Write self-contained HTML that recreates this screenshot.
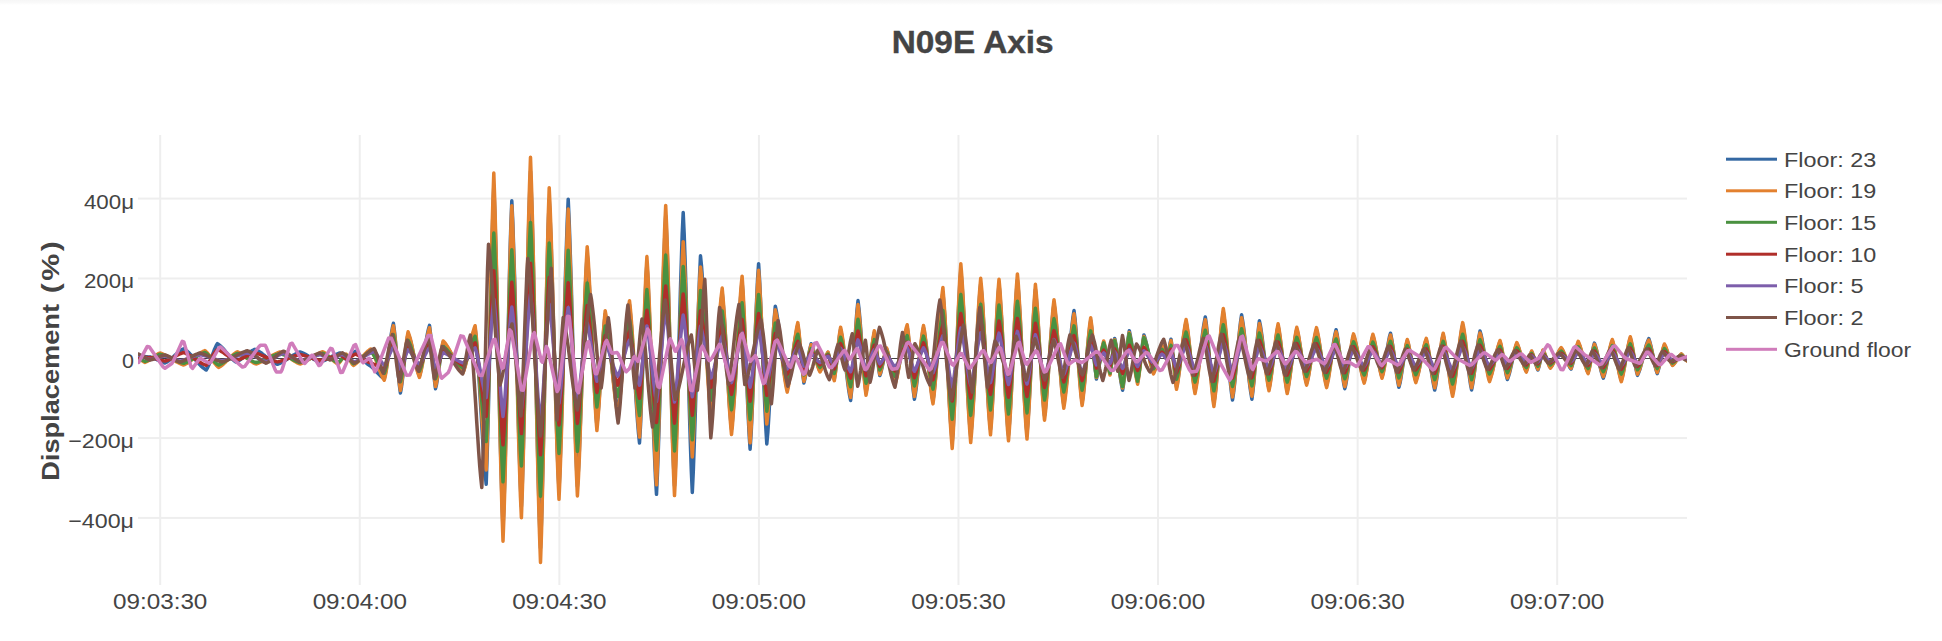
<!DOCTYPE html>
<html><head><meta charset="utf-8"><style>html,body{margin:0;padding:0;background:#fff;overflow:hidden}svg{display:block}</style></head>
<body><svg width="1942" height="641" viewBox="0 0 1942 641"><rect x="0" y="0" width="1942" height="641" fill="#fff"/><defs><linearGradient id="tg" x1="0" y1="0" x2="0" y2="1"><stop offset="0" stop-color="#f6f6f6"/><stop offset="0.5" stop-color="#f9f9f9"/><stop offset="1" stop-color="#ffffff"/></linearGradient></defs><rect x="0" y="0" width="1942" height="5" fill="url(#tg)"/><rect x="159.20" y="135" width="2" height="450" fill="#eeeeee"/><rect x="358.77" y="135" width="2" height="450" fill="#eeeeee"/><rect x="558.34" y="135" width="2" height="450" fill="#eeeeee"/><rect x="757.91" y="135" width="2" height="450" fill="#eeeeee"/><rect x="957.48" y="135" width="2" height="450" fill="#eeeeee"/><rect x="1157.05" y="135" width="2" height="450" fill="#eeeeee"/><rect x="1356.62" y="135" width="2" height="450" fill="#eeeeee"/><rect x="1556.19" y="135" width="2" height="450" fill="#eeeeee"/><rect x="138" y="197.60" width="1549" height="2" fill="#eeeeee"/><rect x="138" y="277.45" width="1549" height="2" fill="#eeeeee"/><rect x="138" y="437.10" width="1549" height="2" fill="#eeeeee"/><rect x="138" y="516.90" width="1549" height="2" fill="#eeeeee"/><rect x="138" y="358" width="1549" height="1" fill="#444"/><defs><clipPath id="pc"><rect x="138" y="135" width="1549" height="450"/></clipPath></defs><g clip-path="url(#pc)" fill="none" stroke-width="3.5" stroke-linejoin="round" stroke-linecap="round"><path d="M138.0,356.0 L139.0,356.1 L140.0,356.1 L141.0,356.2 L142.0,356.3 L143.0,356.4 L144.0,356.5 L145.0,356.6 L146.0,356.7 L147.0,356.8 L148.0,356.9 L149.0,356.9 L150.0,357.0 L151.0,357.3 L152.0,357.6 L153.0,357.9 L154.0,358.4 L155.0,358.8 L156.0,359.3 L157.0,359.8 L158.0,360.2 L159.0,360.7 L160.0,361.2 L161.0,361.6 L162.0,362.1 L163.0,362.4 L164.0,362.7 L165.0,363.0 L166.0,362.5 L167.0,361.9 L168.0,361.3 L168.9,360.6 L169.9,359.8 L170.9,359.0 L171.9,358.1 L172.9,357.2 L173.9,356.3 L174.8,355.4 L175.8,354.5 L176.8,353.6 L177.8,352.7 L178.8,351.9 L179.8,351.1 L180.7,350.4 L181.7,349.8 L182.7,349.2 L183.7,348.7 L184.7,349.3 L185.7,350.0 L186.8,350.8 L187.8,351.7 L188.8,352.6 L189.8,353.7 L190.9,354.7 L191.9,355.8 L192.9,357.0 L193.9,358.2 L194.9,359.4 L196.0,360.5 L197.0,361.7 L198.0,362.9 L199.0,364.0 L200.1,365.0 L201.1,366.1 L202.1,367.0 L203.1,367.9 L204.2,368.7 L205.2,369.4 L206.2,370.0 L207.2,368.4 L208.2,366.3 L209.3,363.9 L210.3,361.2 L211.3,358.3 L212.3,355.4 L213.3,352.5 L214.3,349.8 L215.4,347.4 L216.4,345.3 L217.4,343.7 L218.4,344.3 L219.4,345.1 L220.3,345.9 L221.3,346.8 L222.3,347.8 L223.3,348.8 L224.3,349.9 L225.2,351.1 L226.2,352.3 L227.2,353.4 L228.2,354.6 L229.1,355.8 L230.1,356.9 L231.1,357.9 L232.1,358.9 L233.1,359.8 L234.0,360.6 L235.0,361.4 L236.0,362.0 L237.0,361.6 L238.0,361.1 L239.0,360.5 L240.0,359.9 L241.0,359.2 L242.0,358.4 L243.0,357.7 L244.0,356.9 L245.0,356.1 L245.9,355.2 L246.9,354.4 L247.9,353.6 L248.9,352.9 L249.9,352.1 L250.9,351.4 L251.9,350.8 L252.9,350.2 L253.9,349.7 L254.9,349.3 L255.9,349.7 L256.9,350.2 L258.0,350.8 L259.0,351.4 L260.0,352.1 L261.0,352.8 L262.0,353.5 L263.0,354.3 L264.1,355.1 L265.1,356.0 L266.1,356.8 L267.1,357.6 L268.1,358.5 L269.2,359.3 L270.2,360.1 L271.2,360.8 L272.2,361.5 L273.2,362.2 L274.2,362.8 L275.3,363.4 L276.3,363.9 L277.3,364.3 L278.3,364.0 L279.3,363.6 L280.3,363.1 L281.2,362.7 L282.2,362.1 L283.2,361.6 L284.2,361.0 L285.2,360.4 L286.2,359.8 L287.2,359.1 L288.2,358.5 L289.1,357.8 L290.1,357.2 L291.1,356.5 L292.1,355.9 L293.1,355.3 L294.1,354.7 L295.1,354.2 L296.1,353.6 L297.0,353.2 L298.0,352.7 L299.0,352.3 L300.0,352.0 L301.0,352.3 L302.0,352.7 L303.0,353.1 L304.0,353.6 L305.0,354.1 L306.0,354.6 L307.0,355.2 L308.0,355.8 L309.0,356.4 L310.0,357.0 L311.0,357.6 L312.0,358.2 L313.0,358.8 L314.0,359.4 L315.0,359.9 L316.0,360.4 L317.0,360.9 L318.0,361.3 L319.0,361.7 L320.0,362.0 L321.0,361.7 L322.0,361.4 L323.0,361.0 L324.0,360.6 L325.0,360.1 L326.0,359.6 L327.0,359.1 L328.0,358.6 L329.0,358.1 L330.0,357.5 L331.0,356.9 L332.0,356.4 L333.0,355.9 L334.0,355.4 L335.0,354.9 L336.0,354.4 L337.0,354.0 L338.0,353.6 L339.0,353.3 L340.0,353.0 L341.0,353.7 L342.0,354.7 L343.0,355.9 L344.0,357.1 L345.0,358.3 L346.0,359.3 L347.0,360.0 L348.1,359.2 L349.1,358.2 L350.2,356.9 L351.2,355.6 L352.3,354.3 L353.4,353.0 L354.4,352.0 L355.5,351.2 L356.5,351.9 L357.5,352.8 L358.5,353.8 L359.5,354.9 L360.5,356.1 L361.5,357.4 L362.6,358.6 L363.6,359.9 L364.6,361.1 L365.6,362.2 L366.6,363.2 L367.6,364.1 L368.6,364.8 L369.6,365.4 L370.6,366.1 L371.5,366.8 L372.5,367.7 L373.5,368.6 L374.5,369.6 L375.5,370.7 L376.5,371.7 L377.4,372.8 L378.4,373.8 L379.4,374.8 L380.4,375.8 L381.4,376.6 L382.3,377.4 L383.3,378.1 L384.3,378.7 L385.3,374.3 L386.3,368.7 L387.3,362.1 L388.3,354.7 L389.4,347.2 L390.4,339.9 L391.4,333.3 L392.4,327.7 L393.4,323.3 L394.4,330.6 L395.4,340.5 L396.4,352.0 L397.4,364.2 L398.4,375.7 L399.4,385.6 L400.4,392.9 L401.4,387.6 L402.3,380.5 L403.3,372.3 L404.2,363.3 L405.2,354.3 L406.2,346.0 L407.1,339.0 L408.1,333.7 L409.1,336.3 L410.2,339.6 L411.2,343.5 L412.2,347.9 L413.2,352.5 L414.3,357.2 L415.3,361.8 L416.3,366.2 L417.3,370.1 L418.4,373.4 L419.4,376.1 L420.4,372.5 L421.4,368.0 L422.4,362.8 L423.4,356.9 L424.4,350.7 L425.5,344.6 L426.5,338.7 L427.5,333.4 L428.5,328.9 L429.5,325.4 L430.5,333.4 L431.5,344.4 L432.5,357.0 L433.5,369.7 L434.5,380.7 L435.5,388.7 L436.5,384.5 L437.4,379.0 L438.4,372.5 L439.4,365.5 L440.3,358.4 L441.3,351.9 L442.2,346.4 L443.2,342.2 L444.2,343.2 L445.2,344.3 L446.2,345.5 L447.2,346.9 L448.1,348.4 L449.1,350.0 L450.1,351.7 L451.1,353.5 L452.1,355.3 L453.1,357.1 L454.1,358.9 L455.1,360.7 L456.1,362.5 L457.1,364.2 L458.1,365.8 L459.0,367.3 L460.0,368.6 L461.0,369.9 L462.0,371.0 L463.0,372.0 L464.0,369.5 L465.0,366.4 L466.0,362.8 L467.0,358.8 L468.0,354.4 L469.1,350.0 L470.1,345.5 L471.1,341.2 L472.1,337.2 L473.1,333.6 L474.1,330.5 L475.1,328.0 L476.1,337.8 L477.1,350.0 L478.1,364.3 L479.1,380.3 L480.1,397.4 L481.2,414.8 L482.2,431.9 L483.2,447.9 L484.2,462.2 L485.2,474.4 L486.2,484.2 L487.1,457.3 L488.1,422.0 L489.1,380.3 L490.0,335.1 L490.9,289.9 L491.9,248.2 L492.9,212.9 L493.8,186.0 L494.8,212.9 L495.8,247.6 L496.9,288.7 L497.9,333.9 L498.9,380.5 L499.9,425.7 L501.0,466.7 L502.0,501.4 L503.0,528.4 L504.0,502.6 L505.0,469.4 L505.9,430.1 L506.9,386.9 L507.9,342.3 L508.9,299.1 L509.8,259.8 L510.8,226.6 L511.8,200.8 L512.8,222.1 L513.7,249.2 L514.7,281.0 L515.6,316.4 L516.6,353.7 L517.6,390.9 L518.5,426.3 L519.5,458.2 L520.4,485.2 L521.4,506.5 L522.4,480.1 L523.4,446.1 L524.4,406.0 L525.4,361.7 L526.5,316.1 L527.5,271.9 L528.5,231.7 L529.5,197.7 L530.5,171.3 L531.5,197.6 L532.5,230.9 L533.5,270.2 L534.5,313.8 L535.5,359.7 L536.5,405.6 L537.5,449.2 L538.5,488.5 L539.5,521.8 L540.5,548.1 L541.5,520.7 L542.4,485.3 L543.4,443.6 L544.4,397.6 L545.3,350.2 L546.3,304.2 L547.3,262.4 L548.2,227.1 L549.2,199.6 L550.2,219.9 L551.2,245.5 L552.1,275.7 L553.1,309.2 L554.1,344.5 L555.1,379.8 L556.1,413.4 L557.0,443.6 L558.0,469.2 L559.0,489.4 L560.0,466.6 L561.0,437.1 L562.1,402.4 L563.1,364.1 L564.1,324.6 L565.1,286.3 L566.2,251.5 L567.2,222.0 L568.2,199.2 L569.2,221.8 L570.2,250.9 L571.3,285.3 L572.3,323.2 L573.3,362.3 L574.3,400.2 L575.4,434.6 L576.4,463.8 L577.4,486.4 L578.4,470.2 L579.4,449.7 L580.3,425.5 L581.3,398.7 L582.3,370.4 L583.3,342.2 L584.3,315.4 L585.2,291.2 L586.2,270.7 L587.2,254.5 L588.2,266.4 L589.1,281.5 L590.1,299.4 L591.1,319.2 L592.0,340.0 L593.0,360.8 L594.0,380.6 L595.0,398.4 L595.9,413.5 L596.9,425.4 L597.9,415.4 L599.0,402.2 L600.0,386.6 L601.0,369.7 L602.1,352.9 L603.1,337.3 L604.2,324.1 L605.2,314.0 L606.2,319.5 L607.3,326.3 L608.3,334.3 L609.4,343.1 L610.4,352.7 L611.5,362.5 L612.5,372.4 L613.5,381.9 L614.6,390.8 L615.6,398.7 L616.7,405.5 L617.7,411.0 L618.7,405.0 L619.7,397.6 L620.7,388.9 L621.6,379.2 L622.6,368.7 L623.6,357.9 L624.6,347.1 L625.6,336.7 L626.5,327.0 L627.5,318.3 L628.5,310.9 L629.5,304.8 L630.5,314.5 L631.5,326.7 L632.5,341.1 L633.5,357.1 L634.5,373.9 L635.5,390.7 L636.5,406.7 L637.5,421.1 L638.5,433.4 L639.5,443.0 L640.6,424.1 L641.6,398.8 L642.7,369.0 L643.7,337.7 L644.8,308.0 L645.8,282.6 L646.9,263.7 L647.9,279.8 L648.8,300.2 L649.8,324.2 L650.7,350.9 L651.7,379.0 L652.7,407.1 L653.6,433.8 L654.6,457.8 L655.5,478.2 L656.5,494.3 L657.5,472.4 L658.5,444.2 L659.6,410.8 L660.6,374.1 L661.6,336.3 L662.6,299.6 L663.7,266.2 L664.7,238.0 L665.7,216.1 L666.7,237.3 L667.7,264.7 L668.6,297.1 L669.6,332.7 L670.6,369.4 L671.6,405.0 L672.5,437.4 L673.5,464.7 L674.5,486.0 L675.5,464.5 L676.4,436.7 L677.4,403.9 L678.4,367.9 L679.3,330.6 L680.3,294.5 L681.3,261.8 L682.2,234.0 L683.2,212.5 L684.2,234.5 L685.2,262.9 L686.2,296.5 L687.2,333.4 L688.3,371.5 L689.3,408.4 L690.3,442.0 L691.3,470.4 L692.3,492.4 L693.3,471.1 L694.3,443.1 L695.4,410.0 L696.4,374.1 L697.4,338.2 L698.5,305.1 L699.5,277.1 L700.5,255.8 L701.5,265.8 L702.4,278.3 L703.4,293.0 L704.4,309.4 L705.3,326.8 L706.3,344.6 L707.2,362.1 L708.2,378.5 L709.2,393.2 L710.1,405.7 L711.1,415.7 L712.1,408.0 L713.1,398.4 L714.1,387.1 L715.1,374.6 L716.1,361.2 L717.2,347.5 L718.2,334.1 L719.2,321.6 L720.2,310.3 L721.2,300.7 L722.2,293.0 L723.2,303.7 L724.3,317.6 L725.3,333.9 L726.3,351.9 L727.4,370.4 L728.4,388.4 L729.4,404.7 L730.5,418.5 L731.5,429.3 L732.5,420.0 L733.4,408.5 L734.4,395.0 L735.4,379.9 L736.3,363.8 L737.3,347.4 L738.2,331.3 L739.2,316.2 L740.2,302.7 L741.1,291.2 L742.1,281.9 L743.1,297.0 L744.1,316.8 L745.1,340.2 L746.1,365.6 L747.1,390.9 L748.1,414.3 L749.1,434.1 L750.1,449.2 L751.2,432.5 L752.2,410.5 L753.3,384.6 L754.4,356.4 L755.4,328.3 L756.5,302.4 L757.5,280.4 L758.6,263.7 L759.6,280.0 L760.6,301.3 L761.7,326.5 L762.7,353.8 L763.7,381.1 L764.8,406.3 L765.8,427.6 L766.8,443.9 L767.9,431.5 L768.9,415.2 L770.0,395.9 L771.0,375.0 L772.1,354.2 L773.2,334.9 L774.2,318.6 L775.3,306.2 L776.3,310.9 L777.3,316.8 L778.3,323.6 L779.3,331.3 L780.3,339.5 L781.2,348.0 L782.2,356.5 L783.2,364.7 L784.2,372.3 L785.2,379.1 L786.2,385.0 L787.2,389.7 L788.2,385.7 L789.1,380.6 L790.1,374.7 L791.1,368.1 L792.0,361.0 L793.0,353.8 L793.9,346.8 L794.9,340.1 L795.9,334.2 L796.8,329.1 L797.8,325.1 L798.8,332.4 L799.8,342.4 L800.8,354.0 L801.9,365.6 L802.9,375.6 L803.9,382.9 L804.9,378.8 L806.0,373.3 L807.0,366.8 L808.0,359.9 L809.0,353.4 L810.1,347.9 L811.1,343.8 L812.1,345.9 L813.1,348.7 L814.1,352.0 L815.1,355.6 L816.0,359.3 L817.0,362.9 L818.0,366.1 L819.0,368.9 L820.0,371.0 L821.0,369.4 L822.0,367.2 L823.0,364.6 L824.0,361.7 L825.0,358.9 L826.0,356.3 L827.0,354.1 L828.0,352.4 L829.0,355.8 L830.1,360.4 L831.1,365.8 L832.2,371.1 L833.2,375.7 L834.3,379.1 L835.3,372.8 L836.4,364.2 L837.5,354.3 L838.5,344.3 L839.5,335.7 L840.6,329.4 L841.6,334.3 L842.6,340.6 L843.6,348.0 L844.6,356.3 L845.6,364.9 L846.6,373.6 L847.6,381.8 L848.6,389.2 L849.6,395.5 L850.6,400.5 L851.7,390.0 L852.7,375.9 L853.8,359.3 L854.8,341.8 L855.9,325.2 L856.9,311.1 L858.0,300.6 L859.0,308.9 L860.0,319.8 L861.0,332.7 L862.0,346.7 L863.0,360.6 L864.0,373.5 L865.0,384.4 L866.0,392.7 L867.0,387.3 L868.1,380.2 L869.1,371.8 L870.1,362.7 L871.2,353.6 L872.2,345.2 L873.3,338.0 L874.3,332.6 L875.2,338.1 L876.1,345.5 L877.0,354.1 L878.0,362.7 L878.9,370.2 L879.8,375.6 L880.8,372.8 L881.7,369.0 L882.7,364.5 L883.7,359.8 L884.7,355.4 L885.6,351.6 L886.6,348.7 L887.6,351.8 L888.7,355.9 L889.7,360.7 L890.8,365.9 L891.8,371.1 L892.8,376.0 L893.9,380.0 L894.9,383.1 L895.9,379.9 L897.0,376.0 L898.0,371.4 L899.0,366.3 L900.0,360.8 L901.0,355.1 L902.1,349.4 L903.1,343.9 L904.1,338.7 L905.2,334.2 L906.2,330.2 L907.2,327.0 L908.2,334.7 L909.3,344.9 L910.3,356.9 L911.3,369.5 L912.3,381.5 L913.4,391.7 L914.4,399.3 L915.4,393.7 L916.4,386.4 L917.4,377.8 L918.4,368.4 L919.5,358.7 L920.5,349.2 L921.5,340.7 L922.5,333.4 L923.5,327.8 L924.5,332.9 L925.4,339.3 L926.4,346.9 L927.3,355.4 L928.2,364.2 L929.2,373.1 L930.1,381.6 L931.1,389.2 L932.0,395.6 L933.0,400.7 L934.0,393.1 L935.0,383.6 L936.0,372.3 L937.0,359.7 L938.0,346.5 L938.9,333.3 L939.9,320.8 L940.9,309.5 L941.9,299.9 L942.9,292.4 L943.9,304.2 L945.0,319.3 L946.0,337.3 L947.0,357.1 L948.1,377.5 L949.1,397.2 L950.1,415.2 L951.2,430.4 L952.2,442.2 L953.2,428.7 L954.1,411.2 L955.1,390.6 L956.0,367.9 L957.0,344.6 L957.9,321.9 L958.9,301.3 L959.8,283.8 L960.8,270.3 L961.8,281.9 L962.8,296.6 L963.8,314.0 L964.8,333.2 L965.8,353.5 L966.7,373.7 L967.7,393.0 L968.7,410.3 L969.7,425.0 L970.7,436.6 L971.7,425.9 L972.7,412.4 L973.7,396.5 L974.7,378.8 L975.7,360.2 L976.7,341.6 L977.7,324.0 L978.7,308.1 L979.7,294.6 L980.7,283.9 L981.7,294.1 L982.7,306.9 L983.6,322.1 L984.6,338.9 L985.6,356.7 L986.6,374.4 L987.6,391.2 L988.5,406.4 L989.5,419.3 L990.5,429.4 L991.6,416.4 L992.6,399.3 L993.7,379.0 L994.8,357.1 L995.8,335.2 L996.9,314.9 L997.9,297.8 L999.0,284.7 L1000.0,295.2 L1000.9,308.5 L1001.9,324.2 L1002.8,341.6 L1003.8,359.9 L1004.7,378.2 L1005.6,395.6 L1006.6,411.2 L1007.5,424.5 L1008.5,435.0 L1009.5,422.8 L1010.5,407.1 L1011.5,388.5 L1012.5,368.0 L1013.4,346.9 L1014.4,326.4 L1015.4,307.8 L1016.4,292.1 L1017.4,279.9 L1018.4,290.6 L1019.3,304.2 L1020.3,320.2 L1021.2,338.0 L1022.2,356.7 L1023.2,375.4 L1024.1,393.1 L1025.1,409.2 L1026.0,422.7 L1027.0,433.4 L1028.0,420.5 L1029.1,403.4 L1030.2,383.3 L1031.2,361.5 L1032.2,339.6 L1033.3,319.5 L1034.4,302.5 L1035.4,289.5 L1036.4,299.4 L1037.4,312.2 L1038.4,327.4 L1039.4,344.1 L1040.5,361.3 L1041.5,377.9 L1042.5,393.1 L1043.5,405.9 L1044.5,415.9 L1045.5,408.0 L1046.4,398.1 L1047.3,386.5 L1048.3,373.5 L1049.2,359.9 L1050.2,346.2 L1051.2,333.3 L1052.1,321.6 L1053.0,311.7 L1054.0,303.9 L1055.0,310.9 L1056.0,319.8 L1056.9,330.3 L1057.9,342.0 L1058.9,354.3 L1059.9,366.6 L1060.9,378.2 L1061.8,388.8 L1062.8,397.7 L1063.8,404.7 L1064.8,398.1 L1065.8,389.8 L1066.9,380.0 L1067.9,369.0 L1068.9,357.6 L1069.9,346.1 L1070.9,335.1 L1072.0,325.3 L1073.0,317.0 L1074.0,310.4 L1075.0,318.7 L1076.0,329.6 L1077.0,342.4 L1078.0,356.3 L1079.1,370.3 L1080.1,383.1 L1081.1,394.0 L1082.1,402.3 L1083.1,395.9 L1084.0,387.6 L1085.0,377.8 L1085.9,367.0 L1086.9,355.9 L1087.8,345.1 L1088.8,335.3 L1089.7,327.1 L1090.7,320.6 L1091.7,328.0 L1092.6,338.1 L1093.6,349.8 L1094.5,361.5 L1095.5,371.6 L1096.4,379.0 L1097.4,375.1 L1098.5,369.9 L1099.5,363.8 L1100.6,357.4 L1101.6,351.3 L1102.7,346.1 L1103.7,342.2 L1104.8,346.2 L1105.8,351.7 L1106.8,358.0 L1107.9,364.3 L1109.0,369.8 L1110.0,373.8 L1110.9,368.2 L1111.9,360.4 L1112.8,351.8 L1113.8,344.0 L1114.7,338.4 L1115.7,343.1 L1116.7,349.2 L1117.7,356.5 L1118.7,364.3 L1119.6,372.1 L1120.6,379.4 L1121.6,385.5 L1122.6,390.2 L1123.6,383.9 L1124.5,375.5 L1125.5,365.6 L1126.4,355.3 L1127.4,345.4 L1128.3,337.0 L1129.3,330.7 L1130.3,335.4 L1131.4,341.5 L1132.4,348.7 L1133.4,356.5 L1134.5,364.4 L1135.5,371.6 L1136.6,377.7 L1137.6,382.4 L1138.6,376.4 L1139.7,368.2 L1140.8,358.7 L1141.8,349.2 L1142.9,341.0 L1143.9,335.0 L1144.9,337.6 L1145.8,341.0 L1146.8,344.9 L1147.7,349.3 L1148.7,353.9 L1149.7,358.5 L1150.6,362.9 L1151.6,366.8 L1152.5,370.2 L1153.5,372.8 L1154.6,370.4 L1155.6,367.2 L1156.7,363.4 L1157.8,359.4 L1158.8,355.3 L1159.9,351.5 L1160.9,348.4 L1162.0,345.9 L1163.0,348.1 L1164.0,351.2 L1165.0,354.6 L1166.0,357.7 L1167.0,359.9 L1168.0,355.6 L1169.0,349.5 L1170.0,343.5 L1171.0,339.2 L1171.9,345.3 L1172.8,353.6 L1173.8,363.2 L1174.7,372.7 L1175.6,381.0 L1176.5,387.1 L1177.5,382.6 L1178.4,376.9 L1179.4,370.1 L1180.3,362.6 L1181.3,354.7 L1182.3,346.8 L1183.2,339.2 L1184.2,332.5 L1185.1,326.7 L1186.1,322.2 L1187.1,327.6 L1188.1,334.6 L1189.1,342.9 L1190.1,352.0 L1191.0,361.4 L1192.0,370.5 L1193.0,378.7 L1194.0,385.7 L1195.0,391.1 L1196.0,385.9 L1197.1,379.4 L1198.1,371.6 L1199.1,363.1 L1200.2,354.0 L1201.2,345.0 L1202.2,336.4 L1203.2,328.6 L1204.3,322.1 L1205.3,316.9 L1206.3,323.7 L1207.2,332.4 L1208.2,342.8 L1209.1,354.1 L1210.1,365.9 L1211.0,377.3 L1212.0,387.6 L1212.9,396.3 L1213.9,403.1 L1214.9,396.0 L1216.0,386.7 L1217.0,375.8 L1218.1,363.8 L1219.1,351.4 L1220.2,339.4 L1221.2,328.5 L1222.3,319.2 L1223.3,312.1 L1224.3,319.0 L1225.3,327.9 L1226.4,338.5 L1227.4,350.1 L1228.4,362.0 L1229.4,373.6 L1230.5,384.2 L1231.5,393.1 L1232.5,400.0 L1233.5,393.3 L1234.5,384.6 L1235.5,374.4 L1236.5,363.2 L1237.6,351.5 L1238.6,340.3 L1239.6,330.1 L1240.6,321.4 L1241.6,314.7 L1242.6,320.6 L1243.7,328.1 L1244.7,336.9 L1245.7,346.7 L1246.8,356.9 L1247.8,367.2 L1248.8,377.0 L1249.8,385.8 L1250.9,393.3 L1251.9,399.2 L1252.8,392.1 L1253.8,382.8 L1254.7,371.9 L1255.7,360.0 L1256.6,348.1 L1257.5,337.2 L1258.5,327.9 L1259.4,320.8 L1260.4,325.5 L1261.3,331.5 L1262.3,338.6 L1263.2,346.4 L1264.2,354.7 L1265.2,362.9 L1266.1,370.7 L1267.1,377.8 L1268.0,383.8 L1269.0,388.5 L1270.0,383.6 L1271.0,377.3 L1272.0,369.8 L1273.0,361.6 L1274.1,353.1 L1275.1,344.9 L1276.1,337.4 L1277.1,331.1 L1278.1,326.2 L1279.1,331.3 L1280.1,337.9 L1281.1,345.7 L1282.1,354.3 L1283.2,363.1 L1284.2,371.7 L1285.2,379.4 L1286.2,386.0 L1287.2,391.1 L1288.2,386.8 L1289.1,381.4 L1290.1,374.9 L1291.0,367.8 L1292.0,360.3 L1293.0,352.8 L1293.9,345.6 L1294.9,339.2 L1295.8,333.8 L1296.8,329.5 L1297.8,333.2 L1298.8,338.0 L1299.7,343.6 L1300.7,349.8 L1301.7,356.4 L1302.7,362.9 L1303.7,369.2 L1304.6,374.8 L1305.6,379.6 L1306.6,383.3 L1307.6,379.6 L1308.6,374.8 L1309.6,369.3 L1310.6,363.1 L1311.5,356.5 L1312.5,350.0 L1313.5,343.8 L1314.5,338.2 L1315.5,333.5 L1316.5,329.7 L1317.5,333.6 L1318.5,338.6 L1319.5,344.4 L1320.5,350.8 L1321.5,357.6 L1322.6,364.4 L1323.6,370.9 L1324.6,376.7 L1325.6,381.7 L1326.6,385.5 L1327.5,381.6 L1328.5,376.7 L1329.4,370.9 L1330.4,364.4 L1331.3,357.6 L1332.3,350.8 L1333.2,344.4 L1334.2,338.5 L1335.1,333.6 L1336.1,329.7 L1337.1,334.3 L1338.0,340.3 L1339.0,347.4 L1340.0,355.2 L1340.9,363.2 L1341.9,371.0 L1342.9,378.1 L1343.8,384.1 L1344.8,388.7 L1345.8,384.5 L1346.7,379.1 L1347.7,372.8 L1348.7,365.8 L1349.6,358.5 L1350.6,351.5 L1351.6,345.2 L1352.5,339.8 L1353.5,335.6 L1354.5,338.5 L1355.4,342.0 L1356.4,346.3 L1357.4,350.9 L1358.4,355.9 L1359.3,361.0 L1360.3,366.0 L1361.3,370.7 L1362.3,374.9 L1363.2,378.5 L1364.2,381.4 L1365.2,377.8 L1366.1,373.2 L1367.1,367.7 L1368.1,361.8 L1369.0,355.6 L1370.0,349.6 L1371.0,344.2 L1371.9,339.5 L1372.9,336.0 L1373.9,339.2 L1374.9,343.3 L1375.9,348.2 L1376.9,353.6 L1378.0,359.2 L1379.0,364.6 L1380.0,369.4 L1381.0,373.6 L1382.0,376.8 L1383.1,372.9 L1384.1,367.7 L1385.2,361.6 L1386.2,355.0 L1387.3,348.4 L1388.4,342.3 L1389.4,337.1 L1390.5,333.2 L1391.5,338.1 L1392.6,344.5 L1393.7,352.1 L1394.7,360.2 L1395.8,368.4 L1396.8,376.0 L1397.9,382.4 L1398.9,387.3 L1400.0,383.1 L1401.0,377.6 L1402.0,371.1 L1403.1,364.1 L1404.2,357.0 L1405.2,350.5 L1406.2,345.0 L1407.3,340.8 L1408.4,344.4 L1409.4,349.2 L1410.5,354.8 L1411.5,360.9 L1412.6,366.9 L1413.7,372.5 L1414.7,377.3 L1415.8,380.9 L1416.8,378.0 L1417.9,374.4 L1419.0,370.1 L1420.0,365.3 L1421.0,360.3 L1422.1,355.3 L1423.1,350.6 L1424.2,346.3 L1425.2,342.7 L1426.3,339.8 L1427.3,344.3 L1428.4,350.3 L1429.5,357.3 L1430.5,364.9 L1431.5,372.5 L1432.6,379.5 L1433.7,385.5 L1434.7,390.0 L1435.8,385.0 L1436.8,378.5 L1437.9,370.8 L1439.0,362.5 L1440.0,354.1 L1441.1,346.4 L1442.1,339.9 L1443.2,335.0 L1444.2,339.6 L1445.3,345.5 L1446.3,352.6 L1447.4,360.3 L1448.4,368.3 L1449.5,376.0 L1450.5,383.1 L1451.6,389.0 L1452.6,393.6 L1453.6,388.9 L1454.6,382.8 L1455.6,375.6 L1456.6,367.7 L1457.7,359.4 L1458.7,351.0 L1459.7,343.1 L1460.7,335.9 L1461.7,329.9 L1462.7,325.1 L1463.7,330.2 L1464.7,336.8 L1465.7,344.6 L1466.7,353.1 L1467.6,362.0 L1468.6,370.5 L1469.6,378.3 L1470.6,384.9 L1471.6,390.0 L1472.6,384.7 L1473.7,377.7 L1474.8,369.4 L1475.8,360.5 L1476.8,351.6 L1477.9,343.3 L1479.0,336.3 L1480.0,331.0 L1481.0,334.4 L1481.9,338.7 L1482.8,343.9 L1483.8,349.5 L1484.8,355.5 L1485.7,361.4 L1486.7,367.1 L1487.6,372.2 L1488.5,376.5 L1489.5,380.0 L1490.5,377.3 L1491.6,373.9 L1492.7,369.9 L1493.7,365.5 L1494.8,360.9 L1495.8,356.2 L1496.8,351.8 L1497.9,347.8 L1499.0,344.4 L1500.0,341.7 L1501.1,345.7 L1502.1,351.1 L1503.2,357.3 L1504.2,363.9 L1505.3,370.2 L1506.3,375.5 L1507.4,379.5 L1508.4,376.7 L1509.5,373.1 L1510.5,368.8 L1511.6,364.0 L1512.6,359.2 L1513.7,354.4 L1514.7,350.1 L1515.8,346.5 L1516.8,343.7 L1517.8,345.6 L1518.7,348.0 L1519.6,350.9 L1520.6,354.1 L1521.5,357.4 L1522.5,360.8 L1523.5,363.9 L1524.4,366.8 L1525.3,369.2 L1526.3,371.1 L1527.4,368.0 L1528.4,363.7 L1529.5,358.9 L1530.5,354.6 L1531.6,351.5 L1532.6,353.9 L1533.7,357.1 L1534.8,360.8 L1535.8,364.5 L1536.9,367.7 L1537.9,370.0 L1538.9,366.9 L1539.9,362.7 L1541.0,357.9 L1542.0,353.7 L1543.0,350.6 L1544.1,352.4 L1545.1,354.8 L1546.2,357.6 L1547.2,360.5 L1548.3,363.3 L1549.3,365.7 L1550.4,367.5 L1551.4,366.3 L1552.4,364.8 L1553.3,363.0 L1554.3,361.1 L1555.3,359.0 L1556.3,356.9 L1557.3,354.8 L1558.3,352.8 L1559.2,351.0 L1560.2,349.5 L1561.2,348.3 L1562.2,349.8 L1563.2,351.6 L1564.1,353.8 L1565.1,356.2 L1566.1,358.7 L1567.1,361.3 L1568.1,363.7 L1569.0,365.8 L1570.0,367.7 L1571.0,369.1 L1572.0,366.3 L1573.1,362.5 L1574.1,358.1 L1575.1,353.5 L1576.1,349.1 L1577.2,345.3 L1578.2,342.5 L1579.2,344.6 L1580.2,347.2 L1581.2,350.4 L1582.2,353.8 L1583.2,357.5 L1584.1,361.2 L1585.1,364.6 L1586.1,367.8 L1587.1,370.4 L1588.1,372.5 L1589.1,368.8 L1590.2,363.7 L1591.2,357.8 L1592.3,351.9 L1593.4,346.8 L1594.4,343.1 L1595.4,345.9 L1596.4,349.4 L1597.4,353.6 L1598.4,358.2 L1599.3,363.0 L1600.3,367.6 L1601.3,371.8 L1602.3,375.3 L1603.3,378.1 L1604.3,375.2 L1605.3,371.4 L1606.3,366.9 L1607.3,362.0 L1608.3,356.9 L1609.3,352.0 L1610.3,347.5 L1611.3,343.7 L1612.3,340.8 L1613.3,343.9 L1614.3,347.9 L1615.3,352.6 L1616.3,357.8 L1617.3,363.1 L1618.3,368.3 L1619.3,373.0 L1620.3,377.0 L1621.3,380.1 L1622.3,376.8 L1623.3,372.5 L1624.3,367.5 L1625.3,362.0 L1626.3,356.3 L1627.3,350.8 L1628.3,345.8 L1629.3,341.6 L1630.3,338.3 L1631.3,342.2 L1632.4,347.5 L1633.4,353.6 L1634.4,360.1 L1635.4,366.2 L1636.5,371.5 L1637.5,375.4 L1638.5,373.1 L1639.6,370.2 L1640.6,366.8 L1641.6,363.1 L1642.6,359.1 L1643.7,354.9 L1644.7,350.9 L1645.7,347.2 L1646.7,343.8 L1647.8,340.9 L1648.8,338.6 L1649.8,341.8 L1650.9,345.9 L1652.0,350.8 L1653.0,356.1 L1654.0,361.4 L1655.1,366.3 L1656.2,370.4 L1657.2,373.6 L1658.2,370.6 L1659.3,366.5 L1660.3,361.8 L1661.3,356.8 L1662.3,352.1 L1663.4,348.0 L1664.4,345.0 L1665.4,346.8 L1666.4,349.2 L1667.4,352.0 L1668.5,355.0 L1669.5,358.0 L1670.5,360.8 L1671.5,363.2 L1672.5,365.0 L1673.5,364.1 L1674.5,363.0 L1675.5,361.8 L1676.5,360.3 L1677.4,358.9 L1678.4,357.4 L1679.4,356.1 L1680.4,355.1 L1681.4,354.2 L1682.3,355.0 L1683.3,356.2 L1684.2,357.5 L1685.1,358.8 L1686.1,360.0 L1687.0,360.8" stroke="#3468a3"/><path d="M138.0,358.0 L139.0,358.5 L140.0,359.1 L141.0,359.8 L142.0,360.6 L143.0,361.3 L144.0,361.9 L145.0,362.4 L146.0,362.0 L147.0,361.5 L148.0,360.9 L149.0,360.3 L150.0,359.6 L151.0,358.8 L152.0,358.1 L153.0,357.3 L154.0,356.6 L155.0,355.8 L156.0,355.1 L157.0,354.5 L158.0,353.9 L159.0,353.4 L160.0,353.0 L161.0,353.3 L162.0,353.7 L163.0,354.1 L163.9,354.5 L164.9,355.0 L165.9,355.5 L166.9,356.0 L167.9,356.6 L168.9,357.2 L169.9,357.8 L170.9,358.4 L171.8,359.0 L172.8,359.6 L173.8,360.2 L174.8,360.8 L175.8,361.4 L176.8,362.0 L177.8,362.5 L178.8,363.0 L179.8,363.5 L180.7,363.9 L181.7,364.3 L182.7,364.7 L183.7,365.0 L184.7,364.6 L185.7,364.0 L186.7,363.5 L187.7,362.9 L188.7,362.2 L189.8,361.4 L190.8,360.7 L191.8,359.9 L192.8,359.1 L193.8,358.2 L194.8,357.4 L195.8,356.5 L196.8,355.7 L197.8,354.9 L198.8,354.2 L199.9,353.4 L200.9,352.7 L201.9,352.1 L202.9,351.6 L203.9,351.0 L204.9,350.6 L205.9,351.4 L206.9,352.4 L207.8,353.5 L208.8,354.7 L209.8,356.1 L210.8,357.5 L211.8,359.0 L212.7,360.5 L213.7,361.9 L214.7,363.3 L215.7,364.5 L216.6,365.6 L217.6,366.6 L218.6,367.4 L219.6,366.9 L220.6,366.2 L221.6,365.5 L222.6,364.8 L223.5,363.9 L224.5,363.0 L225.5,362.1 L226.5,361.1 L227.5,360.1 L228.5,359.1 L229.5,358.1 L230.5,357.1 L231.5,356.2 L232.5,355.3 L233.4,354.4 L234.4,353.7 L235.4,353.0 L236.4,352.3 L237.4,351.8 L238.4,352.2 L239.4,352.7 L240.3,353.2 L241.3,353.9 L242.3,354.5 L243.3,355.2 L244.3,356.0 L245.2,356.7 L246.2,357.5 L247.2,358.3 L248.2,359.1 L249.1,359.8 L250.1,360.6 L251.1,361.3 L252.1,361.9 L253.1,362.6 L254.0,363.1 L255.0,363.6 L256.0,364.0 L257.0,363.7 L258.0,363.3 L259.0,362.9 L260.0,362.5 L261.0,362.0 L262.0,361.5 L263.0,361.0 L264.0,360.4 L265.0,359.8 L266.0,359.2 L267.0,358.6 L268.0,358.0 L269.0,357.4 L270.0,356.8 L271.0,356.2 L272.0,355.6 L273.0,355.0 L274.0,354.5 L275.0,354.0 L276.0,353.5 L277.0,353.1 L278.0,352.7 L279.0,352.3 L280.0,352.0 L281.0,352.4 L282.0,352.8 L283.0,353.3 L284.0,353.9 L285.0,354.5 L286.0,355.1 L287.0,355.8 L288.0,356.5 L289.0,357.3 L290.0,358.0 L291.0,358.7 L292.0,359.5 L293.0,360.2 L294.0,360.9 L295.0,361.5 L296.0,362.1 L297.0,362.7 L298.0,363.2 L299.0,363.6 L300.0,364.0 L301.0,363.7 L302.0,363.3 L303.0,362.8 L304.0,362.4 L305.0,361.8 L305.9,361.3 L306.9,360.7 L307.9,360.1 L308.9,359.5 L309.9,358.8 L310.9,358.2 L311.9,357.5 L312.9,356.9 L313.9,356.2 L314.9,355.6 L315.9,355.0 L316.9,354.4 L317.8,353.9 L318.8,353.3 L319.8,352.9 L320.8,352.4 L321.8,352.0 L322.8,351.7 L323.8,352.2 L324.8,352.9 L325.8,353.6 L326.9,354.5 L327.9,355.4 L328.9,356.4 L329.9,357.3 L330.9,358.4 L331.9,359.3 L332.9,360.3 L333.9,361.2 L335.0,362.1 L336.0,362.8 L337.0,363.5 L338.0,364.0 L339.0,363.1 L340.0,361.9 L341.0,360.5 L342.0,359.0 L343.0,357.5 L344.0,356.1 L345.0,354.9 L346.0,354.0 L347.1,355.2 L348.1,356.8 L349.2,358.7 L350.2,360.7 L351.3,362.6 L352.3,364.2 L353.4,365.4 L354.4,364.8 L355.4,364.0 L356.5,363.2 L357.5,362.2 L358.5,361.2 L359.5,360.1 L360.6,359.0 L361.6,357.8 L362.6,356.6 L363.6,355.4 L364.7,354.3 L365.7,353.2 L366.7,352.2 L367.7,351.2 L368.8,350.4 L369.8,349.6 L370.8,349.0 L371.8,350.5 L372.7,352.3 L373.7,354.4 L374.7,356.7 L375.6,359.2 L376.6,361.9 L377.6,364.6 L378.5,367.3 L379.5,370.0 L380.4,372.5 L381.4,374.8 L382.4,376.9 L383.3,378.7 L384.3,380.2 L385.3,375.9 L386.3,370.4 L387.3,363.9 L388.3,356.7 L389.4,349.3 L390.4,342.1 L391.4,335.6 L392.4,330.0 L393.4,325.7 L394.4,332.6 L395.4,341.7 L396.4,352.5 L397.4,363.8 L398.4,374.5 L399.4,383.6 L400.4,390.5 L401.4,385.2 L402.3,378.2 L403.3,370.0 L404.2,361.1 L405.2,352.2 L406.2,344.0 L407.1,337.1 L408.1,331.8 L409.1,334.7 L410.2,338.2 L411.2,342.4 L412.2,347.1 L413.2,352.1 L414.3,357.1 L415.3,362.1 L416.3,366.8 L417.3,371.0 L418.4,374.5 L419.4,377.4 L420.4,373.9 L421.4,369.5 L422.4,364.4 L423.4,358.6 L424.4,352.5 L425.5,346.5 L426.5,340.7 L427.5,335.6 L428.5,331.2 L429.5,327.7 L430.5,335.2 L431.5,345.4 L432.5,357.1 L433.5,368.9 L434.5,379.1 L435.5,386.6 L436.5,382.5 L437.4,377.1 L438.4,370.7 L439.4,363.8 L440.3,356.9 L441.3,350.5 L442.2,345.1 L443.2,341.0 L444.2,342.0 L445.2,343.2 L446.2,344.6 L447.2,346.1 L448.1,347.7 L449.1,349.4 L450.1,351.2 L451.1,353.1 L452.1,355.0 L453.1,357.0 L454.1,359.0 L455.1,360.9 L456.1,362.8 L457.1,364.6 L458.1,366.3 L459.0,367.9 L460.0,369.4 L461.0,370.8 L462.0,372.0 L463.0,373.0 L464.0,370.3 L465.0,367.0 L466.0,363.1 L467.0,358.8 L468.0,354.2 L469.1,349.4 L470.1,344.5 L471.1,339.9 L472.1,335.6 L473.1,331.7 L474.1,328.4 L475.1,325.7 L476.1,334.7 L477.1,346.0 L478.1,359.3 L479.1,374.1 L480.1,389.8 L481.2,405.9 L482.2,421.6 L483.2,436.4 L484.2,449.7 L485.2,461.0 L486.2,470.0 L487.1,443.2 L488.1,408.1 L489.1,366.5 L490.0,321.5 L490.9,276.5 L491.9,234.9 L492.9,199.8 L493.8,173.0 L494.8,202.0 L495.8,239.3 L496.9,283.5 L497.9,332.0 L498.9,382.2 L499.9,430.7 L501.0,474.9 L502.0,512.2 L503.0,541.2 L504.0,514.8 L505.0,480.8 L505.9,440.6 L506.9,396.3 L507.9,350.6 L508.9,306.4 L509.8,266.1 L510.8,232.1 L511.8,205.7 L512.8,227.5 L513.7,255.1 L514.7,287.6 L515.6,323.7 L516.6,361.7 L517.6,399.7 L518.5,435.8 L519.5,468.3 L520.4,495.9 L521.4,517.7 L522.4,489.3 L523.4,452.8 L524.4,409.6 L525.4,362.0 L526.5,312.9 L527.5,265.4 L528.5,222.1 L529.5,185.6 L530.5,157.2 L531.5,185.5 L532.5,221.3 L533.5,263.5 L534.5,310.4 L535.5,359.8 L536.5,409.2 L537.5,456.1 L538.5,498.3 L539.5,534.1 L540.5,562.4 L541.5,532.9 L542.4,494.9 L543.4,450.0 L544.4,400.6 L545.3,349.5 L546.3,300.1 L547.3,255.2 L548.2,217.2 L549.2,187.7 L550.2,209.4 L551.2,237.0 L552.1,269.5 L553.1,305.5 L554.1,343.5 L555.1,381.5 L556.1,417.5 L557.0,450.0 L558.0,477.6 L559.0,499.3 L560.0,476.4 L561.0,447.0 L562.1,412.2 L563.1,373.9 L564.1,334.4 L565.1,296.1 L566.2,261.3 L567.2,231.9 L568.2,209.0 L569.2,231.6 L570.2,260.7 L571.3,295.1 L572.3,333.0 L573.3,372.0 L574.3,409.9 L575.4,444.3 L576.4,473.4 L577.4,496.0 L578.4,478.6 L579.4,456.6 L580.3,430.6 L581.3,401.7 L582.3,371.4 L583.3,341.0 L584.3,312.1 L585.2,286.1 L586.2,264.1 L587.2,246.7 L588.2,259.5 L589.1,275.8 L590.1,294.9 L591.1,316.2 L592.0,338.6 L593.0,361.0 L594.0,382.3 L595.0,401.4 L595.9,417.7 L596.9,430.5 L597.9,419.7 L599.0,405.5 L600.0,388.8 L601.0,370.6 L602.1,352.4 L603.1,335.7 L604.2,321.5 L605.2,310.7 L606.2,316.6 L607.3,323.9 L608.3,332.5 L609.4,342.0 L610.4,352.2 L611.5,362.9 L612.5,373.5 L613.5,383.7 L614.6,393.2 L615.6,401.8 L616.7,409.1 L617.7,415.0 L618.7,408.5 L619.7,400.5 L620.7,391.2 L621.6,380.7 L622.6,369.5 L623.6,357.9 L624.6,346.3 L625.6,335.1 L626.5,324.6 L627.5,315.3 L628.5,307.3 L629.5,300.8 L630.5,310.3 L631.5,322.4 L632.5,336.6 L633.5,352.3 L634.5,368.9 L635.5,385.5 L636.5,401.3 L637.5,415.5 L638.5,427.6 L639.5,437.1 L640.6,418.0 L641.6,392.5 L642.7,362.6 L643.7,331.1 L644.8,301.1 L645.8,275.6 L646.9,256.6 L647.9,272.5 L648.8,292.7 L649.8,316.5 L650.7,342.9 L651.7,370.7 L652.7,398.5 L653.6,424.9 L654.6,448.7 L655.5,468.9 L656.5,484.8 L657.5,462.8 L658.5,434.5 L659.6,401.0 L660.6,364.1 L661.6,326.1 L662.6,289.2 L663.7,255.7 L664.7,227.4 L665.7,205.4 L666.7,228.2 L667.7,257.7 L668.6,292.5 L669.6,330.7 L670.6,370.3 L671.6,408.5 L672.5,443.3 L673.5,472.8 L674.5,495.6 L675.5,475.6 L676.4,449.9 L677.4,419.4 L678.4,385.9 L679.3,351.4 L680.3,317.9 L681.3,287.4 L682.2,261.7 L683.2,241.7 L684.2,258.7 L685.2,280.5 L686.2,306.3 L687.2,334.7 L688.3,364.0 L689.3,392.4 L690.3,418.2 L691.3,440.0 L692.3,457.0 L693.3,439.8 L694.3,417.3 L695.4,390.8 L696.4,361.9 L697.4,333.1 L698.5,306.6 L699.5,284.1 L700.5,266.9 L701.5,276.5 L702.4,288.5 L703.4,302.5 L704.4,318.2 L705.3,334.9 L706.3,352.0 L707.2,368.7 L708.2,384.4 L709.2,398.4 L710.1,410.4 L711.1,420.0 L712.1,411.7 L713.1,401.4 L714.1,389.3 L715.1,375.8 L716.1,361.4 L717.2,346.7 L718.2,332.3 L719.2,318.8 L720.2,306.7 L721.2,296.4 L722.2,288.1 L723.2,299.6 L724.3,314.5 L725.3,332.1 L726.3,351.4 L727.4,371.3 L728.4,390.7 L729.4,408.2 L730.5,423.1 L731.5,434.6 L732.5,424.7 L733.4,412.3 L734.4,397.7 L735.4,381.5 L736.3,364.2 L737.3,346.6 L738.2,329.3 L739.2,313.1 L740.2,298.5 L741.1,286.1 L742.1,276.2 L743.1,291.2 L744.1,311.0 L745.1,334.3 L746.1,359.5 L747.1,384.8 L748.1,408.1 L749.1,427.8 L750.1,442.8 L751.2,427.3 L752.2,406.9 L753.3,382.7 L754.4,356.6 L755.4,330.4 L756.5,306.3 L757.5,285.9 L758.6,270.3 L759.6,284.2 L760.6,302.4 L761.7,323.9 L762.7,347.2 L763.7,370.4 L764.8,391.9 L765.8,410.1 L766.8,424.0 L767.9,413.7 L768.9,400.2 L770.0,384.2 L771.0,366.9 L772.1,349.6 L773.2,333.7 L774.2,320.1 L775.3,309.8 L776.3,314.5 L777.3,320.3 L778.3,327.0 L779.3,334.5 L780.3,342.6 L781.2,351.0 L782.2,359.3 L783.2,367.4 L784.2,374.9 L785.2,381.7 L786.2,387.4 L787.2,392.1 L788.2,387.7 L789.1,382.3 L790.1,375.9 L791.1,368.8 L792.0,361.2 L793.0,353.5 L793.9,345.9 L794.9,338.8 L795.9,332.4 L796.8,327.0 L797.8,322.6 L798.8,330.0 L799.8,340.2 L800.8,351.9 L801.9,363.6 L802.9,373.7 L803.9,381.2 L804.9,377.3 L806.0,372.2 L807.0,366.2 L808.0,359.8 L809.0,353.8 L810.1,348.6 L811.1,344.8 L812.1,347.0 L813.1,349.7 L814.1,353.0 L815.1,356.6 L816.0,360.3 L817.0,363.8 L818.0,367.1 L819.0,369.9 L820.0,372.0 L821.0,370.2 L822.0,367.8 L823.0,365.0 L824.0,362.0 L825.0,359.0 L826.0,356.2 L827.0,353.8 L828.0,352.0 L829.0,355.6 L830.1,360.6 L831.1,366.4 L832.2,372.1 L833.2,377.1 L834.3,380.7 L835.3,373.9 L836.4,364.6 L837.5,353.9 L838.5,343.2 L839.5,334.0 L840.6,327.2 L841.6,332.1 L842.6,338.3 L843.6,345.7 L844.6,353.8 L845.6,362.4 L846.6,370.9 L847.6,379.1 L848.6,386.4 L849.6,392.6 L850.6,397.5 L851.7,387.7 L852.7,374.6 L853.8,359.2 L854.8,343.0 L855.9,327.6 L856.9,314.4 L858.0,304.6 L859.0,312.8 L860.0,323.5 L861.0,336.2 L862.0,350.0 L863.0,363.7 L864.0,376.4 L865.0,387.1 L866.0,395.3 L867.0,389.5 L868.1,381.8 L869.1,372.8 L870.1,363.0 L871.2,353.2 L872.2,344.2 L873.3,336.5 L874.3,330.7 L875.2,336.2 L876.1,343.8 L877.0,352.5 L878.0,361.3 L878.9,368.8 L879.8,374.4 L880.8,371.6 L881.7,367.9 L882.7,363.5 L883.7,358.9 L884.7,354.5 L885.6,350.8 L886.6,348.0 L887.6,351.3 L888.7,355.7 L889.7,360.9 L890.8,366.5 L891.8,372.1 L892.8,377.3 L893.9,381.7 L894.9,385.0 L895.9,381.6 L897.0,377.4 L898.0,372.4 L899.0,366.9 L900.0,361.0 L901.0,354.9 L902.1,348.7 L903.1,342.8 L904.1,337.3 L905.2,332.3 L906.2,328.1 L907.2,324.7 L908.2,332.3 L909.3,342.4 L910.3,354.3 L911.3,366.8 L912.3,378.7 L913.4,388.9 L914.4,396.4 L915.4,390.8 L916.4,383.7 L917.4,375.1 L918.4,365.8 L919.5,356.1 L920.5,346.8 L921.5,338.3 L922.5,331.1 L923.5,325.5 L924.5,331.0 L925.4,337.9 L926.4,346.1 L927.3,355.2 L928.2,364.7 L929.2,374.2 L930.1,383.3 L931.1,391.5 L932.0,398.4 L933.0,403.9 L934.0,395.8 L935.0,385.5 L936.0,373.3 L937.0,359.8 L938.0,345.6 L938.9,331.5 L939.9,318.0 L940.9,305.8 L941.9,295.5 L942.9,287.4 L943.9,300.1 L945.0,316.4 L946.0,335.7 L947.0,357.0 L948.1,378.9 L949.1,400.2 L950.1,419.5 L951.2,435.8 L952.2,448.5 L953.2,434.0 L954.1,415.2 L955.1,393.1 L956.0,368.7 L957.0,343.5 L957.9,319.1 L958.9,297.0 L959.8,278.2 L960.8,263.7 L961.8,276.2 L962.8,292.0 L963.8,310.6 L964.8,331.3 L965.8,353.1 L966.7,374.9 L967.7,395.6 L968.7,414.2 L969.7,430.0 L970.7,442.5 L971.7,431.0 L972.7,416.5 L973.7,399.4 L974.7,380.4 L975.7,360.4 L976.7,340.4 L977.7,321.4 L978.7,304.3 L979.7,289.8 L980.7,278.3 L981.7,289.2 L982.7,303.1 L983.6,319.4 L984.6,337.5 L985.6,356.6 L986.6,375.6 L987.6,393.7 L988.5,410.0 L989.5,423.9 L990.5,434.8 L991.6,420.8 L992.6,402.3 L993.7,380.6 L994.8,357.0 L995.8,333.4 L996.9,311.7 L997.9,293.2 L999.0,279.2 L1000.0,290.5 L1000.9,304.8 L1001.9,321.6 L1002.8,340.3 L1003.8,360.0 L1004.7,379.7 L1005.6,398.4 L1006.6,415.2 L1007.5,429.5 L1008.5,440.8 L1009.5,427.7 L1010.5,410.8 L1011.5,390.8 L1012.5,368.8 L1013.4,346.0 L1014.4,324.0 L1015.4,304.0 L1016.4,287.1 L1017.4,274.0 L1018.4,285.5 L1019.3,300.1 L1020.3,317.3 L1021.2,336.4 L1022.2,356.6 L1023.2,376.7 L1024.1,395.8 L1025.1,413.0 L1026.0,427.6 L1027.0,439.1 L1028.0,425.1 L1029.1,406.8 L1030.2,385.2 L1031.2,361.7 L1032.2,338.2 L1033.3,316.6 L1034.4,298.3 L1035.4,284.3 L1036.4,295.0 L1037.4,308.8 L1038.4,325.1 L1039.4,343.0 L1040.5,361.5 L1041.5,379.4 L1042.5,395.7 L1043.5,409.5 L1044.5,420.2 L1045.5,411.8 L1046.4,401.2 L1047.3,388.6 L1048.3,374.7 L1049.2,360.0 L1050.2,345.3 L1051.2,331.4 L1052.1,318.8 L1053.0,308.2 L1054.0,299.8 L1055.0,307.4 L1056.0,316.9 L1056.9,328.2 L1057.9,340.8 L1058.9,354.0 L1059.9,367.2 L1060.9,379.8 L1061.8,391.1 L1062.8,400.6 L1063.8,408.2 L1064.8,401.6 L1065.8,393.3 L1066.9,383.4 L1067.9,372.5 L1068.9,361.0 L1069.9,349.5 L1070.9,338.5 L1072.0,328.7 L1073.0,320.3 L1074.0,313.7 L1075.0,322.0 L1076.0,332.9 L1077.0,345.8 L1078.0,359.7 L1079.1,373.6 L1080.1,386.4 L1081.1,397.3 L1082.1,405.6 L1083.1,398.7 L1084.0,389.8 L1085.0,379.3 L1085.9,367.7 L1086.9,355.7 L1087.8,344.1 L1088.8,333.6 L1089.7,324.7 L1090.7,317.8 L1091.7,325.4 L1092.6,335.7 L1093.6,347.7 L1094.5,359.6 L1095.5,370.0 L1096.4,377.5 L1097.4,373.7 L1098.5,368.5 L1099.5,362.5 L1100.6,356.1 L1101.6,350.0 L1102.7,344.9 L1103.7,341.0 L1104.8,345.3 L1105.8,351.2 L1106.8,358.0 L1107.9,364.8 L1109.0,370.7 L1110.0,375.0 L1110.9,369.4 L1111.9,361.7 L1112.8,353.1 L1113.8,345.4 L1114.7,339.8 L1115.7,344.1 L1116.7,349.8 L1117.7,356.6 L1118.7,363.9 L1119.6,371.2 L1120.6,377.9 L1121.6,383.6 L1122.6,388.0 L1123.6,382.1 L1124.5,374.3 L1125.5,365.1 L1126.4,355.5 L1127.4,346.3 L1128.3,338.5 L1129.3,332.6 L1130.3,337.3 L1131.4,343.4 L1132.4,350.6 L1133.4,358.4 L1134.5,366.2 L1135.5,373.4 L1136.6,379.5 L1137.6,384.2 L1138.6,378.2 L1139.7,369.9 L1140.8,360.4 L1141.8,350.9 L1142.9,342.7 L1143.9,336.6 L1144.9,339.2 L1145.8,342.5 L1146.8,346.4 L1147.7,350.7 L1148.7,355.3 L1149.7,359.8 L1150.6,364.1 L1151.6,368.0 L1152.5,371.3 L1153.5,373.9 L1154.6,371.3 L1155.6,367.9 L1156.7,363.8 L1157.8,359.4 L1158.8,355.1 L1159.9,351.0 L1160.9,347.6 L1162.0,345.0 L1163.0,347.4 L1164.0,350.7 L1165.0,354.3 L1166.0,357.6 L1167.0,360.0 L1168.0,355.9 L1169.0,350.3 L1170.0,344.6 L1171.0,340.5 L1171.9,346.7 L1172.8,355.2 L1173.8,364.9 L1174.7,374.7 L1175.6,383.1 L1176.5,389.3 L1177.5,384.4 L1178.4,378.3 L1179.4,371.0 L1180.3,362.9 L1181.3,354.4 L1182.3,345.9 L1183.2,337.8 L1184.2,330.5 L1185.1,324.4 L1186.1,319.5 L1187.1,325.3 L1188.1,332.8 L1189.1,341.7 L1190.1,351.5 L1191.0,361.6 L1192.0,371.4 L1193.0,380.3 L1194.0,387.8 L1195.0,393.6 L1196.0,388.4 L1197.1,381.9 L1198.1,374.2 L1199.1,365.7 L1200.2,356.7 L1201.2,347.7 L1202.2,339.2 L1203.2,331.5 L1204.3,324.9 L1205.3,319.8 L1206.3,326.6 L1207.2,335.4 L1208.2,345.8 L1209.1,357.2 L1210.1,369.0 L1211.0,380.5 L1212.0,390.9 L1212.9,399.7 L1213.9,406.5 L1214.9,398.8 L1216.0,388.9 L1217.0,377.1 L1218.1,364.2 L1219.1,350.9 L1220.2,338.0 L1221.2,326.2 L1222.3,316.3 L1223.3,308.6 L1224.3,315.6 L1225.3,324.5 L1226.4,335.1 L1227.4,346.8 L1228.4,358.9 L1229.4,370.5 L1230.5,381.1 L1231.5,390.1 L1232.5,397.1 L1233.5,390.8 L1234.5,382.8 L1235.5,373.3 L1236.5,362.8 L1237.6,352.0 L1238.6,341.5 L1239.6,332.0 L1240.6,324.0 L1241.6,317.7 L1242.6,323.2 L1243.7,330.2 L1244.7,338.4 L1245.7,347.5 L1246.8,357.0 L1247.8,366.6 L1248.8,375.7 L1249.8,383.9 L1250.9,390.8 L1251.9,396.3 L1252.8,389.8 L1253.8,381.1 L1254.7,370.9 L1255.7,359.9 L1256.6,348.8 L1257.5,338.6 L1258.5,330.0 L1259.4,323.4 L1260.4,328.1 L1261.3,334.1 L1262.3,341.1 L1263.2,348.9 L1264.2,357.1 L1265.2,365.3 L1266.1,373.1 L1267.1,380.1 L1268.0,386.1 L1269.0,390.8 L1270.0,385.5 L1271.0,378.7 L1272.0,370.7 L1273.0,361.9 L1274.1,352.7 L1275.1,343.9 L1276.1,335.9 L1277.1,329.1 L1278.1,323.8 L1279.1,329.3 L1280.1,336.4 L1281.1,344.7 L1282.1,353.9 L1283.2,363.5 L1284.2,372.7 L1285.2,381.0 L1286.2,388.1 L1287.2,393.6 L1288.2,389.0 L1289.1,383.1 L1290.1,376.2 L1291.0,368.5 L1292.0,360.5 L1293.0,352.4 L1293.9,344.7 L1294.9,337.8 L1295.8,331.9 L1296.8,327.3 L1297.8,331.3 L1298.8,336.5 L1299.7,342.5 L1300.7,349.2 L1301.7,356.2 L1302.7,363.3 L1303.7,370.0 L1304.6,376.0 L1305.6,381.2 L1306.6,385.2 L1307.6,381.2 L1308.6,376.1 L1309.6,370.1 L1310.6,363.4 L1311.5,356.4 L1312.5,349.4 L1313.5,342.7 L1314.5,336.7 L1315.5,331.6 L1316.5,327.6 L1317.5,331.8 L1318.5,337.1 L1319.5,343.3 L1320.5,350.3 L1321.5,357.6 L1322.6,364.9 L1323.6,371.9 L1324.6,378.1 L1325.6,383.4 L1326.6,387.6 L1327.5,383.7 L1328.5,378.8 L1329.4,372.9 L1330.4,366.5 L1331.3,359.6 L1332.3,352.8 L1333.2,346.4 L1334.2,340.5 L1335.1,335.6 L1336.1,331.7 L1337.1,336.0 L1338.0,341.6 L1339.0,348.2 L1340.0,355.4 L1340.9,362.9 L1341.9,370.1 L1342.9,376.7 L1343.8,382.2 L1344.8,386.6 L1345.8,382.4 L1346.7,377.1 L1347.7,370.8 L1348.7,363.8 L1349.6,356.6 L1350.6,349.7 L1351.6,343.4 L1352.5,338.0 L1353.5,333.9 L1354.5,337.0 L1355.4,340.8 L1356.4,345.3 L1357.4,350.4 L1358.4,355.8 L1359.3,361.2 L1360.3,366.6 L1361.3,371.7 L1362.3,376.2 L1363.2,380.0 L1364.2,383.1 L1365.2,379.3 L1366.1,374.3 L1367.1,368.5 L1368.1,362.0 L1369.0,355.4 L1370.0,348.9 L1371.0,343.1 L1371.9,338.1 L1372.9,334.3 L1373.9,337.8 L1374.9,342.2 L1375.9,347.5 L1376.9,353.3 L1378.0,359.2 L1379.0,365.0 L1380.0,370.3 L1381.0,374.7 L1382.0,378.2 L1383.1,374.3 L1384.1,369.2 L1385.2,363.1 L1386.2,356.6 L1387.3,350.0 L1388.4,344.0 L1389.4,338.9 L1390.5,335.0 L1391.5,339.5 L1392.6,345.4 L1393.7,352.5 L1394.7,360.1 L1395.8,367.7 L1396.8,374.8 L1397.9,380.7 L1398.9,385.3 L1400.0,381.1 L1401.0,375.7 L1402.0,369.3 L1403.1,362.4 L1404.2,355.4 L1405.2,349.0 L1406.2,343.6 L1407.3,339.5 L1408.4,343.4 L1409.4,348.5 L1410.5,354.5 L1411.5,361.1 L1412.6,367.6 L1413.7,373.6 L1414.7,378.7 L1415.8,382.6 L1416.8,379.5 L1417.9,375.6 L1419.0,371.0 L1420.0,365.9 L1421.0,360.5 L1422.1,355.1 L1423.1,350.0 L1424.2,345.4 L1425.2,341.5 L1426.3,338.4 L1427.3,342.9 L1428.4,348.7 L1429.5,355.6 L1430.5,363.1 L1431.5,370.6 L1432.6,377.5 L1433.7,383.3 L1434.7,387.8 L1435.8,382.9 L1436.8,376.4 L1437.9,368.8 L1439.0,360.5 L1440.0,352.2 L1441.1,344.6 L1442.1,338.1 L1443.2,333.2 L1444.2,338.2 L1445.3,344.6 L1446.3,352.1 L1447.4,360.5 L1448.4,369.0 L1449.5,377.4 L1450.5,384.9 L1451.6,391.3 L1452.6,396.3 L1453.6,391.2 L1454.6,384.6 L1455.6,377.0 L1456.6,368.4 L1457.7,359.5 L1458.7,350.5 L1459.7,341.9 L1460.7,334.3 L1461.7,327.7 L1462.7,322.6 L1463.7,327.7 L1464.7,334.3 L1465.7,342.2 L1466.7,350.8 L1467.6,359.6 L1468.6,368.2 L1469.6,376.0 L1470.6,382.6 L1471.6,387.8 L1472.6,382.8 L1473.7,376.3 L1474.8,368.7 L1475.8,360.3 L1476.8,352.0 L1477.9,344.4 L1479.0,337.9 L1480.0,332.9 L1481.0,336.3 L1481.9,340.6 L1482.8,345.7 L1483.8,351.3 L1484.8,357.3 L1485.7,363.2 L1486.7,368.8 L1487.6,373.9 L1488.5,378.2 L1489.5,381.6 L1490.5,378.7 L1491.6,375.1 L1492.7,370.8 L1493.7,366.1 L1494.8,361.1 L1495.8,356.0 L1496.8,351.3 L1497.9,347.0 L1499.0,343.4 L1500.0,340.5 L1501.1,344.5 L1502.1,349.8 L1503.2,356.0 L1504.2,362.5 L1505.3,368.8 L1506.3,374.1 L1507.4,378.0 L1508.4,375.2 L1509.5,371.6 L1510.5,367.4 L1511.6,362.7 L1512.6,357.9 L1513.7,353.2 L1514.7,349.0 L1515.8,345.4 L1516.8,342.6 L1517.8,344.7 L1518.7,347.3 L1519.6,350.3 L1520.6,353.8 L1521.5,357.4 L1522.5,360.9 L1523.5,364.4 L1524.4,367.4 L1525.3,370.0 L1526.3,372.1 L1527.4,368.8 L1528.4,364.1 L1529.5,359.0 L1530.5,354.3 L1531.6,351.0 L1532.6,353.3 L1533.7,356.5 L1534.8,360.1 L1535.8,363.7 L1536.9,366.9 L1537.9,369.2 L1538.9,366.1 L1539.9,361.9 L1541.0,357.3 L1542.0,353.0 L1543.0,350.0 L1544.1,351.9 L1545.1,354.5 L1546.2,357.5 L1547.2,360.7 L1548.3,363.7 L1549.3,366.3 L1550.4,368.2 L1551.4,366.9 L1552.4,365.3 L1553.3,363.4 L1554.3,361.3 L1555.3,359.0 L1556.3,356.8 L1557.3,354.5 L1558.3,352.4 L1559.2,350.5 L1560.2,348.9 L1561.2,347.6 L1562.2,349.0 L1563.2,350.9 L1564.1,353.0 L1565.1,355.4 L1566.1,358.0 L1567.1,360.5 L1568.1,362.9 L1569.0,365.1 L1570.0,366.9 L1571.0,368.3 L1572.0,365.5 L1573.1,361.7 L1574.1,357.2 L1575.1,352.5 L1576.1,348.0 L1577.2,344.2 L1578.2,341.3 L1579.2,343.6 L1580.2,346.4 L1581.2,349.8 L1582.2,353.5 L1583.2,357.5 L1584.1,361.4 L1585.1,365.1 L1586.1,368.5 L1587.1,371.3 L1588.1,373.6 L1589.1,369.9 L1590.2,364.8 L1591.2,358.9 L1592.3,353.0 L1593.4,347.9 L1594.4,344.2 L1595.4,346.7 L1596.4,350.0 L1597.4,353.9 L1598.4,358.2 L1599.3,362.7 L1600.3,366.9 L1601.3,370.8 L1602.3,374.1 L1603.3,376.7 L1604.3,373.8 L1605.3,370.0 L1606.3,365.5 L1607.3,360.6 L1608.3,355.6 L1609.3,350.7 L1610.3,346.2 L1611.3,342.4 L1612.3,339.5 L1613.3,342.8 L1614.3,347.1 L1615.3,352.2 L1616.3,357.7 L1617.3,363.5 L1618.3,369.0 L1619.3,374.1 L1620.3,378.4 L1621.3,381.7 L1622.3,378.2 L1623.3,373.6 L1624.3,368.2 L1625.3,362.3 L1626.3,356.2 L1627.3,350.3 L1628.3,344.9 L1629.3,340.3 L1630.3,336.8 L1631.3,340.7 L1632.4,346.0 L1633.4,352.2 L1634.4,358.8 L1635.4,365.0 L1636.5,370.3 L1637.5,374.2 L1638.5,372.1 L1639.6,369.4 L1640.6,366.2 L1641.6,362.7 L1642.6,359.0 L1643.7,355.2 L1644.7,351.4 L1645.7,347.9 L1646.7,344.8 L1647.8,342.1 L1648.8,340.0 L1649.8,342.9 L1650.9,346.8 L1652.0,351.3 L1653.0,356.3 L1654.0,361.2 L1655.1,365.7 L1656.2,369.6 L1657.2,372.5 L1658.2,369.5 L1659.3,365.5 L1660.3,360.8 L1661.3,355.8 L1662.3,351.0 L1663.4,347.0 L1664.4,344.0 L1665.4,345.9 L1666.4,348.5 L1667.4,351.5 L1668.5,354.8 L1669.5,358.0 L1670.5,361.0 L1671.5,363.6 L1672.5,365.5 L1673.5,364.6 L1674.5,363.4 L1675.5,362.0 L1676.5,360.5 L1677.4,358.9 L1678.4,357.4 L1679.4,356.0 L1680.4,354.8 L1681.4,353.9 L1682.3,354.8 L1683.3,356.0 L1684.2,357.4 L1685.1,358.9 L1686.1,360.1 L1687.0,361.0" stroke="#e3812f"/><path d="M138.0,358.1 L139.0,358.4 L140.0,358.9 L141.0,359.4 L142.0,360.0 L143.0,360.5 L144.0,361.0 L145.0,361.4 L146.0,361.0 L147.0,360.7 L148.0,360.2 L149.0,359.8 L150.0,359.2 L151.0,358.7 L152.0,358.1 L153.0,357.5 L154.0,357.0 L155.0,356.4 L156.0,355.9 L157.0,355.4 L158.0,355.0 L159.0,354.6 L160.0,354.3 L161.0,354.6 L162.0,354.8 L163.0,355.1 L163.9,355.5 L164.9,355.8 L165.9,356.2 L166.9,356.6 L167.9,357.0 L168.9,357.4 L169.9,357.9 L170.9,358.4 L171.8,358.8 L172.8,359.3 L173.8,359.7 L174.8,360.2 L175.8,360.6 L176.8,361.0 L177.8,361.4 L178.8,361.8 L179.8,362.2 L180.7,362.5 L181.7,362.8 L182.7,363.1 L183.7,363.3 L184.7,363.0 L185.7,362.6 L186.7,362.2 L187.7,361.7 L188.7,361.2 L189.8,360.6 L190.8,360.1 L191.8,359.5 L192.8,358.9 L193.8,358.2 L194.8,357.6 L195.8,357.0 L196.8,356.4 L197.8,355.8 L198.8,355.2 L199.9,354.6 L200.9,354.1 L201.9,353.7 L202.9,353.2 L203.9,352.8 L204.9,352.5 L205.9,353.1 L206.9,353.8 L207.8,354.7 L208.8,355.6 L209.8,356.6 L210.8,357.7 L211.8,358.8 L212.7,359.9 L213.7,361.0 L214.7,362.0 L215.7,362.9 L216.6,363.8 L217.6,364.5 L218.6,365.1 L219.6,364.7 L220.6,364.2 L221.6,363.7 L222.6,363.1 L223.5,362.5 L224.5,361.8 L225.5,361.1 L226.5,360.4 L227.5,359.6 L228.5,358.9 L229.5,358.1 L230.5,357.4 L231.5,356.7 L232.5,356.0 L233.4,355.4 L234.4,354.8 L235.4,354.3 L236.4,353.8 L237.4,353.4 L238.4,353.7 L239.4,354.1 L240.3,354.5 L241.3,355.0 L242.3,355.4 L243.3,356.0 L244.3,356.5 L245.2,357.1 L246.2,357.7 L247.2,358.3 L248.2,358.9 L249.1,359.4 L250.1,360.0 L251.1,360.5 L252.1,361.0 L253.1,361.5 L254.0,361.9 L255.0,362.2 L256.0,362.6 L257.0,362.3 L258.0,362.1 L259.0,361.8 L260.0,361.4 L261.0,361.1 L262.0,360.7 L263.0,360.3 L264.0,359.9 L265.0,359.4 L266.0,359.0 L267.0,358.5 L268.0,358.1 L269.0,357.6 L270.0,357.1 L271.0,356.7 L272.0,356.3 L273.0,355.8 L274.0,355.4 L275.0,355.1 L276.0,354.7 L277.0,354.4 L278.0,354.1 L279.0,353.8 L280.0,353.6 L281.0,353.9 L282.0,354.2 L283.0,354.6 L284.0,355.0 L285.0,355.4 L286.0,355.9 L287.0,356.4 L288.0,357.0 L289.0,357.5 L290.0,358.1 L291.0,358.6 L292.0,359.2 L293.0,359.7 L294.0,360.2 L295.0,360.7 L296.0,361.1 L297.0,361.6 L298.0,361.9 L299.0,362.3 L300.0,362.6 L301.0,362.3 L302.0,362.0 L303.0,361.7 L304.0,361.3 L305.0,360.9 L305.9,360.5 L306.9,360.1 L307.9,359.6 L308.9,359.2 L309.9,358.7 L310.9,358.2 L311.9,357.7 L312.9,357.2 L313.9,356.7 L314.9,356.3 L315.9,355.8 L316.9,355.4 L317.8,355.0 L318.8,354.6 L319.8,354.2 L320.8,353.9 L321.8,353.6 L322.8,353.3 L323.8,353.7 L324.8,354.2 L325.8,354.8 L326.9,355.4 L327.9,356.1 L328.9,356.8 L329.9,357.6 L330.9,358.3 L331.9,359.1 L332.9,359.8 L333.9,360.5 L335.0,361.1 L336.0,361.7 L337.0,362.2 L338.0,362.6 L339.0,361.9 L340.0,361.0 L341.0,359.9 L342.0,358.8 L343.0,357.7 L344.0,356.6 L345.0,355.7 L346.0,355.1 L347.1,356.0 L348.1,357.2 L349.2,358.6 L350.2,360.1 L351.3,361.5 L352.3,362.7 L353.4,363.6 L354.4,363.1 L355.4,362.6 L356.5,361.9 L357.5,361.2 L358.5,360.5 L359.5,359.6 L360.6,358.8 L361.6,357.9 L362.6,357.0 L363.6,356.1 L364.7,355.3 L365.7,354.5 L366.7,353.7 L367.7,353.0 L368.8,352.3 L369.8,351.8 L370.8,351.3 L371.8,352.4 L372.7,353.6 L373.7,355.1 L374.7,356.7 L375.6,358.4 L376.6,360.3 L377.6,362.2 L378.5,364.1 L379.5,365.9 L380.4,367.7 L381.4,369.3 L382.4,370.8 L383.3,372.0 L384.3,373.1 L385.3,370.1 L386.3,366.2 L387.3,361.5 L388.3,356.5 L389.4,351.2 L390.4,346.2 L391.4,341.6 L392.4,337.7 L393.4,334.6 L394.4,339.6 L395.4,346.2 L396.4,354.0 L397.4,362.3 L398.4,370.1 L399.4,376.7 L400.4,381.7 L401.4,377.9 L402.3,373.0 L403.3,367.3 L404.2,361.0 L405.2,354.8 L406.2,349.0 L407.1,344.1 L408.1,340.4 L409.1,342.3 L410.2,344.7 L411.2,347.5 L412.2,350.7 L413.2,354.1 L414.3,357.5 L415.3,360.9 L416.3,364.0 L417.3,366.8 L418.4,369.3 L419.4,371.2 L420.4,368.7 L421.4,365.6 L422.4,362.0 L423.4,357.9 L424.4,353.6 L425.5,349.3 L426.5,345.3 L427.5,341.6 L428.5,338.5 L429.5,336.1 L430.5,341.5 L431.5,348.9 L432.5,357.4 L433.5,366.0 L434.5,373.4 L435.5,378.8 L436.5,375.9 L437.4,372.1 L438.4,367.6 L439.4,362.7 L440.3,357.8 L441.3,353.3 L442.2,349.5 L443.2,346.6 L444.2,347.3 L445.2,348.1 L446.2,349.0 L447.2,350.0 L448.1,351.1 L449.1,352.3 L450.1,353.5 L451.1,354.8 L452.1,356.1 L453.1,357.4 L454.1,358.7 L455.1,360.0 L456.1,361.3 L457.1,362.5 L458.1,363.7 L459.0,364.8 L460.0,365.8 L461.0,366.7 L462.0,367.5 L463.0,368.2 L464.0,366.4 L465.0,364.2 L466.0,361.5 L467.0,358.6 L468.0,355.5 L469.1,352.2 L470.1,349.0 L471.1,345.8 L472.1,342.9 L473.1,340.3 L474.1,338.1 L475.1,336.3 L476.1,342.9 L477.1,351.1 L478.1,360.7 L479.1,371.5 L480.1,383.0 L481.2,394.7 L482.2,406.2 L483.2,417.0 L484.2,426.6 L485.2,434.9 L486.2,441.4 L487.1,422.6 L488.1,398.0 L489.1,368.8 L490.0,337.3 L490.9,305.7 L491.9,276.6 L492.9,251.9 L493.8,233.1 L494.8,252.7 L495.8,277.9 L496.9,307.7 L497.9,340.5 L498.9,374.4 L499.9,407.2 L501.0,437.0 L502.0,462.3 L503.0,481.8 L504.0,463.6 L505.0,440.0 L505.9,412.2 L506.9,381.6 L507.9,350.0 L508.9,319.4 L509.8,291.6 L510.8,268.0 L511.8,249.8 L512.8,264.8 L513.7,284.0 L514.7,306.5 L515.6,331.5 L516.6,357.9 L517.6,384.2 L518.5,409.2 L519.5,431.8 L520.4,450.9 L521.4,466.0 L522.4,446.8 L523.4,422.1 L524.4,392.9 L525.4,360.8 L526.5,327.6 L527.5,295.5 L528.5,266.3 L529.5,241.6 L530.5,222.4 L531.5,241.5 L532.5,265.7 L533.5,294.3 L534.5,326.0 L535.5,359.3 L536.5,392.6 L537.5,424.3 L538.5,452.9 L539.5,477.1 L540.5,496.2 L541.5,476.2 L542.4,450.6 L543.4,420.2 L544.4,386.8 L545.3,352.4 L546.3,319.0 L547.3,288.6 L548.2,263.0 L549.2,243.0 L550.2,257.7 L551.2,276.3 L552.1,298.3 L553.1,322.6 L554.1,348.3 L555.1,373.9 L556.1,398.3 L557.0,420.2 L558.0,438.8 L559.0,453.5 L560.0,437.5 L561.0,416.9 L562.1,392.6 L563.1,365.8 L564.1,338.1 L565.1,311.3 L566.2,286.9 L567.2,266.3 L568.2,250.3 L569.2,266.2 L570.2,286.5 L571.3,310.6 L572.3,337.1 L573.3,364.5 L574.3,391.0 L575.4,415.1 L576.4,435.5 L577.4,451.3 L578.4,439.5 L579.4,424.7 L580.3,407.1 L581.3,387.6 L582.3,367.1 L583.3,346.6 L584.3,327.1 L585.2,309.5 L586.2,294.7 L587.2,282.9 L588.2,291.6 L589.1,302.5 L590.1,315.5 L591.1,329.9 L592.0,345.0 L593.0,360.1 L594.0,374.5 L595.0,387.4 L595.9,398.4 L596.9,407.1 L597.9,399.8 L599.0,390.2 L600.0,378.9 L601.0,366.6 L602.1,354.3 L603.1,343.0 L604.2,333.4 L605.2,326.1 L606.2,330.1 L607.3,335.1 L608.3,340.8 L609.4,347.3 L610.4,354.2 L611.5,361.4 L612.5,368.5 L613.5,375.4 L614.6,381.9 L615.6,387.7 L616.7,392.6 L617.7,396.6 L618.7,392.2 L619.7,386.8 L620.7,380.5 L621.6,373.4 L622.6,365.9 L623.6,358.0 L624.6,350.2 L625.6,342.6 L626.5,335.5 L627.5,329.2 L628.5,323.8 L629.5,319.4 L630.5,326.1 L631.5,334.6 L632.5,344.7 L633.5,355.8 L634.5,367.5 L635.5,379.2 L636.5,390.3 L637.5,400.3 L638.5,408.8 L639.5,415.5 L640.6,402.2 L641.6,384.4 L642.7,363.5 L643.7,341.5 L644.8,320.7 L645.8,302.9 L646.9,289.6 L647.9,300.8 L648.8,315.0 L649.8,331.7 L650.7,350.3 L651.7,369.9 L652.7,389.4 L653.6,408.0 L654.6,424.8 L655.5,438.9 L656.5,450.2 L657.5,434.8 L658.5,415.0 L659.6,391.6 L660.6,365.9 L661.6,339.3 L662.6,313.5 L663.7,290.2 L664.7,270.4 L665.7,255.0 L666.7,270.4 L667.7,290.3 L668.6,313.8 L669.6,339.7 L670.6,366.4 L671.6,392.2 L672.5,415.7 L673.5,435.6 L674.5,451.0 L675.5,436.5 L676.4,417.8 L677.4,395.7 L678.4,371.3 L679.3,346.2 L680.3,321.8 L681.3,299.7 L682.2,281.0 L683.2,266.4 L684.2,280.1 L685.2,297.7 L686.2,318.4 L687.2,341.3 L688.3,364.9 L689.3,387.8 L690.3,408.5 L691.3,426.1 L692.3,439.8 L693.3,426.3 L694.3,408.6 L695.4,387.7 L696.4,365.1 L697.4,342.5 L698.5,321.6 L699.5,303.9 L700.5,290.4 L701.5,297.3 L702.4,305.8 L703.4,315.9 L704.4,327.1 L705.3,339.1 L706.3,351.3 L707.2,363.3 L708.2,374.5 L709.2,384.5 L710.1,393.1 L711.1,400.0 L712.1,394.4 L713.1,387.4 L714.1,379.2 L715.1,370.1 L716.1,360.4 L717.2,350.4 L718.2,340.7 L719.2,331.6 L720.2,323.4 L721.2,316.4 L722.2,310.9 L723.2,318.7 L724.3,328.7 L725.3,340.6 L726.3,353.6 L727.4,367.1 L728.4,380.1 L729.4,392.0 L730.5,402.0 L731.5,409.8 L732.5,403.1 L733.4,394.8 L734.4,384.9 L735.4,374.0 L736.3,362.3 L737.3,350.4 L738.2,338.7 L739.2,327.7 L740.2,317.9 L741.1,309.5 L742.1,302.8 L743.1,313.4 L744.1,327.2 L745.1,343.5 L746.1,361.3 L747.1,379.0 L748.1,395.3 L749.1,409.1 L750.1,419.7 L751.2,408.4 L752.2,393.6 L753.3,376.0 L754.4,357.0 L755.4,338.0 L756.5,320.5 L757.5,305.7 L758.6,294.4 L759.6,304.9 L760.6,318.8 L761.7,335.1 L762.7,352.8 L763.7,370.5 L764.8,386.9 L765.8,400.7 L766.8,411.2 L767.9,403.3 L768.9,392.9 L770.0,380.5 L771.0,367.2 L772.1,353.8 L773.2,341.5 L774.2,331.0 L775.3,323.1 L776.3,326.4 L777.3,330.4 L778.3,335.2 L779.3,340.5 L780.3,346.2 L781.2,352.1 L782.2,358.0 L783.2,363.7 L784.2,369.0 L785.2,373.8 L786.2,377.8 L787.2,381.1 L788.2,378.2 L789.1,374.5 L790.1,370.2 L791.1,365.4 L792.0,360.3 L793.0,355.0 L793.9,349.9 L794.9,345.1 L795.9,340.8 L796.8,337.1 L797.8,334.2 L798.8,339.3 L799.8,346.4 L800.8,354.5 L801.9,362.7 L802.9,369.7 L803.9,374.9 L804.9,372.1 L806.0,368.4 L807.0,364.0 L808.0,359.4 L809.0,355.0 L810.1,351.3 L811.1,348.5 L812.1,350.0 L813.1,351.9 L814.1,354.2 L815.1,356.7 L816.0,359.3 L817.0,361.8 L818.0,364.1 L819.0,366.0 L820.0,367.5 L821.0,366.3 L822.0,364.7 L823.0,362.8 L824.0,360.8 L825.0,358.7 L826.0,356.8 L827.0,355.2 L828.0,354.0 L829.0,356.5 L830.1,359.8 L831.1,363.7 L832.2,367.6 L833.2,371.0 L834.3,373.4 L835.3,368.8 L836.4,362.6 L837.5,355.3 L838.5,348.1 L839.5,341.9 L840.6,337.3 L841.6,340.7 L842.6,345.1 L843.6,350.3 L844.6,356.0 L845.6,362.0 L846.6,368.1 L847.6,373.8 L848.6,379.0 L849.6,383.3 L850.6,386.8 L851.7,379.7 L852.7,370.1 L853.8,358.9 L854.8,347.2 L855.9,336.0 L856.9,326.4 L858.0,319.3 L859.0,325.1 L860.0,332.7 L861.0,341.6 L862.0,351.3 L863.0,361.0 L864.0,369.9 L865.0,377.5 L866.0,383.3 L867.0,379.3 L868.1,374.2 L869.1,368.1 L870.1,361.5 L871.2,354.8 L872.2,348.7 L873.3,343.6 L874.3,339.6 L875.2,343.5 L876.1,348.7 L877.0,354.8 L878.0,360.9 L878.9,366.1 L879.8,370.0 L880.8,368.0 L881.7,365.4 L882.7,362.3 L883.7,359.0 L884.7,355.9 L885.6,353.3 L886.6,351.3 L887.6,353.6 L888.7,356.5 L889.7,360.0 L890.8,363.8 L891.8,367.6 L892.8,371.1 L893.9,374.1 L894.9,376.3 L895.9,374.0 L897.0,371.2 L898.0,367.8 L899.0,364.1 L900.0,360.1 L901.0,356.0 L902.1,351.8 L903.1,347.8 L904.1,344.1 L905.2,340.8 L906.2,337.9 L907.2,335.6 L908.2,340.9 L909.3,348.0 L910.3,356.4 L911.3,365.2 L912.3,373.5 L913.4,380.7 L914.4,386.0 L915.4,382.1 L916.4,377.0 L917.4,371.0 L918.4,364.4 L919.5,357.7 L920.5,351.1 L921.5,345.1 L922.5,340.1 L923.5,336.1 L924.5,339.8 L925.4,344.5 L926.4,350.0 L927.3,356.2 L928.2,362.6 L929.2,369.1 L930.1,375.2 L931.1,380.7 L932.0,385.4 L933.0,389.1 L934.0,383.6 L935.0,376.6 L936.0,368.4 L937.0,359.3 L938.0,349.7 L938.9,340.2 L939.9,331.0 L940.9,322.8 L941.9,315.9 L942.9,310.4 L943.9,319.0 L945.0,330.0 L946.0,343.0 L947.0,357.4 L948.1,372.2 L949.1,386.6 L950.1,399.6 L951.2,410.6 L952.2,419.2 L953.2,409.4 L954.1,396.7 L955.1,381.8 L956.0,365.3 L957.0,348.3 L957.9,331.8 L958.9,316.9 L959.8,304.2 L960.8,294.4 L961.8,302.8 L962.8,313.5 L963.8,326.1 L964.8,340.1 L965.8,354.8 L966.7,369.5 L967.7,383.5 L968.7,396.1 L969.7,406.7 L970.7,415.2 L971.7,407.4 L972.7,397.6 L973.7,386.1 L974.7,373.2 L975.7,359.7 L976.7,346.2 L977.7,333.4 L978.7,321.8 L979.7,312.0 L980.7,304.2 L981.7,311.6 L982.7,321.0 L983.6,332.0 L984.6,344.2 L985.6,357.1 L986.6,370.0 L987.6,382.2 L988.5,393.2 L989.5,402.6 L990.5,410.0 L991.6,400.5 L992.6,388.0 L993.7,373.3 L994.8,357.4 L995.8,341.5 L996.9,326.8 L997.9,314.3 L999.0,304.9 L1000.0,312.5 L1000.9,322.1 L1001.9,333.5 L1002.8,346.1 L1003.8,359.4 L1004.7,372.7 L1005.6,385.4 L1006.6,396.7 L1007.5,406.4 L1008.5,414.0 L1009.5,405.1 L1010.5,393.7 L1011.5,380.2 L1012.5,365.3 L1013.4,350.0 L1014.4,335.1 L1015.4,321.6 L1016.4,310.2 L1017.4,301.3 L1018.4,309.1 L1019.3,319.0 L1020.3,330.6 L1021.2,343.5 L1022.2,357.1 L1023.2,370.7 L1024.1,383.6 L1025.1,395.2 L1026.0,405.1 L1027.0,412.9 L1028.0,403.4 L1029.1,391.1 L1030.2,376.4 L1031.2,360.6 L1032.2,344.7 L1033.3,330.1 L1034.4,317.7 L1035.4,308.3 L1036.4,315.5 L1037.4,324.8 L1038.4,335.8 L1039.4,347.9 L1040.5,360.4 L1041.5,372.6 L1042.5,383.6 L1043.5,392.9 L1044.5,400.1 L1045.5,394.4 L1046.4,387.2 L1047.3,378.8 L1048.3,369.3 L1049.2,359.4 L1050.2,349.5 L1051.2,340.1 L1052.1,331.6 L1053.0,324.4 L1054.0,318.8 L1055.0,323.9 L1056.0,330.4 L1056.9,338.0 L1057.9,346.5 L1058.9,355.4 L1059.9,364.3 L1060.9,372.8 L1061.8,380.4 L1062.8,386.9 L1063.8,392.0 L1064.8,387.4 L1065.8,381.5 L1066.9,374.7 L1067.9,367.0 L1068.9,359.0 L1069.9,350.9 L1070.9,343.3 L1072.0,336.4 L1073.0,330.5 L1074.0,325.9 L1075.0,331.7 L1076.0,339.3 L1077.0,348.3 L1078.0,358.1 L1079.1,367.8 L1080.1,376.8 L1081.1,384.4 L1082.1,390.2 L1083.1,385.6 L1084.0,379.6 L1085.0,372.4 L1085.9,364.6 L1086.9,356.5 L1087.8,348.7 L1088.8,341.6 L1089.7,335.6 L1090.7,330.9 L1091.7,336.7 L1092.6,344.6 L1093.6,353.8 L1094.5,362.9 L1095.5,370.9 L1096.4,376.7 L1097.4,373.1 L1098.5,368.3 L1099.5,362.8 L1100.6,356.9 L1101.6,351.3 L1102.7,346.5 L1103.7,342.9 L1104.8,346.8 L1105.8,352.0 L1106.8,358.0 L1107.9,364.1 L1109.0,369.3 L1110.0,373.1 L1110.9,368.0 L1111.9,360.8 L1112.8,352.9 L1113.8,345.8 L1114.7,340.6 L1115.7,344.8 L1116.7,350.2 L1117.7,356.7 L1118.7,363.6 L1119.6,370.6 L1120.6,377.0 L1121.6,382.5 L1122.6,386.6 L1123.6,381.0 L1124.5,373.6 L1125.5,364.8 L1126.4,355.6 L1127.4,346.8 L1128.3,339.4 L1129.3,333.8 L1130.3,338.1 L1131.4,343.7 L1132.4,350.3 L1133.4,357.5 L1134.5,364.7 L1135.5,371.4 L1136.6,377.0 L1137.6,381.3 L1138.6,375.8 L1139.7,368.2 L1140.8,359.4 L1141.8,350.7 L1142.9,343.1 L1143.9,337.6 L1144.9,339.8 L1145.8,342.5 L1146.8,345.8 L1147.7,349.4 L1148.7,353.2 L1149.7,357.0 L1150.6,360.6 L1151.6,363.9 L1152.5,366.6 L1153.5,368.8 L1154.6,367.1 L1155.6,364.7 L1156.7,362.0 L1157.8,359.1 L1158.8,356.1 L1159.9,353.4 L1160.9,351.1 L1162.0,349.3 L1163.0,350.9 L1164.0,353.1 L1165.0,355.6 L1166.0,357.8 L1167.0,359.4 L1168.0,356.5 L1169.0,352.4 L1170.0,348.3 L1171.0,345.4 L1171.9,349.7 L1172.8,355.5 L1173.8,362.3 L1174.7,369.1 L1175.6,374.9 L1176.5,379.2 L1177.5,375.9 L1178.4,371.8 L1179.4,366.9 L1180.3,361.4 L1181.3,355.6 L1182.3,349.9 L1183.2,344.4 L1184.2,339.5 L1185.1,335.4 L1186.1,332.1 L1187.1,336.0 L1188.1,341.1 L1189.1,347.1 L1190.1,353.7 L1191.0,360.5 L1192.0,367.1 L1193.0,373.1 L1194.0,378.2 L1195.0,382.1 L1196.0,378.5 L1197.1,373.9 L1198.1,368.5 L1199.1,362.5 L1200.2,356.2 L1201.2,349.9 L1202.2,343.9 L1203.2,338.5 L1204.3,333.9 L1205.3,330.3 L1206.3,335.1 L1207.2,341.2 L1208.2,348.5 L1209.1,356.5 L1210.1,364.7 L1211.0,372.7 L1212.0,379.9 L1212.9,386.1 L1213.9,390.8 L1214.9,385.6 L1216.0,378.9 L1217.0,371.0 L1218.1,362.3 L1219.1,353.3 L1220.2,344.6 L1221.2,336.6 L1222.3,329.9 L1223.3,324.7 L1224.3,329.6 L1225.3,335.8 L1226.4,343.2 L1227.4,351.4 L1228.4,359.8 L1229.4,367.9 L1230.5,375.3 L1231.5,381.6 L1232.5,386.5 L1233.5,381.9 L1234.5,376.1 L1235.5,369.2 L1236.5,361.6 L1237.6,353.7 L1238.6,346.1 L1239.6,339.2 L1240.6,333.4 L1241.6,328.8 L1242.6,332.8 L1243.7,337.9 L1244.7,343.8 L1245.7,350.4 L1246.8,357.4 L1247.8,364.3 L1248.8,370.9 L1249.8,376.9 L1250.9,381.9 L1251.9,385.9 L1252.8,381.1 L1253.8,374.9 L1254.7,367.5 L1255.7,359.4 L1256.6,351.4 L1257.5,344.0 L1258.5,337.7 L1259.4,333.0 L1260.4,336.3 L1261.3,340.4 L1262.3,345.4 L1263.2,350.8 L1264.2,356.6 L1265.2,362.4 L1266.1,367.8 L1267.1,372.8 L1268.0,376.9 L1269.0,380.2 L1270.0,376.7 L1271.0,372.1 L1272.0,366.7 L1273.0,360.7 L1274.1,354.5 L1275.1,348.6 L1276.1,343.1 L1277.1,338.5 L1278.1,335.0 L1279.1,338.7 L1280.1,343.5 L1281.1,349.1 L1282.1,355.3 L1283.2,361.8 L1284.2,368.0 L1285.2,373.6 L1286.2,378.4 L1287.2,382.1 L1288.2,379.0 L1289.1,375.0 L1290.1,370.4 L1291.0,365.2 L1292.0,359.7 L1293.0,354.3 L1293.9,349.1 L1294.9,344.4 L1295.8,340.5 L1296.8,337.3 L1297.8,340.1 L1298.8,343.5 L1299.7,347.6 L1300.7,352.1 L1301.7,356.9 L1302.7,361.7 L1303.7,366.2 L1304.6,370.3 L1305.6,373.7 L1306.6,376.5 L1307.6,373.7 L1308.6,370.3 L1309.6,366.2 L1310.6,361.7 L1311.5,357.0 L1312.5,352.3 L1313.5,347.8 L1314.5,343.7 L1315.5,340.3 L1316.5,337.5 L1317.5,340.4 L1318.5,344.0 L1319.5,348.2 L1320.5,352.9 L1321.5,357.8 L1322.6,362.7 L1323.6,367.4 L1324.6,371.7 L1325.6,375.2 L1326.6,378.1 L1327.5,375.3 L1328.5,371.9 L1329.4,367.8 L1330.4,363.3 L1331.3,358.5 L1332.3,353.8 L1333.2,349.2 L1334.2,345.2 L1335.1,341.7 L1336.1,339.0 L1337.1,342.1 L1338.0,346.1 L1339.0,350.9 L1340.0,356.2 L1340.9,361.6 L1341.9,366.9 L1342.9,371.6 L1343.8,375.7 L1344.8,378.8 L1345.8,375.9 L1346.7,372.2 L1347.7,367.7 L1348.7,362.8 L1349.6,357.8 L1350.6,352.9 L1351.6,348.5 L1352.5,344.7 L1353.5,341.8 L1354.5,343.9 L1355.4,346.5 L1356.4,349.5 L1357.4,352.9 L1358.4,356.6 L1359.3,360.3 L1360.3,363.9 L1361.3,367.3 L1362.3,370.4 L1363.2,373.0 L1364.2,375.0 L1365.2,372.4 L1366.1,369.1 L1367.1,365.1 L1368.1,360.8 L1369.0,356.3 L1370.0,352.0 L1371.0,348.0 L1371.9,344.7 L1372.9,342.1 L1373.9,344.4 L1374.9,347.4 L1375.9,351.0 L1376.9,354.9 L1378.0,358.9 L1379.0,362.8 L1380.0,366.4 L1381.0,369.4 L1382.0,371.7 L1383.1,369.0 L1384.1,365.4 L1385.2,361.1 L1386.2,356.5 L1387.3,351.9 L1388.4,347.7 L1389.4,344.1 L1390.5,341.3 L1391.5,344.6 L1392.6,349.0 L1393.7,354.1 L1394.7,359.6 L1395.8,365.1 L1396.8,370.3 L1397.9,374.6 L1398.9,377.9 L1400.0,375.0 L1401.0,371.1 L1402.0,366.6 L1403.1,361.7 L1404.2,356.8 L1405.2,352.3 L1406.2,348.5 L1407.3,345.6 L1408.4,348.2 L1409.4,351.7 L1410.5,355.7 L1411.5,360.1 L1412.6,364.6 L1413.7,368.6 L1414.7,372.1 L1415.8,374.7 L1416.8,372.6 L1417.9,370.0 L1419.0,366.9 L1420.0,363.4 L1421.0,359.8 L1422.1,356.1 L1423.1,352.7 L1424.2,349.6 L1425.2,346.9 L1426.3,344.8 L1427.3,348.0 L1428.4,352.1 L1429.5,357.0 L1430.5,362.3 L1431.5,367.6 L1432.6,372.4 L1433.7,376.6 L1434.7,379.7 L1435.8,376.2 L1436.8,371.7 L1437.9,366.3 L1439.0,360.5 L1440.0,354.7 L1441.1,349.3 L1442.1,344.8 L1443.2,341.3 L1444.2,344.7 L1445.3,349.0 L1446.3,354.1 L1447.4,359.7 L1448.4,365.5 L1449.5,371.2 L1450.5,376.3 L1451.6,380.6 L1452.6,384.0 L1453.6,380.5 L1454.6,376.1 L1455.6,370.9 L1456.6,365.1 L1457.7,359.1 L1458.7,353.0 L1459.7,347.2 L1460.7,342.0 L1461.7,337.6 L1462.7,334.2 L1463.7,337.8 L1464.7,342.4 L1465.7,347.8 L1466.7,353.8 L1467.6,360.0 L1468.6,366.0 L1469.6,371.5 L1470.6,376.1 L1471.6,379.7 L1472.6,376.1 L1473.7,371.4 L1474.8,365.8 L1475.8,359.8 L1476.8,353.7 L1477.9,348.2 L1479.0,343.4 L1480.0,339.8 L1481.0,342.2 L1481.9,345.2 L1482.8,348.8 L1483.8,352.8 L1484.8,356.9 L1485.7,361.1 L1486.7,365.1 L1487.6,368.6 L1488.5,371.6 L1489.5,374.0 L1490.5,372.1 L1491.6,369.6 L1492.7,366.7 L1493.7,363.5 L1494.8,360.1 L1495.8,356.8 L1496.8,353.5 L1497.9,350.7 L1499.0,348.2 L1500.0,346.3 L1501.1,349.0 L1502.1,352.8 L1503.2,357.1 L1504.2,361.7 L1505.3,366.1 L1506.3,369.8 L1507.4,372.6 L1508.4,370.6 L1509.5,368.1 L1510.5,365.1 L1511.6,361.8 L1512.6,358.4 L1513.7,355.2 L1514.7,352.2 L1515.8,349.6 L1516.8,347.7 L1517.8,349.1 L1518.7,350.8 L1519.6,352.9 L1520.6,355.2 L1521.5,357.6 L1522.5,360.1 L1523.5,362.4 L1524.4,364.5 L1525.3,366.2 L1526.3,367.6 L1527.4,365.4 L1528.4,362.2 L1529.5,358.7 L1530.5,355.6 L1531.6,353.4 L1532.6,355.0 L1533.7,357.2 L1534.8,359.8 L1535.8,362.3 L1536.9,364.6 L1537.9,366.2 L1538.9,364.0 L1539.9,361.1 L1541.0,357.8 L1542.0,354.8 L1543.0,352.7 L1544.1,354.0 L1545.1,355.7 L1546.2,357.8 L1547.2,359.9 L1548.3,361.9 L1549.3,363.7 L1550.4,365.0 L1551.4,364.1 L1552.4,363.0 L1553.3,361.7 L1554.3,360.3 L1555.3,358.8 L1556.3,357.2 L1557.3,355.7 L1558.3,354.3 L1559.2,353.0 L1560.2,351.9 L1561.2,351.1 L1562.2,352.1 L1563.2,353.4 L1564.1,354.9 L1565.1,356.5 L1566.1,358.3 L1567.1,360.1 L1568.1,361.8 L1569.0,363.3 L1570.0,364.6 L1571.0,365.6 L1572.0,363.6 L1573.1,360.9 L1574.1,357.8 L1575.1,354.5 L1576.1,351.4 L1577.2,348.8 L1578.2,346.8 L1579.2,348.3 L1580.2,350.3 L1581.2,352.5 L1582.2,355.1 L1583.2,357.7 L1584.1,360.4 L1585.1,362.9 L1586.1,365.2 L1587.1,367.1 L1588.1,368.6 L1589.1,366.0 L1590.2,362.4 L1591.2,358.3 L1592.3,354.2 L1593.4,350.6 L1594.4,348.0 L1595.4,349.9 L1596.4,352.3 L1597.4,355.1 L1598.4,358.2 L1599.3,361.4 L1600.3,364.6 L1601.3,367.4 L1602.3,369.8 L1603.3,371.7 L1604.3,369.6 L1605.3,367.0 L1606.3,363.8 L1607.3,360.4 L1608.3,356.8 L1609.3,353.4 L1610.3,350.3 L1611.3,347.6 L1612.3,345.6 L1613.3,347.8 L1614.3,350.7 L1615.3,354.1 L1616.3,357.9 L1617.3,361.8 L1618.3,365.5 L1619.3,369.0 L1620.3,371.8 L1621.3,374.1 L1622.3,371.7 L1623.3,368.6 L1624.3,365.0 L1625.3,361.0 L1626.3,356.9 L1627.3,352.9 L1628.3,349.2 L1629.3,346.1 L1630.3,343.8 L1631.3,346.5 L1632.4,350.2 L1633.4,354.5 L1634.4,359.1 L1635.4,363.4 L1636.5,367.1 L1637.5,369.8 L1638.5,368.3 L1639.6,366.3 L1640.6,364.1 L1641.6,361.5 L1642.6,358.8 L1643.7,356.0 L1644.7,353.3 L1645.7,350.8 L1646.7,348.5 L1647.8,346.5 L1648.8,345.0 L1649.8,347.1 L1650.9,349.9 L1652.0,353.2 L1653.0,356.8 L1654.0,360.4 L1655.1,363.7 L1656.2,366.5 L1657.2,368.6 L1658.2,366.5 L1659.3,363.7 L1660.3,360.4 L1661.3,356.9 L1662.3,353.6 L1663.4,350.7 L1664.4,348.6 L1665.4,349.9 L1666.4,351.7 L1667.4,353.7 L1668.5,355.9 L1669.5,358.1 L1670.5,360.1 L1671.5,361.8 L1672.5,363.1 L1673.5,362.5 L1674.5,361.7 L1675.5,360.8 L1676.5,359.8 L1677.4,358.7 L1678.4,357.7 L1679.4,356.7 L1680.4,355.9 L1681.4,355.3 L1682.3,355.9 L1683.3,356.8 L1684.2,357.7 L1685.1,358.7 L1686.1,359.5 L1687.0,360.1" stroke="#4a9140"/><path d="M138.0,356.9 L139.0,356.9 L140.0,357.0 L141.0,357.0 L142.0,357.1 L143.0,357.1 L144.0,357.2 L145.0,357.3 L146.0,357.3 L147.0,357.4 L148.0,357.4 L149.0,357.5 L150.0,357.5 L151.0,357.7 L152.0,357.9 L153.0,358.1 L154.0,358.3 L155.0,358.6 L156.0,358.9 L157.0,359.2 L158.0,359.4 L159.0,359.7 L160.0,360.0 L161.0,360.3 L162.0,360.5 L163.0,360.7 L164.0,360.9 L165.0,361.1 L166.0,360.8 L167.0,360.5 L168.0,360.1 L168.9,359.7 L169.9,359.2 L170.9,358.7 L171.9,358.2 L172.9,357.6 L173.9,357.1 L174.8,356.5 L175.8,356.0 L176.8,355.4 L177.8,354.9 L178.8,354.4 L179.8,354.0 L180.7,353.5 L181.7,353.2 L182.7,352.8 L183.7,352.5 L184.7,352.9 L185.7,353.3 L186.8,353.8 L187.8,354.3 L188.8,354.9 L189.8,355.5 L190.9,356.1 L191.9,356.8 L192.9,357.5 L193.9,358.2 L194.9,358.9 L196.0,359.6 L197.0,360.3 L198.0,361.0 L199.0,361.7 L200.1,362.3 L201.1,362.9 L202.1,363.5 L203.1,364.0 L204.2,364.5 L205.2,364.9 L206.2,365.3 L207.2,364.3 L208.2,363.1 L209.3,361.6 L210.3,360.0 L211.3,358.3 L212.3,356.5 L213.3,354.8 L214.3,353.2 L215.4,351.7 L216.4,350.5 L217.4,349.5 L218.4,349.9 L219.4,350.3 L220.3,350.8 L221.3,351.4 L222.3,352.0 L223.3,352.6 L224.3,353.3 L225.2,354.0 L226.2,354.7 L227.2,355.4 L228.2,356.1 L229.1,356.8 L230.1,357.4 L231.1,358.1 L232.1,358.7 L233.1,359.2 L234.0,359.7 L235.0,360.1 L236.0,360.5 L237.0,360.2 L238.0,359.9 L239.0,359.6 L240.0,359.2 L241.0,358.8 L242.0,358.4 L243.0,357.9 L244.0,357.4 L245.0,356.9 L245.9,356.4 L246.9,356.0 L247.9,355.5 L248.9,355.0 L249.9,354.6 L250.9,354.2 L251.9,353.8 L252.9,353.4 L253.9,353.1 L254.9,352.9 L255.9,353.1 L256.9,353.4 L258.0,353.8 L259.0,354.1 L260.0,354.5 L261.0,355.0 L262.0,355.4 L263.0,355.9 L264.1,356.4 L265.1,356.9 L266.1,357.4 L267.1,357.9 L268.1,358.4 L269.2,358.9 L270.2,359.3 L271.2,359.8 L272.2,360.2 L273.2,360.6 L274.2,361.0 L275.3,361.3 L276.3,361.6 L277.3,361.9 L278.3,361.7 L279.3,361.4 L280.3,361.2 L281.2,360.9 L282.2,360.6 L283.2,360.3 L284.2,359.9 L285.2,359.5 L286.2,359.2 L287.2,358.8 L288.2,358.4 L289.1,358.0 L290.1,357.6 L291.1,357.2 L292.1,356.8 L293.1,356.5 L294.1,356.1 L295.1,355.8 L296.1,355.5 L297.0,355.2 L298.0,354.9 L299.0,354.7 L300.0,354.5 L301.0,354.7 L302.0,354.9 L303.0,355.2 L304.0,355.4 L305.0,355.8 L306.0,356.1 L307.0,356.4 L308.0,356.8 L309.0,357.1 L310.0,357.5 L311.0,357.9 L312.0,358.2 L313.0,358.6 L314.0,358.9 L315.0,359.2 L316.0,359.6 L317.0,359.8 L318.0,360.1 L319.0,360.3 L320.0,360.5 L321.0,360.3 L322.0,360.1 L323.0,359.9 L324.0,359.6 L325.0,359.4 L326.0,359.1 L327.0,358.8 L328.0,358.5 L329.0,358.1 L330.0,357.8 L331.0,357.5 L332.0,357.1 L333.0,356.8 L334.0,356.5 L335.0,356.2 L336.0,356.0 L337.0,355.7 L338.0,355.5 L339.0,355.3 L340.0,355.1 L341.0,355.5 L342.0,356.1 L343.0,356.8 L344.0,357.6 L345.0,358.3 L346.0,358.9 L347.0,359.3 L348.1,358.8 L349.1,358.2 L350.2,357.5 L351.2,356.7 L352.3,355.9 L353.4,355.1 L354.4,354.5 L355.5,354.0 L356.5,354.4 L357.5,355.0 L358.5,355.6 L359.5,356.2 L360.5,357.0 L361.5,357.7 L362.6,358.5 L363.6,359.2 L364.6,360.0 L365.6,360.6 L366.6,361.2 L367.6,361.8 L368.6,362.2 L369.6,362.4 L370.6,362.8 L371.5,363.1 L372.5,363.5 L373.5,364.0 L374.5,364.4 L375.5,364.9 L376.5,365.4 L377.4,365.9 L378.4,366.4 L379.4,366.8 L380.4,367.3 L381.4,367.7 L382.3,368.0 L383.3,368.4 L384.3,368.6 L385.3,366.5 L386.3,363.8 L387.3,360.6 L388.3,357.0 L389.4,353.3 L390.4,349.8 L391.4,346.6 L392.4,343.8 L393.4,341.7 L394.4,345.2 L395.4,349.8 L396.4,355.3 L397.4,361.1 L398.4,366.5 L399.4,371.2 L400.4,374.6 L401.4,372.0 L402.3,368.6 L403.3,364.6 L404.2,360.2 L405.2,355.8 L406.2,351.8 L407.1,348.3 L408.1,345.7 L409.1,347.1 L410.2,348.8 L411.2,350.8 L412.2,353.0 L413.2,355.3 L414.3,357.7 L415.3,360.1 L416.3,362.3 L417.3,364.3 L418.4,366.0 L419.4,367.3 L420.4,365.6 L421.4,363.4 L422.4,360.9 L423.4,358.0 L424.4,355.0 L425.5,352.0 L426.5,349.2 L427.5,346.6 L428.5,344.4 L429.5,342.7 L430.5,346.5 L431.5,351.7 L432.5,357.7 L433.5,363.7 L434.5,368.9 L435.5,372.6 L436.5,370.6 L437.4,367.9 L438.4,364.8 L439.4,361.4 L440.3,358.0 L441.3,354.8 L442.2,352.1 L443.2,350.1 L444.2,350.6 L445.2,351.1 L446.2,351.8 L447.2,352.5 L448.1,353.2 L449.1,354.1 L450.1,354.9 L451.1,355.8 L452.1,356.7 L453.1,357.7 L454.1,358.6 L455.1,359.5 L456.1,360.4 L457.1,361.3 L458.1,362.1 L459.0,362.8 L460.0,363.5 L461.0,364.2 L462.0,364.7 L463.0,365.2 L464.0,364.0 L465.0,362.4 L466.0,360.6 L467.0,358.5 L468.0,356.3 L469.1,354.0 L470.1,351.8 L471.1,349.6 L472.1,347.5 L473.1,345.7 L474.1,344.1 L475.1,342.9 L476.1,347.5 L477.1,353.2 L478.1,360.0 L479.1,367.5 L480.1,375.6 L481.2,383.8 L482.2,391.8 L483.2,399.4 L484.2,406.1 L485.2,411.9 L486.2,416.5 L487.1,403.3 L488.1,386.1 L489.1,365.7 L490.0,343.6 L490.9,321.5 L491.9,301.1 L492.9,283.8 L493.8,270.7 L494.8,284.4 L495.8,302.0 L496.9,322.9 L497.9,345.9 L498.9,369.6 L499.9,392.5 L501.0,413.4 L502.0,431.1 L503.0,444.8 L504.0,432.0 L505.0,415.5 L505.9,396.0 L506.9,374.6 L507.9,352.5 L508.9,331.0 L509.8,311.6 L510.8,295.1 L511.8,282.3 L512.8,292.9 L513.7,306.2 L514.7,322.0 L515.6,339.5 L516.6,358.0 L517.6,376.4 L518.5,393.9 L519.5,409.7 L520.4,423.1 L521.4,433.6 L522.4,420.2 L523.4,402.9 L524.4,382.5 L525.4,360.0 L526.5,336.8 L527.5,314.3 L528.5,293.9 L529.5,276.6 L530.5,263.2 L531.5,276.6 L532.5,293.5 L533.5,313.5 L534.5,335.6 L535.5,359.0 L536.5,382.3 L537.5,404.5 L538.5,424.5 L539.5,441.4 L540.5,454.8 L541.5,440.8 L542.4,422.9 L543.4,401.6 L544.4,378.3 L545.3,354.1 L546.3,330.8 L547.3,309.5 L548.2,291.6 L549.2,277.6 L550.2,287.9 L551.2,300.9 L552.1,316.3 L553.1,333.3 L554.1,351.3 L555.1,369.2 L556.1,386.3 L557.0,401.6 L558.0,414.7 L559.0,424.9 L560.0,413.7 L561.0,399.3 L562.1,382.3 L563.1,363.5 L564.1,344.2 L565.1,325.4 L566.2,308.3 L567.2,293.9 L568.2,282.7 L569.2,293.8 L570.2,308.1 L571.3,324.9 L572.3,343.5 L573.3,362.6 L574.3,381.2 L575.4,398.0 L576.4,412.3 L577.4,423.4 L578.4,415.2 L579.4,404.7 L580.3,392.4 L581.3,378.8 L582.3,364.4 L583.3,350.1 L584.3,336.4 L585.2,324.2 L586.2,313.7 L587.2,305.5 L588.2,311.6 L589.1,319.3 L590.1,328.3 L591.1,338.4 L592.0,349.0 L593.0,359.5 L594.0,369.6 L595.0,378.7 L595.9,386.3 L596.9,392.4 L597.9,387.3 L599.0,380.6 L600.0,372.7 L601.0,364.1 L602.1,355.5 L603.1,347.6 L604.2,340.9 L605.2,335.8 L606.2,338.6 L607.3,342.0 L608.3,346.1 L609.4,350.6 L610.4,355.4 L611.5,360.4 L612.5,365.4 L613.5,370.3 L614.6,374.8 L615.6,378.8 L616.7,382.3 L617.7,385.1 L618.7,382.0 L619.7,378.2 L620.7,373.8 L621.6,368.9 L622.6,363.6 L623.6,358.1 L624.6,352.6 L625.6,347.3 L626.5,342.3 L627.5,337.9 L628.5,334.2 L629.5,331.1 L630.5,335.8 L631.5,341.7 L632.5,348.7 L633.5,356.5 L634.5,364.7 L635.5,372.9 L636.5,380.7 L637.5,387.7 L638.5,393.6 L639.5,398.3 L640.6,389.0 L641.6,376.6 L642.7,362.0 L643.7,346.6 L644.8,331.9 L645.8,319.5 L646.9,310.2 L647.9,318.0 L648.8,328.0 L649.8,339.7 L650.7,352.7 L651.7,366.4 L652.7,380.1 L653.6,393.1 L654.6,404.8 L655.5,414.7 L656.5,422.6 L657.5,411.8 L658.5,398.0 L659.6,381.6 L660.6,363.6 L661.6,345.0 L662.6,327.0 L663.7,310.6 L664.7,296.7 L665.7,286.0 L666.7,296.8 L667.7,310.7 L668.6,327.1 L669.6,345.2 L670.6,363.9 L671.6,382.0 L672.5,398.5 L673.5,412.4 L674.5,423.2 L675.5,413.0 L676.4,399.9 L677.4,384.4 L678.4,367.4 L679.3,349.8 L680.3,332.7 L681.3,317.3 L682.2,304.2 L683.2,294.0 L684.2,303.5 L685.2,315.8 L686.2,330.4 L687.2,346.4 L688.3,362.9 L689.3,378.9 L690.3,393.5 L691.3,405.8 L692.3,415.3 L693.3,405.9 L694.3,393.5 L695.4,378.9 L696.4,363.0 L697.4,347.2 L698.5,332.6 L699.5,320.2 L700.5,310.8 L701.5,315.6 L702.4,321.6 L703.4,328.6 L704.4,336.5 L705.3,344.8 L706.3,353.4 L707.2,361.8 L708.2,369.6 L709.2,376.6 L710.1,382.6 L711.1,387.4 L712.1,383.5 L713.1,378.7 L714.1,372.9 L715.1,366.5 L716.1,359.7 L717.2,352.8 L718.2,346.0 L719.2,339.6 L720.2,333.9 L721.2,329.0 L722.2,325.1 L723.2,330.5 L724.3,337.6 L725.3,345.9 L726.3,355.0 L727.4,364.4 L728.4,373.6 L729.4,381.9 L730.5,388.9 L731.5,394.4 L732.5,389.7 L733.4,383.8 L734.4,376.9 L735.4,369.3 L736.3,361.1 L737.3,352.7 L738.2,344.6 L739.2,336.9 L740.2,330.0 L741.1,324.1 L742.1,319.5 L743.1,326.8 L744.1,336.5 L745.1,348.0 L746.1,360.4 L747.1,372.8 L748.1,384.2 L749.1,393.9 L750.1,401.3 L751.2,393.3 L752.2,383.0 L753.3,370.7 L754.4,357.4 L755.4,344.1 L756.5,331.8 L757.5,321.5 L758.6,313.5 L759.6,320.9 L760.6,330.6 L761.7,342.0 L762.7,354.4 L763.7,366.8 L764.8,378.3 L765.8,388.0 L766.8,395.3 L767.9,389.8 L768.9,382.5 L770.0,373.8 L771.0,364.5 L772.1,355.1 L773.2,346.5 L774.2,339.2 L775.3,333.6 L776.3,335.9 L777.3,338.8 L778.3,342.1 L779.3,345.8 L780.3,349.8 L781.2,353.9 L782.2,358.1 L783.2,362.1 L784.2,365.8 L785.2,369.1 L786.2,371.9 L787.2,374.3 L788.2,372.2 L789.1,369.6 L790.1,366.6 L791.1,363.2 L792.0,359.7 L793.0,356.0 L793.9,352.4 L794.9,349.0 L795.9,346.0 L796.8,343.5 L797.8,341.4 L798.8,345.0 L799.8,349.9 L800.8,355.6 L801.9,361.4 L802.9,366.3 L803.9,369.9 L804.9,368.0 L806.0,365.3 L807.0,362.3 L808.0,359.0 L809.0,356.0 L810.1,353.4 L811.1,351.4 L812.1,352.5 L813.1,353.8 L814.1,355.4 L815.1,357.2 L816.0,359.0 L817.0,360.8 L818.0,362.3 L819.0,363.7 L820.0,364.8 L821.0,363.9 L822.0,362.8 L823.0,361.5 L824.0,360.0 L825.0,358.6 L826.0,357.3 L827.0,356.1 L828.0,355.3 L829.0,357.0 L830.1,359.4 L831.1,362.1 L832.2,364.8 L833.2,367.1 L834.3,368.9 L835.3,365.7 L836.4,361.3 L837.5,356.2 L838.5,351.2 L839.5,346.8 L840.6,343.6 L841.6,346.0 L842.6,349.1 L843.6,352.7 L844.6,356.7 L845.6,360.9 L846.6,365.1 L847.6,369.1 L848.6,372.7 L849.6,375.8 L850.6,378.2 L851.7,373.2 L852.7,366.6 L853.8,358.7 L854.8,350.5 L855.9,342.6 L856.9,336.0 L858.0,331.0 L859.0,335.0 L860.0,340.3 L861.0,346.6 L862.0,353.4 L863.0,360.2 L864.0,366.4 L865.0,371.7 L866.0,375.8 L867.0,373.0 L868.1,369.4 L869.1,365.1 L870.1,360.5 L871.2,355.9 L872.2,351.6 L873.3,348.0 L874.3,345.2 L875.2,347.9 L876.1,351.6 L877.0,355.8 L878.0,360.1 L878.9,363.8 L879.8,366.5 L880.8,365.1 L881.7,363.2 L882.7,361.1 L883.7,358.8 L884.7,356.6 L885.6,354.8 L886.6,353.4 L887.6,355.0 L888.7,357.1 L889.7,359.5 L890.8,362.2 L891.8,364.8 L892.8,367.2 L893.9,369.3 L894.9,370.9 L895.9,369.3 L897.0,367.3 L898.0,365.0 L899.0,362.3 L900.0,359.5 L901.0,356.6 L902.1,353.7 L903.1,350.9 L904.1,348.3 L905.2,346.0 L906.2,344.0 L907.2,342.4 L908.2,346.1 L909.3,351.1 L910.3,356.9 L911.3,363.1 L912.3,369.0 L913.4,373.9 L914.4,377.7 L915.4,374.9 L916.4,371.4 L917.4,367.2 L918.4,362.6 L919.5,357.8 L920.5,353.2 L921.5,349.0 L922.5,345.5 L923.5,342.8 L924.5,345.4 L925.4,348.6 L926.4,352.5 L927.3,356.8 L928.2,361.3 L929.2,365.8 L930.1,370.1 L931.1,374.0 L932.0,377.2 L933.0,379.8 L934.0,376.0 L935.0,371.1 L936.0,365.4 L937.0,359.0 L938.0,352.3 L938.9,345.6 L939.9,339.2 L940.9,333.5 L941.9,328.6 L942.9,324.7 L943.9,330.7 L945.0,338.5 L946.0,347.6 L947.0,357.7 L948.1,368.0 L949.1,378.1 L950.1,387.2 L951.2,394.9 L952.2,400.9 L953.2,394.0 L954.1,385.2 L955.1,374.7 L956.0,363.2 L957.0,351.3 L957.9,339.8 L958.9,329.3 L959.8,320.4 L960.8,313.5 L961.8,319.4 L962.8,326.9 L963.8,335.7 L964.8,345.5 L965.8,355.8 L966.7,366.1 L967.7,375.9 L968.7,384.7 L969.7,392.2 L970.7,398.1 L971.7,392.7 L972.7,385.8 L973.7,377.7 L974.7,368.7 L975.7,359.3 L976.7,349.8 L977.7,340.8 L978.7,332.7 L979.7,325.9 L980.7,320.4 L981.7,325.6 L982.7,332.2 L983.6,339.9 L984.6,348.4 L985.6,357.4 L986.6,366.5 L987.6,375.0 L988.5,382.7 L989.5,389.3 L990.5,394.4 L991.6,387.8 L992.6,379.1 L993.7,368.8 L994.8,357.7 L995.8,346.5 L996.9,336.2 L997.9,327.5 L999.0,320.9 L1000.0,326.2 L1000.9,333.0 L1001.9,340.9 L1002.8,349.8 L1003.8,359.1 L1004.7,368.4 L1005.6,377.2 L1006.6,385.2 L1007.5,392.0 L1008.5,397.3 L1009.5,391.1 L1010.5,383.1 L1011.5,373.6 L1012.5,363.2 L1013.4,352.5 L1014.4,342.1 L1015.4,332.6 L1016.4,324.6 L1017.4,318.4 L1018.4,323.9 L1019.3,330.8 L1020.3,338.9 L1021.2,347.9 L1022.2,357.4 L1023.2,367.0 L1024.1,376.0 L1025.1,384.1 L1026.0,391.0 L1027.0,396.5 L1028.0,389.9 L1029.1,381.2 L1030.2,371.0 L1031.2,359.9 L1032.2,348.8 L1033.3,338.6 L1034.4,329.9 L1035.4,323.3 L1036.4,328.3 L1037.4,334.9 L1038.4,342.6 L1039.4,351.0 L1040.5,359.8 L1041.5,368.3 L1042.5,376.0 L1043.5,382.5 L1044.5,387.5 L1045.5,383.6 L1046.4,378.5 L1047.3,372.6 L1048.3,366.0 L1049.2,359.1 L1050.2,352.1 L1051.2,345.6 L1052.1,339.6 L1053.0,334.6 L1054.0,330.6 L1055.0,334.2 L1056.0,338.7 L1056.9,344.1 L1057.9,350.0 L1058.9,356.2 L1059.9,362.5 L1060.9,368.4 L1061.8,373.8 L1062.8,378.3 L1063.8,381.9 L1064.8,378.6 L1065.8,374.6 L1066.9,369.7 L1067.9,364.4 L1068.9,358.7 L1069.9,353.1 L1070.9,347.8 L1072.0,342.9 L1073.0,338.9 L1074.0,335.6 L1075.0,339.7 L1076.0,345.0 L1077.0,351.3 L1078.0,358.1 L1079.1,365.0 L1080.1,371.3 L1081.1,376.6 L1082.1,380.6 L1083.1,377.4 L1084.0,373.2 L1085.0,368.2 L1085.9,362.7 L1086.9,357.1 L1087.8,351.6 L1088.8,346.6 L1089.7,342.4 L1090.7,339.1 L1091.7,342.8 L1092.6,347.8 L1093.6,353.6 L1094.5,359.4 L1095.5,364.4 L1096.4,368.1 L1097.4,366.2 L1098.5,363.6 L1099.5,360.6 L1100.6,357.5 L1101.6,354.5 L1102.7,352.0 L1103.7,350.1 L1104.8,352.1 L1105.8,354.9 L1106.8,358.1 L1107.9,361.3 L1109.0,364.1 L1110.0,366.2 L1110.9,363.4 L1111.9,359.6 L1112.8,355.4 L1113.8,351.6 L1114.7,348.9 L1115.7,351.1 L1116.7,354.0 L1117.7,357.4 L1118.7,361.1 L1119.6,364.8 L1120.6,368.2 L1121.6,371.1 L1122.6,373.4 L1123.6,370.4 L1124.5,366.4 L1125.5,361.7 L1126.4,356.8 L1127.4,352.2 L1128.3,348.2 L1129.3,345.2 L1130.3,347.5 L1131.4,350.5 L1132.4,354.0 L1133.4,357.9 L1134.5,361.7 L1135.5,365.2 L1136.6,368.2 L1137.6,370.5 L1138.6,367.6 L1139.7,363.5 L1140.8,358.9 L1141.8,354.2 L1142.9,350.2 L1143.9,347.3 L1144.9,348.5 L1145.8,350.2 L1146.8,352.1 L1147.7,354.2 L1148.7,356.5 L1149.7,358.7 L1150.6,360.8 L1151.6,362.7 L1152.5,364.4 L1153.5,365.7 L1154.6,364.4 L1155.6,362.8 L1156.7,360.9 L1157.8,358.8 L1158.8,356.7 L1159.9,354.8 L1160.9,353.2 L1162.0,352.0 L1163.0,353.1 L1164.0,354.7 L1165.0,356.4 L1166.0,358.0 L1167.0,359.1 L1168.0,357.0 L1169.0,354.2 L1170.0,351.3 L1171.0,349.2 L1171.9,352.2 L1172.8,356.3 L1173.8,361.1 L1174.7,365.8 L1175.6,369.9 L1176.5,372.9 L1177.5,370.6 L1178.4,367.7 L1179.4,364.3 L1180.3,360.4 L1181.3,356.4 L1182.3,352.4 L1183.2,348.6 L1184.2,345.1 L1185.1,342.2 L1186.1,339.9 L1187.1,342.7 L1188.1,346.2 L1189.1,350.4 L1190.1,355.1 L1191.0,359.8 L1192.0,364.5 L1193.0,368.7 L1194.0,372.2 L1195.0,375.0 L1196.0,372.4 L1197.1,369.2 L1198.1,365.4 L1199.1,361.2 L1200.2,356.8 L1201.2,352.4 L1202.2,348.2 L1203.2,344.4 L1204.3,341.2 L1205.3,338.7 L1206.3,342.0 L1207.2,346.3 L1208.2,351.4 L1209.1,357.0 L1210.1,362.8 L1211.0,368.4 L1212.0,373.4 L1212.9,377.7 L1213.9,381.1 L1214.9,377.4 L1216.0,372.7 L1217.0,367.2 L1218.1,361.1 L1219.1,354.8 L1220.2,348.7 L1221.2,343.1 L1222.3,338.4 L1223.3,334.8 L1224.3,338.2 L1225.3,342.6 L1226.4,347.7 L1227.4,353.4 L1228.4,359.3 L1229.4,365.0 L1230.5,370.2 L1231.5,374.6 L1232.5,378.0 L1233.5,374.8 L1234.5,370.7 L1235.5,365.9 L1236.5,360.6 L1237.6,355.1 L1238.6,349.8 L1239.6,344.9 L1240.6,340.8 L1241.6,337.7 L1242.6,340.4 L1243.7,344.0 L1244.7,348.1 L1245.7,352.8 L1246.8,357.6 L1247.8,362.5 L1248.8,367.1 L1249.8,371.3 L1250.9,374.8 L1251.9,377.6 L1252.8,374.3 L1253.8,369.9 L1254.7,364.7 L1255.7,359.1 L1256.6,353.5 L1257.5,348.3 L1258.5,343.9 L1259.4,340.5 L1260.4,342.9 L1261.3,345.8 L1262.3,349.2 L1263.2,353.1 L1264.2,357.1 L1265.2,361.1 L1266.1,365.0 L1267.1,368.4 L1268.0,371.3 L1269.0,373.6 L1270.0,371.1 L1271.0,367.9 L1272.0,364.1 L1273.0,360.0 L1274.1,355.6 L1275.1,351.5 L1276.1,347.7 L1277.1,344.5 L1278.1,342.0 L1279.1,344.6 L1280.1,347.9 L1281.1,351.9 L1282.1,356.2 L1283.2,360.7 L1284.2,365.1 L1285.2,369.0 L1286.2,372.4 L1287.2,375.0 L1288.2,372.8 L1289.1,370.0 L1290.1,366.7 L1291.0,363.1 L1292.0,359.3 L1293.0,355.5 L1293.9,351.8 L1294.9,348.6 L1295.8,345.8 L1296.8,343.6 L1297.8,345.5 L1298.8,347.9 L1299.7,350.8 L1300.7,354.0 L1301.7,357.3 L1302.7,360.6 L1303.7,363.8 L1304.6,366.7 L1305.6,369.1 L1306.6,371.0 L1307.6,369.1 L1308.6,366.7 L1309.6,363.8 L1310.6,360.7 L1311.5,357.4 L1312.5,354.1 L1313.5,350.9 L1314.5,348.1 L1315.5,345.7 L1316.5,343.8 L1317.5,345.7 L1318.5,348.2 L1319.5,351.2 L1320.5,354.5 L1321.5,357.9 L1322.6,361.4 L1323.6,364.7 L1324.6,367.6 L1325.6,370.1 L1326.6,372.1 L1327.5,370.2 L1328.5,367.8 L1329.4,364.9 L1330.4,361.8 L1331.3,358.4 L1332.3,355.1 L1333.2,351.9 L1334.2,349.1 L1335.1,346.7 L1336.1,344.8 L1337.1,346.9 L1338.0,349.8 L1339.0,353.1 L1340.0,356.8 L1340.9,360.6 L1341.9,364.3 L1342.9,367.6 L1343.8,370.5 L1344.8,372.6 L1345.8,370.6 L1346.7,368.0 L1347.7,364.9 L1348.7,361.5 L1349.6,357.9 L1350.6,354.5 L1351.6,351.4 L1352.5,348.8 L1353.5,346.7 L1354.5,348.2 L1355.4,350.0 L1356.4,352.1 L1357.4,354.5 L1358.4,357.1 L1359.3,359.7 L1360.3,362.2 L1361.3,364.6 L1362.3,366.7 L1363.2,368.5 L1364.2,370.0 L1365.2,368.2 L1366.1,365.8 L1367.1,363.1 L1368.1,360.0 L1369.0,356.9 L1370.0,353.8 L1371.0,351.1 L1371.9,348.7 L1372.9,346.9 L1373.9,348.6 L1374.9,350.7 L1375.9,353.2 L1376.9,355.9 L1378.0,358.7 L1379.0,361.5 L1380.0,363.9 L1381.0,366.0 L1382.0,367.7 L1383.1,365.8 L1384.1,363.2 L1385.2,360.3 L1386.2,357.0 L1387.3,353.8 L1388.4,350.8 L1389.4,348.3 L1390.5,346.4 L1391.5,348.7 L1392.6,351.7 L1393.7,355.3 L1394.7,359.2 L1395.8,363.1 L1396.8,366.7 L1397.9,369.7 L1398.9,372.0 L1400.0,369.9 L1401.0,367.3 L1402.0,364.1 L1403.1,360.7 L1404.2,357.3 L1405.2,354.1 L1406.2,351.4 L1407.3,349.4 L1408.4,351.2 L1409.4,353.6 L1410.5,356.5 L1411.5,359.6 L1412.6,362.7 L1413.7,365.5 L1414.7,367.9 L1415.8,369.8 L1416.8,368.3 L1417.9,366.5 L1419.0,364.3 L1420.0,361.9 L1421.0,359.3 L1422.1,356.8 L1423.1,354.3 L1424.2,352.2 L1425.2,350.3 L1426.3,348.9 L1427.3,351.1 L1428.4,354.0 L1429.5,357.4 L1430.5,361.1 L1431.5,364.8 L1432.6,368.2 L1433.7,371.1 L1434.7,373.3 L1435.8,370.8 L1436.8,367.7 L1437.9,363.9 L1439.0,359.8 L1440.0,355.8 L1441.1,352.0 L1442.1,348.8 L1443.2,346.4 L1444.2,348.8 L1445.3,351.8 L1446.3,355.4 L1447.4,359.3 L1448.4,363.4 L1449.5,367.3 L1450.5,370.9 L1451.6,373.9 L1452.6,376.2 L1453.6,373.8 L1454.6,370.7 L1455.6,367.1 L1456.6,363.1 L1457.7,358.8 L1458.7,354.6 L1459.7,350.5 L1460.7,346.9 L1461.7,343.8 L1462.7,341.4 L1463.7,343.9 L1464.7,347.1 L1465.7,351.0 L1466.7,355.2 L1467.6,359.5 L1468.6,363.7 L1469.6,367.5 L1470.6,370.8 L1471.6,373.3 L1472.6,370.7 L1473.7,367.4 L1474.8,363.5 L1475.8,359.3 L1476.8,355.1 L1477.9,351.2 L1479.0,347.9 L1480.0,345.4 L1481.0,347.0 L1481.9,349.1 L1482.8,351.6 L1483.8,354.4 L1484.8,357.3 L1485.7,360.2 L1486.7,363.0 L1487.6,365.5 L1488.5,367.6 L1489.5,369.3 L1490.5,367.9 L1491.6,366.2 L1492.7,364.2 L1493.7,361.9 L1494.8,359.6 L1495.8,357.2 L1496.8,355.0 L1497.9,352.9 L1499.0,351.2 L1500.0,349.9 L1501.1,351.8 L1502.1,354.4 L1503.2,357.5 L1504.2,360.7 L1505.3,363.7 L1506.3,366.4 L1507.4,368.3 L1508.4,366.9 L1509.5,365.2 L1510.5,363.1 L1511.6,360.8 L1512.6,358.4 L1513.7,356.1 L1514.7,354.0 L1515.8,352.2 L1516.8,350.8 L1517.8,351.8 L1518.7,353.1 L1519.6,354.5 L1520.6,356.1 L1521.5,357.8 L1522.5,359.5 L1523.5,361.1 L1524.4,362.6 L1525.3,363.8 L1526.3,364.8 L1527.4,363.2 L1528.4,361.0 L1529.5,358.6 L1530.5,356.4 L1531.6,354.8 L1532.6,356.0 L1533.7,357.5 L1534.8,359.3 L1535.8,361.1 L1536.9,362.7 L1537.9,363.8 L1538.9,362.3 L1539.9,360.2 L1541.0,357.9 L1542.0,355.8 L1543.0,354.3 L1544.1,355.3 L1545.1,356.5 L1546.2,357.9 L1547.2,359.4 L1548.3,360.8 L1549.3,362.0 L1550.4,363.0 L1551.4,362.3 L1552.4,361.6 L1553.3,360.7 L1554.3,359.7 L1555.3,358.6 L1556.3,357.5 L1557.3,356.5 L1558.3,355.5 L1559.2,354.6 L1560.2,353.8 L1561.2,353.2 L1562.2,353.9 L1563.2,354.8 L1564.1,355.9 L1565.1,357.1 L1566.1,358.3 L1567.1,359.5 L1568.1,360.7 L1569.0,361.8 L1570.0,362.7 L1571.0,363.4 L1572.0,362.0 L1573.1,360.1 L1574.1,358.0 L1575.1,355.7 L1576.1,353.5 L1577.2,351.6 L1578.2,350.2 L1579.2,351.3 L1580.2,352.7 L1581.2,354.2 L1582.2,356.0 L1583.2,357.9 L1584.1,359.7 L1585.1,361.5 L1586.1,363.1 L1587.1,364.4 L1588.1,365.5 L1589.1,363.7 L1590.2,361.2 L1591.2,358.3 L1592.3,355.4 L1593.4,352.9 L1594.4,351.1 L1595.4,352.4 L1596.4,354.1 L1597.4,356.1 L1598.4,358.2 L1599.3,360.5 L1600.3,362.7 L1601.3,364.7 L1602.3,366.3 L1603.3,367.6 L1604.3,366.2 L1605.3,364.3 L1606.3,362.2 L1607.3,359.8 L1608.3,357.3 L1609.3,354.9 L1610.3,352.7 L1611.3,350.8 L1612.3,349.4 L1613.3,351.0 L1614.3,353.0 L1615.3,355.4 L1616.3,358.0 L1617.3,360.7 L1618.3,363.4 L1619.3,365.7 L1620.3,367.8 L1621.3,369.3 L1622.3,367.7 L1623.3,365.5 L1624.3,363.0 L1625.3,360.2 L1626.3,357.3 L1627.3,354.5 L1628.3,351.9 L1629.3,349.8 L1630.3,348.1 L1631.3,350.0 L1632.4,352.6 L1633.4,355.6 L1634.4,358.8 L1635.4,361.9 L1636.5,364.4 L1637.5,366.4 L1638.5,365.3 L1639.6,363.9 L1640.6,362.3 L1641.6,360.5 L1642.6,358.6 L1643.7,356.7 L1644.7,354.8 L1645.7,353.0 L1646.7,351.4 L1647.8,350.0 L1648.8,349.0 L1649.8,350.5 L1650.9,352.4 L1652.0,354.7 L1653.0,357.2 L1654.0,359.7 L1655.1,362.1 L1656.2,364.0 L1657.2,365.5 L1658.2,364.0 L1659.3,362.1 L1660.3,359.7 L1661.3,357.3 L1662.3,355.0 L1663.4,353.0 L1664.4,351.5 L1665.4,352.4 L1666.4,353.6 L1667.4,355.1 L1668.5,356.6 L1669.5,358.1 L1670.5,359.6 L1671.5,360.8 L1672.5,361.7 L1673.5,361.2 L1674.5,360.7 L1675.5,360.0 L1676.5,359.3 L1677.4,358.6 L1678.4,357.8 L1679.4,357.2 L1680.4,356.6 L1681.4,356.2 L1682.3,356.6 L1683.3,357.2 L1684.2,357.9 L1685.1,358.5 L1686.1,359.1 L1687.0,359.6" stroke="#b02e2a"/><path d="M138.0,355.3 L139.0,355.5 L140.0,355.8 L141.0,356.2 L142.0,356.5 L143.0,356.9 L144.0,357.4 L145.0,357.8 L146.0,358.2 L147.0,358.6 L148.0,358.9 L149.0,359.2 L150.0,359.5 L151.0,359.3 L152.0,359.1 L153.0,358.9 L154.0,358.7 L155.0,358.4 L156.0,358.2 L157.0,357.9 L158.0,357.6 L159.0,357.3 L160.0,357.0 L161.0,356.8 L162.0,356.5 L163.0,356.3 L164.0,356.1 L165.0,356.0 L166.0,356.2 L167.0,356.5 L168.0,356.8 L169.0,357.1 L170.0,357.4 L171.0,357.8 L172.0,358.2 L173.0,358.6 L174.0,359.0 L175.0,359.4 L176.0,359.8 L177.0,360.1 L178.0,360.4 L179.0,360.7 L180.0,360.9 L181.0,360.7 L182.0,360.4 L183.0,360.2 L184.0,359.9 L185.0,359.6 L186.0,359.2 L187.0,358.9 L188.0,358.5 L189.0,358.1 L190.0,357.7 L191.0,357.3 L192.0,357.0 L193.0,356.6 L194.0,356.2 L195.0,355.9 L196.0,355.6 L197.0,355.3 L198.0,355.0 L199.0,354.8 L200.0,354.6 L201.0,354.8 L202.0,355.0 L203.0,355.2 L204.0,355.5 L205.0,355.7 L206.0,356.0 L207.0,356.4 L208.0,356.7 L209.0,357.0 L210.0,357.4 L211.0,357.7 L212.0,358.1 L213.0,358.4 L214.0,358.8 L215.0,359.1 L216.0,359.4 L217.0,359.7 L218.0,360.0 L219.0,360.2 L220.0,360.5 L221.0,360.7 L222.0,360.9 L223.0,360.7 L224.0,360.5 L224.9,360.2 L225.9,360.0 L226.9,359.7 L227.9,359.4 L228.9,359.1 L229.8,358.7 L230.8,358.4 L231.8,358.0 L232.8,357.7 L233.8,357.3 L234.8,356.9 L235.7,356.5 L236.7,356.2 L237.7,355.8 L238.7,355.5 L239.7,355.1 L240.6,354.8 L241.6,354.5 L242.6,354.2 L243.6,353.9 L244.6,353.6 L245.5,353.4 L246.5,353.2 L247.5,353.0 L248.5,353.3 L249.6,353.7 L250.6,354.1 L251.6,354.5 L252.6,355.0 L253.7,355.6 L254.7,356.2 L255.7,356.7 L256.8,357.3 L257.8,357.9 L258.8,358.5 L259.8,359.1 L260.9,359.6 L261.9,360.1 L262.9,360.6 L263.9,361.0 L265.0,361.4 L266.0,361.7 L267.0,361.4 L267.9,361.1 L268.9,360.6 L269.9,360.2 L270.9,359.7 L271.8,359.2 L272.8,358.6 L273.8,358.1 L274.8,357.5 L275.7,356.9 L276.7,356.4 L277.7,355.8 L278.6,355.3 L279.6,354.8 L280.6,354.4 L281.6,354.0 L282.5,353.6 L283.5,353.3 L284.5,353.6 L285.6,354.0 L286.6,354.4 L287.6,354.9 L288.7,355.4 L289.7,355.9 L290.7,356.5 L291.8,357.1 L292.8,357.7 L293.8,358.2 L294.8,358.8 L295.9,359.3 L296.9,359.8 L297.9,360.2 L299.0,360.6 L300.0,360.9 L301.0,360.7 L302.0,360.4 L303.0,360.2 L304.0,359.9 L305.0,359.6 L306.0,359.2 L307.0,358.9 L308.0,358.5 L309.0,358.1 L310.0,357.7 L311.0,357.3 L312.0,357.0 L313.0,356.6 L314.0,356.2 L315.0,355.9 L316.0,355.6 L317.0,355.3 L318.0,355.0 L319.0,354.8 L320.0,354.6 L321.0,354.9 L322.0,355.4 L323.0,355.9 L324.0,356.4 L325.0,357.0 L326.0,357.6 L327.0,358.2 L328.0,358.7 L329.0,359.1 L330.0,359.5 L331.0,359.2 L332.1,358.8 L333.1,358.4 L334.1,358.0 L335.2,357.5 L336.2,357.0 L337.2,356.4 L338.3,355.9 L339.3,355.5 L340.3,355.1 L341.4,354.7 L342.4,354.4 L343.4,354.8 L344.4,355.4 L345.4,356.0 L346.4,356.6 L347.4,357.3 L348.4,358.1 L349.5,358.8 L350.5,359.5 L351.5,360.2 L352.5,360.8 L353.5,361.3 L354.5,361.7 L355.5,361.4 L356.5,361.0 L357.4,360.6 L358.4,360.1 L359.4,359.6 L360.4,359.0 L361.4,358.4 L362.3,357.8 L363.3,357.2 L364.3,356.6 L365.3,355.9 L366.3,355.3 L367.2,354.7 L368.2,354.1 L369.2,353.6 L370.2,353.1 L371.2,352.6 L372.1,352.1 L373.1,351.8 L374.1,351.4 L375.1,352.4 L376.1,353.6 L377.2,355.1 L378.2,356.6 L379.2,358.3 L380.2,360.0 L381.2,361.6 L382.3,363.1 L383.3,364.3 L384.3,365.2 L385.3,363.8 L386.3,362.0 L387.3,359.8 L388.3,357.4 L389.4,354.9 L390.4,352.6 L391.4,350.4 L392.4,348.5 L393.4,347.1 L394.4,349.5 L395.4,352.6 L396.4,356.3 L397.4,360.1 L398.4,363.8 L399.4,366.9 L400.4,369.3 L401.4,367.5 L402.3,365.2 L403.3,362.5 L404.2,359.6 L405.2,356.6 L406.2,353.9 L407.1,351.6 L408.1,349.8 L409.1,350.7 L410.2,351.9 L411.2,353.2 L412.2,354.7 L413.2,356.3 L414.3,357.9 L415.3,359.5 L416.3,361.0 L417.3,362.3 L418.4,363.4 L419.4,364.3 L420.4,363.2 L421.4,361.7 L422.4,360.0 L423.4,358.1 L424.4,356.1 L425.5,354.1 L426.5,352.1 L427.5,350.4 L428.5,348.9 L429.5,347.8 L430.5,350.3 L431.5,353.8 L432.5,357.9 L433.5,361.9 L434.5,365.4 L435.5,367.9 L436.5,366.6 L437.4,364.8 L438.4,362.7 L439.4,360.4 L440.3,358.0 L441.3,355.9 L442.2,354.1 L443.2,352.8 L444.2,353.1 L445.2,353.5 L446.2,353.9 L447.2,354.4 L448.1,354.9 L449.1,355.4 L450.1,356.0 L451.1,356.6 L452.1,357.2 L453.1,357.9 L454.1,358.5 L455.1,359.1 L456.1,359.7 L457.1,360.3 L458.1,360.8 L459.0,361.3 L460.0,361.8 L461.0,362.2 L462.0,362.6 L463.0,362.9 L464.0,362.1 L465.0,361.0 L466.0,359.8 L467.0,358.4 L468.0,356.9 L469.1,355.4 L470.1,353.9 L471.1,352.4 L472.1,351.0 L473.1,349.8 L474.1,348.7 L475.1,347.9 L476.1,351.0 L477.1,354.9 L478.1,359.4 L479.1,364.5 L480.1,369.9 L481.2,375.4 L482.2,380.9 L483.2,385.9 L484.2,390.5 L485.2,394.4 L486.2,397.5 L487.1,388.6 L488.1,377.0 L489.1,363.2 L490.0,348.4 L490.9,333.5 L491.9,319.7 L492.9,308.1 L493.8,299.3 L494.8,308.5 L495.8,320.4 L496.9,334.4 L497.9,349.9 L498.9,365.9 L499.9,381.3 L501.0,395.4 L502.0,407.3 L503.0,416.5 L504.0,407.9 L505.0,396.8 L505.9,383.7 L506.9,369.3 L507.9,354.4 L508.9,339.9 L509.8,326.8 L510.8,315.7 L511.8,307.1 L512.8,314.2 L513.7,323.2 L514.7,333.8 L515.6,345.6 L516.6,358.1 L517.6,370.5 L518.5,382.3 L519.5,392.9 L520.4,401.9 L521.4,409.0 L522.4,400.0 L523.4,388.3 L524.4,374.6 L525.4,359.4 L526.5,343.8 L527.5,328.7 L528.5,314.9 L529.5,303.3 L530.5,294.2 L531.5,303.2 L532.5,314.6 L533.5,328.1 L534.5,343.0 L535.5,358.7 L536.5,374.5 L537.5,389.4 L538.5,402.8 L539.5,414.3 L540.5,423.3 L541.5,413.9 L542.4,401.8 L543.4,387.5 L544.4,371.7 L545.3,355.5 L546.3,339.7 L547.3,325.4 L548.2,313.3 L549.2,303.9 L550.2,310.9 L551.2,319.6 L552.1,330.0 L553.1,341.5 L554.1,353.6 L555.1,365.6 L556.1,377.1 L557.0,387.5 L558.0,396.2 L559.0,403.2 L560.0,395.6 L561.0,385.9 L562.1,374.4 L563.1,361.8 L564.1,348.8 L565.1,336.1 L566.2,324.6 L567.2,314.9 L568.2,307.4 L569.2,314.8 L570.2,324.4 L571.3,335.8 L572.3,348.3 L573.3,361.2 L574.3,373.7 L575.4,385.1 L576.4,394.7 L577.4,402.1 L578.4,396.6 L579.4,389.6 L580.3,381.3 L581.3,372.1 L582.3,362.4 L583.3,352.8 L584.3,343.6 L585.2,335.3 L586.2,328.3 L587.2,322.7 L588.2,326.8 L589.1,332.0 L590.1,338.1 L591.1,344.9 L592.0,352.0 L593.0,359.1 L594.0,365.9 L595.0,372.0 L595.9,377.2 L596.9,381.3 L597.9,377.8 L599.0,373.3 L600.0,368.0 L601.0,362.2 L602.1,356.4 L603.1,351.1 L604.2,346.5 L605.2,343.1 L606.2,345.0 L607.3,347.3 L608.3,350.0 L609.4,353.1 L610.4,356.3 L611.5,359.7 L612.5,363.1 L613.5,366.4 L614.6,369.4 L615.6,372.1 L616.7,374.4 L617.7,376.3 L618.7,374.3 L619.7,371.7 L620.7,368.7 L621.6,365.4 L622.6,361.8 L623.6,358.1 L624.6,354.4 L625.6,350.9 L626.5,347.5 L627.5,344.6 L628.5,342.0 L629.5,340.0 L630.5,343.1 L631.5,347.1 L632.5,351.8 L633.5,357.1 L634.5,362.6 L635.5,368.1 L636.5,373.4 L637.5,378.1 L638.5,382.1 L639.5,385.2 L640.6,379.0 L641.6,370.6 L642.7,360.7 L643.7,350.4 L644.8,340.5 L645.8,332.1 L646.9,325.9 L647.9,331.2 L648.8,337.9 L649.8,345.7 L650.7,354.5 L651.7,363.7 L652.7,372.9 L653.6,381.7 L654.6,389.6 L655.5,396.3 L656.5,401.6 L657.5,394.3 L658.5,385.0 L659.6,374.0 L660.6,361.8 L661.6,349.3 L662.6,337.2 L663.7,326.1 L664.7,316.8 L665.7,309.6 L666.7,316.9 L667.7,326.2 L668.6,337.3 L669.6,349.5 L670.6,362.1 L671.6,374.3 L672.5,385.3 L673.5,394.7 L674.5,402.0 L675.5,395.1 L676.4,386.3 L677.4,375.9 L678.4,364.4 L679.3,352.6 L680.3,341.1 L681.3,330.6 L682.2,321.8 L683.2,315.0 L684.2,321.4 L685.2,329.7 L686.2,339.5 L687.2,350.3 L688.3,361.4 L689.3,372.2 L690.3,382.0 L691.3,390.2 L692.3,396.7 L693.3,390.3 L694.3,382.0 L695.4,372.1 L696.4,361.5 L697.4,350.8 L698.5,341.0 L699.5,332.6 L700.5,326.3 L701.5,329.5 L702.4,333.5 L703.4,338.3 L704.4,343.6 L705.3,349.2 L706.3,355.0 L707.2,360.6 L708.2,365.9 L709.2,370.6 L710.1,374.7 L711.1,377.9 L712.1,375.3 L713.1,372.0 L714.1,368.1 L715.1,363.8 L716.1,359.3 L717.2,354.6 L718.2,350.0 L719.2,345.7 L720.2,341.8 L721.2,338.5 L722.2,335.9 L723.2,339.6 L724.3,344.3 L725.3,349.9 L726.3,356.1 L727.4,362.4 L728.4,368.6 L729.4,374.2 L730.5,378.9 L731.5,382.6 L732.5,379.4 L733.4,375.5 L734.4,370.8 L735.4,365.7 L736.3,360.2 L737.3,354.5 L738.2,349.0 L739.2,343.9 L740.2,339.2 L741.1,335.3 L742.1,332.1 L743.1,337.1 L744.1,343.6 L745.1,351.3 L746.1,359.7 L747.1,368.0 L748.1,375.7 L749.1,382.2 L750.1,387.2 L751.2,381.9 L752.2,374.9 L753.3,366.6 L754.4,357.7 L755.4,348.7 L756.5,340.5 L757.5,333.5 L758.6,328.1 L759.6,333.1 L760.6,339.6 L761.7,347.3 L762.7,355.7 L763.7,364.0 L764.8,371.7 L765.8,378.3 L766.8,383.2 L767.9,379.5 L768.9,374.6 L770.0,368.8 L771.0,362.5 L772.1,356.2 L773.2,350.3 L774.2,345.4 L775.3,341.7 L776.3,343.2 L777.3,345.1 L778.3,347.4 L779.3,349.9 L780.3,352.6 L781.2,355.4 L782.2,358.1 L783.2,360.8 L784.2,363.3 L785.2,365.6 L786.2,367.5 L787.2,369.0 L788.2,367.6 L789.1,365.9 L790.1,363.9 L791.1,361.6 L792.0,359.2 L793.0,356.7 L793.9,354.3 L794.9,352.0 L795.9,350.0 L796.8,348.3 L797.8,346.9 L798.8,349.3 L799.8,352.7 L800.8,356.5 L801.9,360.3 L802.9,363.7 L803.9,366.1 L804.9,364.8 L806.0,363.0 L807.0,361.0 L808.0,358.8 L809.0,356.7 L810.1,355.0 L811.1,353.6 L812.1,354.4 L813.1,355.3 L814.1,356.3 L815.1,357.5 L816.0,358.7 L817.0,359.9 L818.0,361.0 L819.0,361.9 L820.0,362.6 L821.0,362.1 L822.0,361.3 L823.0,360.4 L824.0,359.4 L825.0,358.5 L826.0,357.6 L827.0,356.8 L828.0,356.3 L829.0,357.4 L830.1,359.0 L831.1,360.8 L832.2,362.7 L833.2,364.2 L834.3,365.4 L835.3,363.2 L836.4,360.3 L837.5,356.9 L838.5,353.5 L839.5,350.5 L840.6,348.4 L841.6,350.0 L842.6,352.1 L843.6,354.5 L844.6,357.2 L845.6,360.0 L846.6,362.9 L847.6,365.6 L848.6,368.0 L849.6,370.1 L850.6,371.7 L851.7,368.3 L852.7,363.9 L853.8,358.6 L854.8,353.0 L855.9,347.7 L856.9,343.2 L858.0,339.9 L859.0,342.6 L860.0,346.2 L861.0,350.4 L862.0,355.0 L863.0,359.5 L864.0,363.8 L865.0,367.3 L866.0,370.0 L867.0,368.2 L868.1,365.8 L869.1,362.9 L870.1,359.8 L871.2,356.6 L872.2,353.8 L873.3,351.3 L874.3,349.5 L875.2,351.3 L876.1,353.8 L877.0,356.6 L878.0,359.5 L878.9,362.0 L879.8,363.8 L880.8,362.8 L881.7,361.6 L882.7,360.1 L883.7,358.6 L884.7,357.2 L885.6,355.9 L886.6,355.0 L887.6,356.0 L888.7,357.4 L889.7,359.1 L890.8,360.9 L891.8,362.7 L892.8,364.3 L893.9,365.7 L894.9,366.8 L895.9,365.7 L897.0,364.3 L898.0,362.8 L899.0,361.0 L900.0,359.1 L901.0,357.2 L902.1,355.2 L903.1,353.3 L904.1,351.6 L905.2,350.0 L906.2,348.7 L907.2,347.6 L908.2,350.1 L909.3,353.4 L910.3,357.4 L911.3,361.5 L912.3,365.5 L913.4,368.8 L914.4,371.3 L915.4,369.5 L916.4,367.1 L917.4,364.3 L918.4,361.2 L919.5,358.0 L920.5,354.9 L921.5,352.1 L922.5,349.7 L923.5,347.8 L924.5,349.6 L925.4,351.8 L926.4,354.4 L927.3,357.3 L928.2,360.3 L929.2,363.3 L930.1,366.2 L931.1,368.8 L932.0,371.0 L933.0,372.8 L934.0,370.2 L935.0,366.9 L936.0,363.1 L937.0,358.8 L938.0,354.2 L938.9,349.7 L939.9,345.4 L940.9,341.6 L941.9,338.3 L942.9,335.7 L943.9,339.7 L945.0,344.9 L946.0,351.1 L947.0,357.8 L948.1,364.8 L949.1,371.6 L950.1,377.7 L951.2,383.0 L952.2,387.0 L953.2,382.4 L954.1,376.4 L955.1,369.3 L956.0,361.6 L957.0,353.6 L957.9,345.8 L958.9,338.7 L959.8,332.8 L960.8,328.1 L961.8,332.1 L962.8,337.1 L963.8,343.1 L964.8,349.7 L965.8,356.6 L966.7,363.5 L967.7,370.1 L968.7,376.1 L969.7,381.1 L970.7,385.1 L971.7,381.4 L972.7,376.8 L973.7,371.4 L974.7,365.3 L975.7,358.9 L976.7,352.6 L977.7,346.5 L978.7,341.1 L979.7,336.4 L980.7,332.8 L981.7,336.3 L982.7,340.7 L983.6,345.9 L984.6,351.6 L985.6,357.7 L986.6,363.8 L987.6,369.5 L988.5,374.7 L989.5,379.1 L990.5,382.6 L991.6,378.2 L992.6,372.3 L993.7,365.4 L994.8,357.9 L995.8,350.3 L996.9,343.4 L997.9,337.5 L999.0,333.1 L1000.0,336.7 L1000.9,341.2 L1001.9,346.6 L1002.8,352.5 L1003.8,358.8 L1004.7,365.1 L1005.6,371.0 L1006.6,376.4 L1007.5,380.9 L1008.5,384.5 L1009.5,380.4 L1010.5,375.0 L1011.5,368.6 L1012.5,361.6 L1013.4,354.4 L1014.4,347.4 L1015.4,341.0 L1016.4,335.6 L1017.4,331.4 L1018.4,335.1 L1019.3,339.7 L1020.3,345.2 L1021.2,351.3 L1022.2,357.7 L1023.2,364.1 L1024.1,370.2 L1025.1,375.7 L1026.0,380.3 L1027.0,384.0 L1028.0,379.5 L1029.1,373.7 L1030.2,366.8 L1031.2,359.3 L1032.2,351.9 L1033.3,345.0 L1034.4,339.1 L1035.4,334.7 L1036.4,338.1 L1037.4,342.5 L1038.4,347.7 L1039.4,353.4 L1040.5,359.3 L1041.5,365.0 L1042.5,370.2 L1043.5,374.6 L1044.5,378.0 L1045.5,375.3 L1046.4,371.9 L1047.3,367.9 L1048.3,363.5 L1049.2,358.8 L1050.2,354.1 L1051.2,349.7 L1052.1,345.7 L1053.0,342.3 L1054.0,339.6 L1055.0,342.0 L1056.0,345.1 L1056.9,348.7 L1057.9,352.7 L1058.9,356.9 L1059.9,361.1 L1060.9,365.1 L1061.8,368.7 L1062.8,371.7 L1063.8,374.2 L1064.8,372.0 L1065.8,369.2 L1066.9,366.0 L1067.9,362.4 L1068.9,358.6 L1069.9,354.8 L1070.9,351.2 L1072.0,347.9 L1073.0,345.2 L1074.0,343.0 L1075.0,345.7 L1076.0,349.3 L1077.0,353.6 L1078.0,358.2 L1079.1,362.8 L1080.1,367.0 L1081.1,370.6 L1082.1,373.3 L1083.1,371.1 L1084.0,368.3 L1085.0,364.9 L1085.9,361.3 L1086.9,357.4 L1087.8,353.8 L1088.8,350.4 L1089.7,347.6 L1090.7,345.4 L1091.7,347.8 L1092.6,351.2 L1093.6,355.1 L1094.5,359.0 L1095.5,362.4 L1096.4,364.9 L1097.4,363.6 L1098.5,361.9 L1099.5,359.9 L1100.6,357.8 L1101.6,355.7 L1102.7,354.0 L1103.7,352.8 L1104.8,354.1 L1105.8,356.0 L1106.8,358.2 L1107.9,360.3 L1109.0,362.2 L1110.0,363.6 L1110.9,361.7 L1111.9,359.2 L1112.8,356.3 L1113.8,353.8 L1114.7,351.9 L1115.7,353.4 L1116.7,355.4 L1117.7,357.7 L1118.7,360.2 L1119.6,362.7 L1120.6,365.0 L1121.6,366.9 L1122.6,368.4 L1123.6,366.4 L1124.5,363.7 L1125.5,360.6 L1126.4,357.3 L1127.4,354.2 L1128.3,351.5 L1129.3,349.5 L1130.3,351.0 L1131.4,353.0 L1132.4,355.4 L1133.4,358.0 L1134.5,360.6 L1135.5,363.0 L1136.6,365.0 L1137.6,366.5 L1138.6,364.5 L1139.7,361.8 L1140.8,358.7 L1141.8,355.5 L1142.9,352.8 L1143.9,350.8 L1144.9,351.7 L1145.8,352.8 L1146.8,354.1 L1147.7,355.5 L1148.7,357.0 L1149.7,358.5 L1150.6,360.0 L1151.6,361.3 L1152.5,362.4 L1153.5,363.2 L1154.6,362.4 L1155.6,361.3 L1156.7,360.0 L1157.8,358.6 L1158.8,357.2 L1159.9,356.0 L1160.9,354.9 L1162.0,354.0 L1163.0,354.8 L1164.0,355.8 L1165.0,357.0 L1166.0,358.1 L1167.0,358.8 L1168.0,357.4 L1169.0,355.5 L1170.0,353.6 L1171.0,352.2 L1171.9,354.2 L1172.8,357.0 L1173.8,360.2 L1174.7,363.4 L1175.6,366.1 L1176.5,368.1 L1177.5,366.6 L1178.4,364.6 L1179.4,362.3 L1180.3,359.7 L1181.3,357.0 L1182.3,354.3 L1183.2,351.7 L1184.2,349.4 L1185.1,347.5 L1186.1,345.9 L1187.1,347.8 L1188.1,350.2 L1189.1,353.0 L1190.1,356.1 L1191.0,359.3 L1192.0,362.4 L1193.0,365.3 L1194.0,367.6 L1195.0,369.5 L1196.0,367.8 L1197.1,365.6 L1198.1,363.1 L1199.1,360.3 L1200.2,357.3 L1201.2,354.3 L1202.2,351.5 L1203.2,348.9 L1204.3,346.8 L1205.3,345.1 L1206.3,347.3 L1207.2,350.2 L1208.2,353.6 L1209.1,357.4 L1210.1,361.3 L1211.0,365.1 L1212.0,368.5 L1212.9,371.4 L1213.9,373.6 L1214.9,371.2 L1216.0,368.0 L1217.0,364.3 L1218.1,360.1 L1219.1,355.9 L1220.2,351.8 L1221.2,348.1 L1222.3,344.9 L1223.3,342.4 L1224.3,344.7 L1225.3,347.7 L1226.4,351.2 L1227.4,355.0 L1228.4,359.0 L1229.4,362.8 L1230.5,366.3 L1231.5,369.3 L1232.5,371.5 L1233.5,369.4 L1234.5,366.7 L1235.5,363.4 L1236.5,359.8 L1237.6,356.1 L1238.6,352.5 L1239.6,349.3 L1240.6,346.5 L1241.6,344.4 L1242.6,346.3 L1243.7,348.6 L1244.7,351.4 L1245.7,354.6 L1246.8,357.8 L1247.8,361.1 L1248.8,364.2 L1249.8,367.0 L1250.9,369.4 L1251.9,371.3 L1252.8,369.0 L1253.8,366.1 L1254.7,362.6 L1255.7,358.8 L1256.6,355.0 L1257.5,351.5 L1258.5,348.6 L1259.4,346.3 L1260.4,347.9 L1261.3,349.9 L1262.3,352.2 L1263.2,354.8 L1264.2,357.5 L1265.2,360.2 L1266.1,362.8 L1267.1,365.1 L1268.0,367.1 L1269.0,368.6 L1270.0,366.9 L1271.0,364.8 L1272.0,362.2 L1273.0,359.4 L1274.1,356.5 L1275.1,353.7 L1276.1,351.1 L1277.1,349.0 L1278.1,347.3 L1279.1,349.0 L1280.1,351.3 L1281.1,353.9 L1282.1,356.9 L1283.2,359.9 L1284.2,362.8 L1285.2,365.5 L1286.2,367.8 L1287.2,369.5 L1288.2,368.0 L1289.1,366.2 L1290.1,364.0 L1291.0,361.5 L1292.0,359.0 L1293.0,356.4 L1293.9,353.9 L1294.9,351.7 L1295.8,349.9 L1296.8,348.4 L1297.8,349.7 L1298.8,351.3 L1299.7,353.2 L1300.7,355.4 L1301.7,357.6 L1302.7,359.9 L1303.7,362.0 L1304.6,363.9 L1305.6,365.5 L1306.6,366.8 L1307.6,365.6 L1308.6,363.9 L1309.6,362.0 L1310.6,359.9 L1311.5,357.7 L1312.5,355.4 L1313.5,353.3 L1314.5,351.4 L1315.5,349.8 L1316.5,348.5 L1317.5,349.8 L1318.5,351.5 L1319.5,353.5 L1320.5,355.7 L1321.5,358.0 L1322.6,360.4 L1323.6,362.6 L1324.6,364.6 L1325.6,366.3 L1326.6,367.6 L1327.5,366.3 L1328.5,364.7 L1329.4,362.8 L1330.4,360.6 L1331.3,358.4 L1332.3,356.1 L1333.2,354.0 L1334.2,352.1 L1335.1,350.4 L1336.1,349.2 L1337.1,350.6 L1338.0,352.5 L1339.0,354.8 L1340.0,357.3 L1340.9,359.8 L1341.9,362.3 L1342.9,364.6 L1343.8,366.5 L1344.8,367.9 L1345.8,366.6 L1346.7,364.8 L1347.7,362.7 L1348.7,360.4 L1349.6,358.0 L1350.6,355.7 L1351.6,353.6 L1352.5,351.9 L1353.5,350.5 L1354.5,351.5 L1355.4,352.7 L1356.4,354.1 L1357.4,355.7 L1358.4,357.5 L1359.3,359.2 L1360.3,360.9 L1361.3,362.5 L1362.3,364.0 L1363.2,365.2 L1364.2,366.2 L1365.2,364.9 L1366.1,363.4 L1367.1,361.5 L1368.1,359.5 L1369.0,357.3 L1370.0,355.3 L1371.0,353.4 L1371.9,351.8 L1372.9,350.6 L1373.9,351.7 L1374.9,353.1 L1375.9,354.8 L1376.9,356.7 L1378.0,358.6 L1379.0,360.4 L1380.0,362.1 L1381.0,363.5 L1382.0,364.6 L1383.1,363.3 L1384.1,361.6 L1385.2,359.6 L1386.2,357.4 L1387.3,355.3 L1388.4,353.3 L1389.4,351.6 L1390.5,350.3 L1391.5,351.8 L1392.6,353.9 L1393.7,356.3 L1394.7,358.9 L1395.8,361.5 L1396.8,363.9 L1397.9,365.9 L1398.9,367.5 L1400.0,366.1 L1401.0,364.3 L1402.0,362.2 L1403.1,359.9 L1404.2,357.6 L1405.2,355.5 L1406.2,353.7 L1407.3,352.3 L1408.4,353.5 L1409.4,355.1 L1410.5,357.1 L1411.5,359.1 L1412.6,361.2 L1413.7,363.1 L1414.7,364.8 L1415.8,366.0 L1416.8,365.0 L1417.9,363.8 L1419.0,362.3 L1420.0,360.7 L1421.0,359.0 L1422.1,357.3 L1423.1,355.6 L1424.2,354.2 L1425.2,352.9 L1426.3,351.9 L1427.3,353.4 L1428.4,355.4 L1429.5,357.7 L1430.5,360.1 L1431.5,362.6 L1432.6,364.9 L1433.7,366.9 L1434.7,368.4 L1435.8,366.7 L1436.8,364.6 L1437.9,362.1 L1439.0,359.3 L1440.0,356.6 L1441.1,354.0 L1442.1,351.9 L1443.2,350.3 L1444.2,351.9 L1445.3,353.9 L1446.3,356.3 L1447.4,359.0 L1448.4,361.7 L1449.5,364.3 L1450.5,366.7 L1451.6,368.8 L1452.6,370.4 L1453.6,368.7 L1454.6,366.7 L1455.6,364.2 L1456.6,361.5 L1457.7,358.6 L1458.7,355.8 L1459.7,353.1 L1460.7,350.6 L1461.7,348.5 L1462.7,346.9 L1463.7,348.6 L1464.7,350.8 L1465.7,353.3 L1466.7,356.2 L1467.6,359.1 L1468.6,361.9 L1469.6,364.5 L1470.6,366.7 L1471.6,368.4 L1472.6,366.7 L1473.7,364.4 L1474.8,361.8 L1475.8,359.0 L1476.8,356.1 L1477.9,353.5 L1479.0,351.3 L1480.0,349.6 L1481.0,350.7 L1481.9,352.1 L1482.8,353.8 L1483.8,355.7 L1484.8,357.6 L1485.7,359.6 L1486.7,361.5 L1487.6,363.1 L1488.5,364.6 L1489.5,365.7 L1490.5,364.8 L1491.6,363.6 L1492.7,362.3 L1493.7,360.7 L1494.8,359.1 L1495.8,357.5 L1496.8,356.0 L1497.9,354.7 L1499.0,353.5 L1500.0,352.6 L1501.1,353.9 L1502.1,355.7 L1503.2,357.7 L1504.2,359.9 L1505.3,362.0 L1506.3,363.7 L1507.4,365.0 L1508.4,364.1 L1509.5,362.9 L1510.5,361.5 L1511.6,359.9 L1512.6,358.3 L1513.7,356.8 L1514.7,355.4 L1515.8,354.2 L1516.8,353.3 L1517.8,353.9 L1518.7,354.8 L1519.6,355.7 L1520.6,356.8 L1521.5,358.0 L1522.5,359.1 L1523.5,360.2 L1524.4,361.2 L1525.3,362.0 L1526.3,362.7 L1527.4,361.6 L1528.4,360.1 L1529.5,358.5 L1530.5,357.0 L1531.6,355.9 L1532.6,356.7 L1533.7,357.8 L1534.8,359.0 L1535.8,360.2 L1536.9,361.2 L1537.9,362.0 L1538.9,361.0 L1539.9,359.6 L1541.0,358.0 L1542.0,356.6 L1543.0,355.6 L1544.1,356.2 L1545.1,357.1 L1546.2,358.0 L1547.2,359.0 L1548.3,360.0 L1549.3,360.8 L1550.4,361.4 L1551.4,361.0 L1552.4,360.5 L1553.3,359.9 L1554.3,359.2 L1555.3,358.5 L1556.3,357.8 L1557.3,357.1 L1558.3,356.4 L1559.2,355.8 L1560.2,355.3 L1561.2,354.9 L1562.2,355.3 L1563.2,355.9 L1564.1,356.7 L1565.1,357.4 L1566.1,358.3 L1567.1,359.1 L1568.1,359.9 L1569.0,360.6 L1570.0,361.2 L1571.0,361.7 L1572.0,360.8 L1573.1,359.5 L1574.1,358.1 L1575.1,356.5 L1576.1,355.0 L1577.2,353.8 L1578.2,352.9 L1579.2,353.6 L1580.2,354.5 L1581.2,355.6 L1582.2,356.7 L1583.2,358.0 L1584.1,359.2 L1585.1,360.4 L1586.1,361.5 L1587.1,362.4 L1588.1,363.1 L1589.1,361.9 L1590.2,360.2 L1591.2,358.3 L1592.3,356.3 L1593.4,354.7 L1594.4,353.4 L1595.4,354.3 L1596.4,355.4 L1597.4,356.8 L1598.4,358.2 L1599.3,359.8 L1600.3,361.2 L1601.3,362.6 L1602.3,363.7 L1603.3,364.6 L1604.3,363.6 L1605.3,362.4 L1606.3,360.9 L1607.3,359.3 L1608.3,357.6 L1609.3,356.0 L1610.3,354.5 L1611.3,353.2 L1612.3,352.3 L1613.3,353.3 L1614.3,354.7 L1615.3,356.3 L1616.3,358.1 L1617.3,359.9 L1618.3,361.7 L1619.3,363.3 L1620.3,364.7 L1621.3,365.7 L1622.3,364.6 L1623.3,363.1 L1624.3,361.4 L1625.3,359.5 L1626.3,357.6 L1627.3,355.7 L1628.3,354.0 L1629.3,352.5 L1630.3,351.4 L1631.3,352.7 L1632.4,354.5 L1633.4,356.5 L1634.4,358.6 L1635.4,360.7 L1636.5,362.4 L1637.5,363.7 L1638.5,363.0 L1639.6,362.1 L1640.6,361.0 L1641.6,359.8 L1642.6,358.5 L1643.7,357.2 L1644.7,355.9 L1645.7,354.7 L1646.7,353.6 L1647.8,352.7 L1648.8,352.0 L1649.8,353.0 L1650.9,354.3 L1652.0,355.9 L1653.0,357.6 L1654.0,359.3 L1655.1,360.8 L1656.2,362.1 L1657.2,363.1 L1658.2,362.1 L1659.3,360.8 L1660.3,359.2 L1661.3,357.6 L1662.3,356.0 L1663.4,354.7 L1664.4,353.7 L1665.4,354.3 L1666.4,355.1 L1667.4,356.1 L1668.5,357.1 L1669.5,358.2 L1670.5,359.1 L1671.5,359.9 L1672.5,360.6 L1673.5,360.3 L1674.5,359.9 L1675.5,359.5 L1676.5,359.0 L1677.4,358.5 L1678.4,358.0 L1679.4,357.5 L1680.4,357.2 L1681.4,356.9 L1682.3,357.2 L1683.3,357.5 L1684.2,358.0 L1685.1,358.4 L1686.1,358.8 L1687.0,359.1" stroke="#7d5eab"/><path d="M138.0,354.0 L139.0,354.3 L140.0,354.8 L141.0,355.3 L142.0,355.8 L143.0,356.4 L144.0,357.0 L145.0,357.6 L146.0,358.2 L147.0,358.7 L148.0,359.2 L149.0,359.7 L150.0,360.0 L151.0,359.8 L152.0,359.5 L153.0,359.2 L154.0,358.9 L155.0,358.5 L156.0,358.1 L157.0,357.7 L158.0,357.3 L159.0,356.9 L160.0,356.5 L161.0,356.1 L162.0,355.8 L163.0,355.5 L164.0,355.2 L165.0,355.0 L166.0,355.3 L167.0,355.7 L168.0,356.1 L169.0,356.6 L170.0,357.1 L171.0,357.6 L172.0,358.2 L173.0,358.8 L174.0,359.4 L175.0,359.9 L176.0,360.4 L177.0,360.9 L178.0,361.3 L179.0,361.7 L180.0,362.0 L181.0,361.7 L182.0,361.4 L183.0,361.0 L184.0,360.6 L185.0,360.1 L186.0,359.6 L187.0,359.1 L188.0,358.6 L189.0,358.1 L190.0,357.5 L191.0,356.9 L192.0,356.4 L193.0,355.9 L194.0,355.4 L195.0,354.9 L196.0,354.4 L197.0,354.0 L198.0,353.6 L199.0,353.3 L200.0,353.0 L201.0,353.3 L202.0,353.6 L203.0,353.9 L204.0,354.3 L205.0,354.7 L206.0,355.1 L207.0,355.5 L208.0,356.0 L209.0,356.5 L210.0,357.0 L211.0,357.5 L212.0,358.0 L213.0,358.5 L214.0,359.0 L215.0,359.5 L216.0,359.9 L217.0,360.3 L218.0,360.7 L219.0,361.1 L220.0,361.4 L221.0,361.7 L222.0,362.0 L223.0,361.7 L224.0,361.4 L224.9,361.1 L225.9,360.7 L226.9,360.3 L227.9,359.9 L228.9,359.4 L229.8,358.9 L230.8,358.4 L231.8,357.9 L232.8,357.4 L233.8,356.9 L234.8,356.4 L235.7,355.8 L236.7,355.3 L237.7,354.8 L238.7,354.3 L239.7,353.8 L240.6,353.3 L241.6,352.8 L242.6,352.4 L243.6,352.0 L244.6,351.6 L245.5,351.3 L246.5,351.0 L247.5,350.7 L248.5,351.2 L249.6,351.7 L250.6,352.3 L251.6,353.0 L252.6,353.7 L253.7,354.4 L254.7,355.3 L255.7,356.1 L256.8,356.9 L257.8,357.8 L258.8,358.6 L259.8,359.4 L260.9,360.2 L261.9,360.9 L262.9,361.6 L263.9,362.2 L265.0,362.7 L266.0,363.2 L267.0,362.8 L267.9,362.3 L268.9,361.7 L269.9,361.0 L270.9,360.3 L271.8,359.6 L272.8,358.8 L273.8,358.0 L274.8,357.2 L275.7,356.4 L276.7,355.6 L277.7,354.8 L278.6,354.1 L279.6,353.4 L280.6,352.7 L281.6,352.1 L282.5,351.6 L283.5,351.2 L284.5,351.6 L285.6,352.2 L286.6,352.8 L287.6,353.5 L288.7,354.2 L289.7,355.0 L290.7,355.8 L291.8,356.6 L292.8,357.4 L293.8,358.2 L294.8,359.0 L295.9,359.7 L296.9,360.4 L297.9,361.0 L299.0,361.6 L300.0,362.0 L301.0,361.7 L302.0,361.4 L303.0,361.0 L304.0,360.6 L305.0,360.1 L306.0,359.6 L307.0,359.1 L308.0,358.6 L309.0,358.1 L310.0,357.5 L311.0,356.9 L312.0,356.4 L313.0,355.9 L314.0,355.4 L315.0,354.9 L316.0,354.4 L317.0,354.0 L318.0,353.6 L319.0,353.3 L320.0,353.0 L321.0,353.5 L322.0,354.1 L323.0,354.8 L324.0,355.6 L325.0,356.5 L326.0,357.4 L327.0,358.2 L328.0,358.9 L329.0,359.5 L330.0,360.0 L331.0,359.6 L332.1,359.1 L333.1,358.5 L334.1,357.8 L335.2,357.1 L336.2,356.4 L337.2,355.7 L338.3,355.0 L339.3,354.3 L340.3,353.7 L341.4,353.2 L342.4,352.8 L343.4,353.4 L344.4,354.1 L345.4,355.0 L346.4,355.9 L347.4,356.9 L348.4,358.0 L349.5,359.1 L350.5,360.1 L351.5,361.0 L352.5,361.9 L353.5,362.6 L354.5,363.2 L355.5,362.7 L356.5,362.2 L357.4,361.6 L358.4,360.9 L359.4,360.1 L360.4,359.3 L361.4,358.5 L362.3,357.6 L363.3,356.8 L364.3,355.9 L365.3,354.9 L366.3,354.1 L367.2,353.2 L368.2,352.4 L369.2,351.6 L370.2,350.8 L371.2,350.1 L372.1,349.5 L373.1,349.0 L374.1,348.5 L375.1,350.4 L376.1,352.9 L377.2,355.9 L378.2,359.1 L379.2,362.5 L380.2,365.7 L381.3,368.7 L382.3,371.1 L383.3,373.1 L384.3,370.1 L385.3,366.2 L386.3,361.5 L387.3,356.5 L388.4,351.2 L389.4,346.2 L390.4,341.6 L391.4,337.7 L392.4,334.6 L393.4,339.6 L394.4,346.2 L395.4,354.0 L396.4,362.3 L397.4,370.1 L398.4,376.7 L399.4,381.7 L400.4,377.9 L401.3,373.0 L402.3,367.3 L403.2,361.0 L404.2,354.8 L405.2,349.0 L406.1,344.1 L407.1,340.4 L408.1,342.3 L409.2,344.7 L410.2,347.5 L411.2,350.7 L412.2,354.1 L413.3,357.5 L414.3,360.9 L415.3,364.0 L416.3,366.8 L417.4,369.3 L418.4,371.2 L419.4,368.7 L420.4,365.6 L421.4,362.0 L422.4,357.9 L423.4,353.6 L424.5,349.3 L425.5,345.3 L426.5,341.6 L427.5,338.5 L428.5,336.1 L429.5,341.5 L430.5,348.9 L431.5,357.4 L432.5,366.0 L433.5,373.4 L434.5,378.8 L435.5,375.9 L436.4,372.1 L437.4,367.6 L438.4,362.7 L439.3,357.8 L440.3,353.3 L441.2,349.5 L442.2,346.6 L443.2,347.5 L444.2,348.5 L445.3,349.7 L446.3,350.9 L447.3,352.3 L448.3,353.8 L449.3,355.3 L450.4,357.0 L451.4,358.6 L452.4,360.3 L453.4,362.0 L454.4,363.6 L455.5,365.3 L456.5,366.8 L457.5,368.3 L458.5,369.7 L459.5,370.9 L460.6,372.1 L461.6,373.1 L462.6,374.0 L463.6,370.5 L464.6,365.9 L465.5,360.4 L466.5,354.6 L467.5,348.7 L468.4,343.2 L469.4,338.6 L470.4,335.1 L471.4,344.6 L472.5,356.6 L473.5,370.6 L474.5,386.2 L475.6,402.8 L476.6,419.8 L477.7,436.4 L478.7,452.0 L479.7,466.0 L480.8,478.0 L481.8,487.5 L482.8,461.8 L483.7,427.5 L484.7,387.1 L485.6,344.6 L486.6,304.2 L487.5,269.9 L488.5,244.2 L489.5,252.2 L490.4,262.1 L491.4,273.6 L492.3,286.4 L493.3,300.3 L494.2,314.6 L495.2,328.9 L496.2,342.8 L497.1,355.6 L498.1,367.1 L499.0,377.0 L500.0,385.0 L501.0,381.5 L502.0,377.3 L503.0,372.3 L504.0,366.7 L505.0,360.7 L506.0,354.5 L507.0,348.3 L508.0,342.3 L509.0,336.7 L510.0,331.7 L511.0,327.5 L512.0,324.0 L513.0,331.2 L514.0,340.6 L515.0,351.6 L516.0,363.7 L517.0,376.3 L518.0,388.4 L519.0,399.4 L520.0,408.8 L521.0,416.0 L522.0,399.4 L522.9,377.1 L523.9,351.0 L524.9,323.4 L525.9,297.3 L526.8,275.0 L527.8,258.4 L528.8,267.6 L529.8,278.9 L530.7,291.9 L531.7,306.5 L532.7,322.3 L533.7,338.8 L534.6,355.6 L535.6,372.1 L536.6,387.9 L537.6,402.5 L538.5,415.5 L539.5,426.8 L540.5,436.0 L541.5,425.5 L542.4,412.4 L543.4,397.0 L544.4,379.8 L545.4,361.5 L546.3,342.8 L547.3,324.5 L548.3,307.3 L549.3,291.9 L550.2,278.8 L551.2,268.3 L552.2,287.5 L553.1,313.8 L554.1,344.1 L555.1,374.5 L556.0,400.8 L557.0,420.0 L558.0,407.0 L559.1,389.2 L560.1,368.7 L561.1,348.2 L562.2,330.4 L563.2,317.4 L564.2,321.8 L565.2,327.2 L566.2,333.3 L567.3,340.2 L568.3,347.7 L569.3,355.6 L570.3,363.7 L571.3,371.8 L572.3,379.7 L573.3,387.2 L574.4,394.1 L575.4,400.2 L576.4,405.6 L577.4,410.0 L578.4,404.0 L579.4,396.7 L580.4,388.2 L581.5,378.7 L582.5,368.4 L583.5,357.7 L584.5,346.8 L585.5,336.1 L586.5,325.8 L587.6,316.3 L588.6,307.8 L589.6,300.5 L590.6,294.5 L591.6,300.4 L592.5,307.7 L593.5,316.3 L594.5,325.8 L595.4,336.0 L596.4,346.5 L597.3,356.7 L598.3,366.2 L599.3,374.8 L600.2,382.1 L601.2,388.0 L602.2,380.6 L603.2,370.7 L604.2,359.0 L605.3,346.8 L606.3,335.1 L607.3,325.2 L608.3,317.8 L609.3,325.1 L610.3,334.4 L611.2,345.4 L612.2,357.6 L613.2,370.4 L614.2,383.2 L615.2,395.4 L616.1,406.4 L617.1,415.7 L618.1,423.0 L619.1,414.8 L620.1,404.3 L621.0,392.0 L622.0,378.4 L623.0,364.0 L624.0,349.6 L625.0,336.0 L625.9,323.7 L626.9,313.2 L627.9,305.0 L628.9,313.8 L629.9,325.5 L630.9,339.2 L632.0,353.8 L633.0,367.5 L634.0,379.2 L635.0,388.0 L636.0,380.7 L637.0,371.0 L638.0,359.5 L639.0,347.5 L640.0,336.0 L641.0,326.3 L642.0,319.0 L643.0,326.5 L644.1,336.1 L645.1,347.3 L646.2,359.8 L647.2,373.0 L648.3,386.2 L649.4,398.7 L650.4,409.9 L651.5,419.5 L652.5,427.0 L653.5,420.4 L654.5,412.4 L655.5,403.0 L656.4,392.6 L657.4,381.3 L658.4,369.5 L659.4,357.5 L660.4,345.7 L661.4,334.4 L662.3,324.0 L663.3,314.6 L664.3,306.6 L665.3,300.0 L666.3,306.9 L667.3,315.7 L668.3,326.1 L669.3,337.6 L670.2,349.6 L671.2,361.7 L672.2,373.2 L673.2,383.6 L674.2,392.4 L675.2,399.3 L676.2,396.6 L677.2,393.5 L678.2,389.9 L679.2,385.9 L680.2,381.5 L681.2,376.9 L682.2,372.1 L683.2,367.1 L684.3,362.2 L685.3,357.4 L686.3,352.8 L687.3,348.4 L688.3,344.4 L689.3,340.8 L690.3,337.7 L691.3,335.0 L692.3,342.0 L693.3,351.6 L694.3,362.7 L695.4,373.8 L696.4,383.4 L697.4,390.4 L698.5,378.7 L699.5,363.0 L700.6,344.6 L701.6,325.1 L702.7,306.7 L703.7,291.0 L704.8,279.3 L705.8,299.4 L706.8,326.9 L707.8,358.6 L708.8,390.2 L709.8,417.7 L710.8,437.8 L711.8,427.5 L712.8,414.3 L713.7,398.7 L714.7,381.5 L715.7,363.7 L716.7,346.5 L717.6,330.9 L718.6,317.7 L719.6,307.4 L720.6,313.5 L721.6,321.3 L722.6,330.5 L723.6,340.7 L724.5,351.2 L725.5,361.4 L726.5,370.6 L727.5,378.4 L728.5,384.5 L729.5,378.9 L730.6,371.8 L731.6,363.5 L732.7,354.2 L733.7,344.5 L734.7,334.8 L735.8,325.5 L736.8,317.2 L737.9,310.1 L738.9,304.5 L739.9,314.6 L740.9,328.5 L741.8,344.5 L742.8,360.5 L743.8,374.4 L744.8,384.5 L745.8,381.8 L746.8,378.7 L747.8,375.1 L748.8,371.0 L749.9,366.7 L750.9,362.0 L751.9,357.2 L752.9,352.2 L753.9,347.3 L754.9,342.5 L755.9,337.8 L757.0,333.5 L758.0,329.4 L759.0,325.8 L760.0,322.7 L761.0,320.0 L762.0,325.8 L763.1,333.2 L764.1,342.0 L765.2,351.7 L766.2,361.9 L767.2,372.0 L768.3,381.7 L769.3,390.5 L770.4,397.9 L771.4,403.7 L772.3,394.9 L773.3,383.2 L774.2,369.4 L775.2,354.9 L776.1,341.1 L777.1,329.4 L778.0,320.6 L779.0,325.2 L780.0,331.0 L780.9,337.8 L781.9,345.4 L782.9,353.4 L783.9,361.4 L784.9,369.0 L785.8,375.8 L786.8,381.6 L787.8,386.2 L788.8,383.5 L789.8,380.1 L790.9,376.1 L791.9,371.7 L792.9,367.0 L793.9,362.2 L794.9,357.5 L795.9,353.1 L797.0,349.1 L798.0,345.7 L799.0,343.0 L800.0,345.0 L800.9,347.5 L801.9,350.5 L802.9,353.8 L803.8,357.3 L804.8,360.9 L805.7,364.4 L806.7,367.7 L807.7,370.7 L808.6,373.2 L809.6,375.2 L810.6,372.9 L811.7,369.9 L812.8,366.4 L813.8,362.6 L814.9,358.8 L815.9,355.3 L817.0,352.3 L818.0,350.0 L819.0,351.9 L820.1,354.2 L821.1,356.9 L822.1,359.9 L823.1,363.2 L824.2,366.4 L825.2,369.7 L826.2,372.7 L827.2,375.4 L828.3,377.7 L829.3,379.6 L830.3,376.8 L831.2,373.3 L832.2,369.1 L833.2,364.5 L834.1,359.7 L835.1,355.1 L836.1,350.9 L837.0,347.4 L838.0,344.6 L839.0,347.3 L840.0,350.9 L841.0,355.1 L842.0,359.5 L843.0,363.7 L844.0,367.3 L845.0,370.0 L846.0,366.2 L847.1,361.0 L848.1,355.0 L849.2,348.7 L850.2,342.7 L851.3,337.5 L852.3,333.7 L853.4,342.0 L854.5,353.6 L855.5,366.3 L856.6,377.9 L857.7,386.2 L858.7,382.1 L859.6,376.6 L860.6,370.2 L861.5,363.2 L862.5,356.3 L863.5,349.9 L864.4,344.4 L865.4,340.3 L866.3,346.9 L867.2,356.2 L868.2,366.4 L869.1,375.7 L870.0,382.3 L871.0,378.5 L871.9,373.6 L872.9,367.9 L873.8,361.5 L874.8,354.9 L875.7,348.2 L876.6,341.8 L877.6,336.1 L878.5,331.2 L879.5,327.4 L880.5,329.9 L881.4,332.8 L882.4,336.2 L883.4,339.9 L884.3,344.0 L885.3,348.3 L886.3,352.8 L887.2,357.4 L888.2,361.9 L889.2,366.4 L890.2,370.7 L891.1,374.8 L892.1,378.5 L893.1,381.9 L894.0,384.8 L895.0,387.3 L895.9,382.3 L896.9,375.8 L897.8,368.2 L898.8,359.9 L899.7,351.5 L900.6,343.9 L901.6,337.4 L902.5,332.4 L903.5,338.1 L904.6,345.9 L905.6,354.9 L906.6,363.9 L907.7,371.7 L908.7,377.4 L909.7,373.1 L910.8,367.3 L911.8,360.5 L912.8,353.8 L913.9,348.0 L914.9,343.7 L915.9,345.5 L916.9,347.7 L917.9,350.2 L918.9,353.0 L919.9,356.0 L920.9,359.2 L921.9,362.6 L922.9,365.9 L923.9,369.3 L924.9,372.5 L925.9,375.5 L926.9,378.3 L927.9,380.8 L928.9,383.0 L929.9,384.8 L930.9,378.9 L931.9,371.4 L932.9,362.5 L933.9,352.7 L934.9,342.4 L935.9,332.1 L936.9,322.3 L937.9,313.4 L938.9,305.9 L939.9,300.0 L940.9,306.3 L941.9,314.1 L943.0,323.2 L944.0,333.4 L945.0,344.3 L946.0,355.5 L947.0,366.4 L948.0,376.6 L949.1,385.7 L950.1,393.5 L951.1,399.8 L952.1,395.6 L953.2,390.3 L954.2,384.2 L955.3,377.4 L956.3,370.0 L957.4,362.4 L958.4,354.8 L959.4,347.4 L960.5,340.6 L961.5,334.5 L962.6,329.2 L963.6,325.0 L964.6,330.3 L965.5,337.1 L966.5,345.2 L967.5,354.1 L968.4,363.2 L969.4,372.1 L970.4,380.2 L971.3,387.0 L972.3,392.3 L973.2,384.6 L974.2,374.6 L975.1,362.8 L976.0,349.9 L977.0,337.0 L977.9,325.2 L978.9,315.2 L979.8,307.5 L980.8,314.7 L981.7,324.1 L982.7,335.3 L983.6,347.4 L984.6,359.5 L985.6,370.7 L986.5,380.1 L987.5,387.3 L988.4,383.1 L989.4,377.6 L990.3,371.2 L991.2,364.1 L992.2,357.1 L993.1,350.7 L994.1,345.2 L995.0,341.0 L996.0,342.6 L997.0,344.6 L997.9,346.8 L998.9,349.4 L999.9,352.1 L1000.9,355.0 L1001.9,357.9 L1002.8,360.9 L1003.8,363.8 L1004.8,366.5 L1005.8,369.1 L1006.7,371.3 L1007.7,373.3 L1008.7,374.9 L1009.6,371.4 L1010.6,366.8 L1011.5,361.4 L1012.5,355.5 L1013.4,349.7 L1014.3,344.3 L1015.3,339.7 L1016.2,336.2 L1017.2,339.3 L1018.2,343.1 L1019.2,347.7 L1020.2,352.8 L1021.2,358.1 L1022.2,363.4 L1023.2,368.5 L1024.2,373.1 L1025.2,376.9 L1026.2,380.0 L1027.2,376.7 L1028.1,372.6 L1029.1,367.6 L1030.1,362.2 L1031.0,356.5 L1032.0,351.1 L1033.0,346.1 L1033.9,342.0 L1034.9,338.7 L1035.9,341.6 L1036.9,345.2 L1037.9,349.5 L1038.9,354.3 L1039.9,359.4 L1040.9,364.4 L1041.9,369.2 L1042.9,373.5 L1043.9,377.1 L1044.9,380.0 L1045.9,376.9 L1046.8,372.8 L1047.8,368.0 L1048.8,362.7 L1049.7,357.3 L1050.7,352.0 L1051.7,347.2 L1052.6,343.1 L1053.6,340.0 L1054.6,342.9 L1055.6,346.7 L1056.5,351.2 L1057.5,356.2 L1058.5,361.2 L1059.5,366.2 L1060.4,370.7 L1061.4,374.5 L1062.4,377.4 L1063.3,373.6 L1064.3,368.6 L1065.2,362.6 L1066.2,356.2 L1067.1,349.8 L1068.0,343.8 L1069.0,338.8 L1069.9,335.0 L1070.9,337.3 L1072.0,340.1 L1073.0,343.3 L1074.1,347.0 L1075.1,350.9 L1076.2,354.9 L1077.2,359.0 L1078.2,362.9 L1079.3,366.6 L1080.3,369.8 L1081.4,372.6 L1082.4,374.9 L1083.4,372.1 L1084.4,368.6 L1085.4,364.4 L1086.4,359.8 L1087.3,354.9 L1088.3,350.1 L1089.3,345.5 L1090.3,341.3 L1091.3,337.8 L1092.3,335.0 L1093.3,338.2 L1094.4,342.2 L1095.5,346.9 L1096.5,352.2 L1097.5,357.8 L1098.6,363.3 L1099.6,368.6 L1100.7,373.3 L1101.8,377.3 L1102.8,380.5 L1103.8,376.9 L1104.9,372.1 L1106.0,366.5 L1107.0,360.4 L1108.0,354.3 L1109.1,348.7 L1110.2,343.9 L1111.2,340.3 L1112.1,343.6 L1113.1,347.9 L1114.0,353.1 L1115.0,358.4 L1115.9,363.6 L1116.9,367.9 L1117.8,371.2 L1118.7,365.6 L1119.7,357.7 L1120.6,349.1 L1121.6,341.2 L1122.5,335.6 L1123.6,341.3 L1124.7,349.1 L1125.8,358.1 L1126.8,367.0 L1127.9,374.8 L1129.0,380.5 L1129.9,377.2 L1130.9,372.9 L1131.8,367.8 L1132.8,362.2 L1133.7,356.7 L1134.6,351.6 L1135.6,347.3 L1136.5,344.0 L1137.5,345.3 L1138.4,347.0 L1139.4,348.8 L1140.4,350.9 L1141.3,353.2 L1142.3,355.6 L1143.2,358.0 L1144.2,360.4 L1145.2,362.8 L1146.1,365.1 L1147.1,367.2 L1148.1,369.0 L1149.0,370.7 L1150.0,372.0 L1151.0,370.4 L1152.0,368.5 L1152.9,366.4 L1153.9,363.9 L1154.9,361.3 L1155.9,358.5 L1156.8,355.6 L1157.8,352.8 L1158.8,350.0 L1159.8,347.4 L1160.8,344.9 L1161.7,342.8 L1162.7,340.9 L1163.7,339.3 L1164.7,342.7 L1165.8,347.1 L1166.8,352.2 L1167.8,357.9 L1168.9,363.8 L1169.9,369.5 L1170.9,374.6 L1172.0,379.0 L1173.0,382.4 L1174.0,379.7 L1175.0,376.4 L1176.0,372.4 L1177.0,368.0 L1178.0,363.4 L1179.1,358.6 L1180.1,353.9 L1181.1,349.5 L1182.1,345.6 L1183.1,342.2 L1184.1,339.6 L1185.1,342.4 L1186.1,346.0 L1187.1,350.3 L1188.1,355.0 L1189.0,359.9 L1190.0,364.6 L1191.0,368.9 L1192.0,372.5 L1193.0,375.3 L1194.0,372.7 L1195.1,369.5 L1196.1,365.6 L1197.1,361.3 L1198.2,356.8 L1199.2,352.3 L1200.2,348.0 L1201.2,344.2 L1202.3,340.9 L1203.3,338.3 L1204.3,341.7 L1205.2,346.1 L1206.2,351.3 L1207.1,357.0 L1208.1,362.9 L1209.0,368.6 L1210.0,373.7 L1210.9,378.1 L1211.9,381.5 L1212.9,377.8 L1214.0,373.0 L1215.0,367.4 L1216.1,361.1 L1217.1,354.7 L1218.2,348.5 L1219.2,342.8 L1220.3,338.0 L1221.3,334.3 L1222.3,337.8 L1223.3,342.2 L1224.4,347.5 L1225.4,353.3 L1226.4,359.3 L1227.4,365.2 L1228.5,370.5 L1229.5,374.9 L1230.5,378.4 L1231.5,375.2 L1232.5,371.0 L1233.5,366.0 L1234.5,360.6 L1235.6,355.0 L1236.6,349.6 L1237.6,344.7 L1238.6,340.5 L1239.6,337.2 L1240.6,340.1 L1241.7,343.7 L1242.7,347.9 L1243.7,352.7 L1244.8,357.6 L1245.8,362.6 L1246.8,367.3 L1247.8,371.6 L1248.9,375.2 L1249.9,378.0 L1250.8,374.6 L1251.8,370.1 L1252.7,364.8 L1253.7,359.1 L1254.6,353.4 L1255.5,348.1 L1256.5,343.6 L1257.4,340.2 L1258.4,342.5 L1259.3,345.5 L1260.3,349.0 L1261.2,353.0 L1262.2,357.1 L1263.2,361.2 L1264.1,365.1 L1265.1,368.6 L1266.0,371.6 L1267.0,374.0 L1268.0,371.4 L1269.0,368.1 L1270.0,364.3 L1271.0,360.0 L1272.1,355.6 L1273.1,351.3 L1274.1,347.5 L1275.1,344.2 L1276.1,341.6 L1277.1,344.3 L1278.1,347.7 L1279.1,351.7 L1280.1,356.2 L1281.2,360.8 L1282.2,365.2 L1283.2,369.2 L1284.2,372.7 L1285.2,375.3 L1286.2,373.1 L1287.1,370.2 L1288.1,366.9 L1289.0,363.2 L1290.0,359.3 L1291.0,355.4 L1291.9,351.7 L1292.9,348.4 L1293.8,345.5 L1294.8,343.3 L1295.8,345.3 L1296.8,347.7 L1297.7,350.6 L1298.7,353.9 L1299.7,357.3 L1300.7,360.7 L1301.7,363.9 L1302.6,366.8 L1303.6,369.3 L1304.6,371.3 L1305.6,369.3 L1306.6,366.9 L1307.6,364.0 L1308.6,360.7 L1309.5,357.4 L1310.5,354.0 L1311.5,350.8 L1312.5,347.9 L1313.5,345.4 L1314.5,343.5 L1315.5,345.5 L1316.5,348.0 L1317.5,351.1 L1318.5,354.4 L1319.5,357.9 L1320.6,361.5 L1321.6,364.8 L1322.6,367.8 L1323.6,370.4 L1324.6,372.4 L1325.5,370.5 L1326.5,368.0 L1327.4,365.1 L1328.4,361.8 L1329.3,358.4 L1330.3,355.0 L1331.2,351.8 L1332.2,348.9 L1333.1,346.4 L1334.1,344.5 L1335.1,346.7 L1336.0,349.6 L1337.0,353.0 L1338.0,356.8 L1338.9,360.6 L1339.9,364.4 L1340.9,367.8 L1341.8,370.7 L1342.8,372.9 L1343.8,370.9 L1344.7,368.2 L1345.7,365.0 L1346.7,361.5 L1347.6,357.9 L1348.6,354.4 L1349.6,351.3 L1350.5,348.6 L1351.5,346.5 L1352.5,348.0 L1353.4,349.8 L1354.4,352.0 L1355.4,354.5 L1356.4,357.0 L1357.3,359.7 L1358.3,362.3 L1359.3,364.7 L1360.3,366.9 L1361.2,368.8 L1362.2,370.2 L1363.2,368.4 L1364.1,366.0 L1365.1,363.2 L1366.1,360.1 L1367.0,356.9 L1368.0,353.8 L1369.0,350.9 L1369.9,348.5 L1370.9,346.7 L1371.9,348.4 L1372.9,350.5 L1373.9,353.0 L1374.9,355.8 L1376.0,358.7 L1377.0,361.5 L1378.0,364.1 L1379.0,366.2 L1380.0,367.9 L1381.1,365.9 L1382.1,363.3 L1383.2,360.3 L1384.2,357.0 L1385.3,353.7 L1386.4,350.7 L1387.4,348.1 L1388.5,346.2 L1389.5,348.5 L1390.6,351.6 L1391.7,355.3 L1392.7,359.2 L1393.8,363.2 L1394.8,366.8 L1395.9,369.9 L1396.9,372.3 L1398.0,370.2 L1399.0,367.5 L1400.0,364.2 L1401.1,360.7 L1402.2,357.2 L1403.2,354.0 L1404.2,351.3 L1405.3,349.2 L1406.4,351.1 L1407.4,353.5 L1408.5,356.4 L1409.5,359.6 L1410.6,362.8 L1411.7,365.7 L1412.7,368.1 L1413.8,370.0 L1414.8,368.5 L1415.9,366.6 L1417.0,364.4 L1418.0,361.9 L1419.0,359.3 L1420.1,356.7 L1421.1,354.3 L1422.2,352.0 L1423.2,350.2 L1424.3,348.7 L1425.3,350.9 L1426.4,353.9 L1427.5,357.3 L1428.5,361.1 L1429.5,364.9 L1430.6,368.4 L1431.7,371.3 L1432.7,373.6 L1433.8,371.1 L1434.8,367.9 L1435.9,364.0 L1437.0,359.9 L1438.0,355.7 L1439.1,351.9 L1440.1,348.6 L1441.2,346.2 L1442.2,348.6 L1443.3,351.6 L1444.3,355.3 L1445.4,359.3 L1446.4,363.5 L1447.5,367.5 L1448.5,371.1 L1449.6,374.2 L1450.6,376.6 L1451.6,374.1 L1452.6,371.0 L1453.6,367.3 L1454.6,363.2 L1455.7,358.8 L1456.7,354.5 L1457.7,350.4 L1458.7,346.7 L1459.7,343.5 L1460.7,341.0 L1461.7,343.6 L1462.7,346.9 L1463.7,350.8 L1464.7,355.1 L1465.6,359.5 L1466.6,363.8 L1467.6,367.7 L1468.6,371.0 L1469.6,373.6 L1470.6,371.0 L1471.7,367.6 L1472.8,363.6 L1473.8,359.3 L1474.8,355.0 L1475.9,351.0 L1477.0,347.7 L1478.0,345.1 L1479.0,346.8 L1479.9,349.0 L1480.8,351.5 L1481.8,354.3 L1482.8,357.3 L1483.7,360.3 L1484.7,363.1 L1485.6,365.7 L1486.5,367.8 L1487.5,369.5 L1488.5,368.1 L1489.6,366.4 L1490.7,364.3 L1491.7,362.0 L1492.8,359.6 L1493.8,357.2 L1494.8,354.9 L1495.9,352.8 L1497.0,351.1 L1498.0,349.7 L1499.1,351.7 L1500.1,354.3 L1501.2,357.5 L1502.2,360.7 L1503.3,363.9 L1504.3,366.5 L1505.4,368.5 L1506.4,367.1 L1507.5,365.3 L1508.5,363.2 L1509.6,360.8 L1510.6,358.4 L1511.7,356.0 L1512.7,353.9 L1513.8,352.1 L1514.8,350.7 L1515.8,351.7 L1516.7,353.0 L1517.6,354.4 L1518.6,356.1 L1519.5,357.8 L1520.5,359.5 L1521.5,361.2 L1522.4,362.7 L1523.3,363.9 L1524.3,364.9 L1525.4,363.3 L1526.4,361.1 L1527.5,358.6 L1528.5,356.4 L1529.6,354.8 L1530.6,355.9 L1531.7,357.5 L1532.8,359.3 L1533.8,361.2 L1534.9,362.8 L1535.9,363.9 L1536.9,362.4 L1537.9,360.3 L1539.0,357.9 L1540.0,355.8 L1541.0,354.3 L1542.1,355.2 L1543.1,356.4 L1544.2,357.9 L1545.2,359.4 L1546.3,360.9 L1547.3,362.1 L1548.4,363.1 L1549.4,362.4 L1550.4,361.7 L1551.3,360.7 L1552.3,359.7 L1553.3,358.6 L1554.3,357.5 L1555.3,356.4 L1556.3,355.4 L1557.2,354.5 L1558.2,353.7 L1559.2,353.1 L1560.2,353.8 L1561.2,354.8 L1562.1,355.8 L1563.1,357.0 L1564.1,358.3 L1565.1,359.6 L1566.1,360.8 L1567.0,361.8 L1568.0,362.8 L1569.0,363.5 L1570.0,362.1 L1571.1,360.2 L1572.1,358.0 L1573.1,355.6 L1574.1,353.4 L1575.2,351.5 L1576.2,350.1 L1577.2,351.2 L1578.2,352.5 L1579.2,354.2 L1580.2,356.0 L1581.2,357.9 L1582.1,359.8 L1583.1,361.6 L1584.1,363.2 L1585.1,364.6 L1586.1,365.7 L1587.1,363.8 L1588.2,361.2 L1589.2,358.3 L1590.3,355.4 L1591.4,352.8 L1592.4,350.9 L1593.4,352.3 L1594.4,354.0 L1595.4,356.0 L1596.4,358.2 L1597.3,360.5 L1598.3,362.8 L1599.3,364.8 L1600.3,366.5 L1601.3,367.8 L1602.3,366.4 L1603.3,364.5 L1604.3,362.2 L1605.3,359.8 L1606.3,357.2 L1607.3,354.8 L1608.3,352.6 L1609.3,350.7 L1610.3,349.2 L1611.3,350.8 L1612.3,352.9 L1613.3,355.3 L1614.3,358.0 L1615.3,360.8 L1616.3,363.5 L1617.3,365.9 L1618.3,368.0 L1619.3,369.6 L1620.3,367.9 L1621.3,365.7 L1622.3,363.1 L1623.3,360.2 L1624.3,357.3 L1625.3,354.4 L1626.3,351.8 L1627.3,349.6 L1628.3,347.9 L1629.3,349.9 L1630.4,352.5 L1631.4,355.6 L1632.4,358.8 L1633.4,361.9 L1634.5,364.6 L1635.5,366.5 L1636.5,365.4 L1637.6,364.0 L1638.6,362.4 L1639.6,360.6 L1640.6,358.6 L1641.7,356.7 L1642.7,354.7 L1643.7,352.9 L1644.7,351.3 L1645.8,349.9 L1646.8,348.8 L1647.8,350.3 L1648.9,352.3 L1650.0,354.7 L1651.0,357.2 L1652.0,359.8 L1653.1,362.1 L1654.2,364.1 L1655.2,365.7 L1656.2,364.1 L1657.3,362.1 L1658.3,359.8 L1659.3,357.3 L1660.3,354.9 L1661.4,352.9 L1662.4,351.4 L1663.4,352.3 L1664.4,353.5 L1665.4,355.0 L1666.5,356.6 L1667.5,358.1 L1668.5,359.6 L1669.5,360.8 L1670.5,361.7 L1671.5,361.3 L1672.5,360.7 L1673.5,360.1 L1674.5,359.3 L1675.4,358.6 L1676.4,357.8 L1677.4,357.2 L1678.4,356.6 L1679.4,356.2 L1680.3,356.6 L1681.3,357.2 L1682.2,357.9 L1683.1,358.5 L1684.1,359.1 L1685.0,359.6" stroke="#7f5549"/><path d="M138.7,362.4 L139.5,361.0 L147.3,346.4 L149.4,346.9 L163.0,366.8 L165.0,368.2 L171.8,363.5 L173.3,361.1 L182.3,341.3 L183.8,341.8 L191.1,366.9 L192.5,368.4 L199.3,358.9 L200.8,358.5 L209.1,363.2 L210.7,362.3 L219.1,347.6 L220.7,347.0 L229.2,355.3 L231.1,357.1 L242.5,367.1 L244.9,366.3 L258.7,347.0 L260.4,345.2 L265.1,345.2 L266.3,347.3 L275.2,369.9 L276.4,372.0 L280.9,372.0 L282.1,369.6 L290.3,343.8 L292.1,343.2 L303.2,362.5 L304.9,363.5 L311.7,355.3 L313.0,355.5 L318.9,365.5 L320.5,364.9 L330.5,348.4 L332.3,349.0 L340.6,372.5 L342.5,372.2 L353.9,345.5 L355.6,344.6 L362.0,361.6 L363.2,362.8 L369.1,358.2 L370.1,359.0 L374.8,371.8 L376.4,369.9 L388.7,337.9 L391.4,338.3 L406.6,375.3 L409.8,375.0 L428.2,335.6 L430.8,335.6 L440.3,375.0 L441.8,378.3 L448.3,372.5 L449.9,368.9 L460.8,335.9 L463.3,336.5 L479.5,375.3 L482.1,375.6 L493.2,339.9 L495.0,339.3 L502.1,368.4 L503.4,367.6 L509.7,329.8 L511.3,331.7 L521.4,390.0 L523.3,390.3 L532.8,335.2 L534.4,332.7 L541.4,361.0 L542.5,362.2 L546.4,346.5 L547.7,349.0 L557.1,391.5 L558.8,388.6 L567.5,316.3 L569.1,316.4 L576.9,390.4 L578.5,392.7 L587.2,343.1 L588.6,341.5 L595.4,373.7 L596.8,373.8 L605.4,342.3 L606.7,340.4 L611.4,352.3 L612.3,353.3 L617.1,352.5 L618.2,354.0 L625.2,370.5 L626.2,371.8 L629.3,368.7 L630.0,367.4 L633.9,357.2 L634.6,356.6 L637.8,361.4 L638.9,359.0 L647.6,329.0 L649.2,331.4 L657.9,386.6 L659.6,387.5 L669.0,341.8 L670.3,338.7 L675.1,351.2 L676.0,351.3 L681.6,339.5 L682.8,342.9 L690.7,390.1 L692.2,390.6 L700.9,348.9 L702.3,346.2 L708.6,359.6 L709.4,360.7 L711.8,358.2 L712.6,356.8 L719.4,344.3 L720.9,346.3 L730.3,380.1 L732.0,379.1 L740.7,335.1 L742.2,333.4 L749.3,359.3 L750.4,361.3 L755.2,355.7 L756.3,357.7 L763.3,383.6 L765.0,382.2 L775.2,341.4 L777.3,340.0 L789.1,365.9 L790.6,367.3 L794.5,356.3 L795.7,356.8 L803.5,374.2 L805.2,373.0 L814.6,343.1 L816.7,342.6 L829.3,367.0 L831.6,367.7 L843.4,351.2 L844.9,350.4 L849.3,359.1 L850.3,358.9 L856.6,348.8 L857.9,349.7 L864.9,369.3 L866.7,369.0 L878.5,346.2 L880.6,346.0 L890.8,367.3 L892.2,369.2 L897.0,368.5 L898.2,366.2 L906.9,343.4 L908.7,342.4 L918.9,355.0 L920.7,357.4 L929.4,370.0 L931.2,368.7 L941.4,342.8 L943.2,342.4 L951.9,364.4 L953.4,365.4 L960.4,353.5 L961.8,353.8 L968.8,367.9 L970.6,367.7 L982.0,351.2 L983.7,350.7 L990.0,362.6 L991.4,362.3 L999.2,347.3 L1000.7,348.4 L1007.7,374.3 L1009.2,373.9 L1017.9,343.2 L1019.3,342.3 L1025.6,363.5 L1027.0,364.2 L1035.7,350.9 L1037.2,351.6 L1044.2,372.0 L1046.1,371.4 L1058.7,344.7 L1060.6,343.9 L1067.6,362.8 L1068.8,364.2 L1074.4,360.3 L1075.5,360.1 L1081.8,362.5 L1083.6,361.7 L1096.0,351.6 L1098.4,352.3 L1111.0,370.4 L1113.5,370.3 L1126.8,351.4 L1128.8,350.6 L1135.8,361.7 L1137.3,361.8 L1146.0,352.4 L1147.9,353.1 L1159.7,370.5 L1162.1,369.8 L1175.5,345.4 L1177.9,345.4 L1189.4,369.8 L1191.0,372.0 L1196.6,371.3 L1198.0,368.2 L1207.4,336.7 L1209.2,336.0 L1219.1,360.4 L1220.8,364.2 L1229.7,380.1 L1231.4,377.7 L1240.9,337.1 L1242.6,336.2 L1251.5,367.4 L1252.7,369.4 L1257.5,359.5 L1258.6,358.7 L1265.6,361.1 L1267.2,360.5 L1276.7,351.5 L1278.2,351.8 L1284.7,363.7 L1286.1,363.7 L1295.0,351.8 L1296.6,351.7 L1304.9,361.7 L1306.6,362.4 L1316.0,359.5 L1317.5,359.6 L1324.0,363.7 L1325.4,362.4 L1333.7,344.7 L1335.2,344.6 L1342.9,361.1 L1344.0,362.6 L1348.8,362.1 L1349.8,362.4 L1356.3,366.5 L1357.9,365.2 L1367.9,346.8 L1369.9,346.8 L1380.5,364.5 L1381.9,365.6 L1386.7,359.8 L1388.0,359.7 L1397.5,365.0 L1399.2,364.2 L1407.6,351.0 L1409.4,350.3 L1420.0,356.8 L1422.0,358.5 L1432.7,369.9 L1434.6,369.0 L1444.4,348.4 L1446.2,347.4 L1455.9,357.4 L1457.9,359.0 L1469.4,365.2 L1471.6,364.7 L1483.1,353.2 L1485.1,352.8 L1494.9,359.8 L1496.3,360.0 L1501.6,354.7 L1502.7,354.8 L1508.9,361.0 L1510.4,360.9 L1520.1,353.9 L1521.8,354.0 L1529.7,361.8 L1531.2,362.2 L1538.3,358.4 L1539.8,356.9 L1547.6,344.8 L1549.5,345.9 L1560.9,369.6 L1563.0,369.7 L1573.6,347.9 L1575.4,346.5 L1584.2,354.3 L1586.3,355.8 L1599.4,364.7 L1601.8,363.9 L1613.0,346.5 L1615.0,345.9 L1624.1,357.0 L1626.2,358.5 L1639.0,363.2 L1640.8,362.7 L1646.7,352.2 L1648.3,352.3 L1658.9,364.4 L1660.8,364.6 L1669.8,354.8 L1671.3,354.4 L1677.4,359.5 L1678.7,359.7 L1686.1,356.9 L1686.8,356.6" stroke="#d07cbb"/></g><text x="972.7" y="53" text-anchor="middle" font-family="Liberation Sans" font-weight="bold" font-size="31.5" fill="#444" stroke="#444" stroke-width="0.4" textLength="162" lengthAdjust="spacingAndGlyphs">N09E Axis</text><text x="160.2" y="609" text-anchor="middle" font-family="Liberation Sans" font-size="21.3" fill="#444" textLength="94.3" lengthAdjust="spacingAndGlyphs">09:03:30</text><text x="359.8" y="609" text-anchor="middle" font-family="Liberation Sans" font-size="21.3" fill="#444" textLength="94.3" lengthAdjust="spacingAndGlyphs">09:04:00</text><text x="559.3" y="609" text-anchor="middle" font-family="Liberation Sans" font-size="21.3" fill="#444" textLength="94.3" lengthAdjust="spacingAndGlyphs">09:04:30</text><text x="758.9" y="609" text-anchor="middle" font-family="Liberation Sans" font-size="21.3" fill="#444" textLength="94.3" lengthAdjust="spacingAndGlyphs">09:05:00</text><text x="958.5" y="609" text-anchor="middle" font-family="Liberation Sans" font-size="21.3" fill="#444" textLength="94.3" lengthAdjust="spacingAndGlyphs">09:05:30</text><text x="1158.0" y="609" text-anchor="middle" font-family="Liberation Sans" font-size="21.3" fill="#444" textLength="94.3" lengthAdjust="spacingAndGlyphs">09:06:00</text><text x="1357.6" y="609" text-anchor="middle" font-family="Liberation Sans" font-size="21.3" fill="#444" textLength="94.3" lengthAdjust="spacingAndGlyphs">09:06:30</text><text x="1557.2" y="609" text-anchor="middle" font-family="Liberation Sans" font-size="21.3" fill="#444" textLength="94.3" lengthAdjust="spacingAndGlyphs">09:07:00</text><text x="134" y="208.5" text-anchor="end" font-family="Liberation Sans" font-size="20.5" fill="#444" textLength="50.1" lengthAdjust="spacingAndGlyphs">400μ</text><text x="134" y="288.3" text-anchor="end" font-family="Liberation Sans" font-size="20.5" fill="#444" textLength="50.1" lengthAdjust="spacingAndGlyphs">200μ</text><text x="134" y="368.1" text-anchor="end" font-family="Liberation Sans" font-size="20.5" fill="#444" textLength="12" lengthAdjust="spacingAndGlyphs">0</text><text x="134" y="448.0" text-anchor="end" font-family="Liberation Sans" font-size="20.5" fill="#444" textLength="65.7" lengthAdjust="spacingAndGlyphs">−200μ</text><text x="134" y="527.8" text-anchor="end" font-family="Liberation Sans" font-size="20.5" fill="#444" textLength="65.7" lengthAdjust="spacingAndGlyphs">−400μ</text><g transform="translate(58.7,480.8) rotate(-90)"><text x="0" y="0" font-family="Liberation Sans" font-weight="bold" font-size="24" fill="#444" textLength="176.8" lengthAdjust="spacingAndGlyphs">Displacement</text><text x="192.6" y="0" text-anchor="middle" font-family="Liberation Sans" font-weight="bold" font-size="24" fill="#444" textLength="10" lengthAdjust="spacingAndGlyphs">(</text><text x="213.6" y="0" text-anchor="middle" font-family="Liberation Sans" font-weight="bold" font-size="24" fill="#444" textLength="27" lengthAdjust="spacingAndGlyphs">%</text><text x="234.6" y="0" text-anchor="middle" font-family="Liberation Sans" font-weight="bold" font-size="24" fill="#444" textLength="10" lengthAdjust="spacingAndGlyphs">)</text></g><rect x="1726" y="157.7" width="51" height="3" fill="#3468a3"/><text x="1784" y="166.8" font-family="Liberation Sans" font-size="20.5" fill="#444" textLength="92.3" lengthAdjust="spacingAndGlyphs">Floor: 23</text><rect x="1726" y="189.3" width="51" height="3" fill="#e3812f"/><text x="1784" y="198.4" font-family="Liberation Sans" font-size="20.5" fill="#444" textLength="92.3" lengthAdjust="spacingAndGlyphs">Floor: 19</text><rect x="1726" y="220.8" width="51" height="3" fill="#4a9140"/><text x="1784" y="229.9" font-family="Liberation Sans" font-size="20.5" fill="#444" textLength="92.3" lengthAdjust="spacingAndGlyphs">Floor: 15</text><rect x="1726" y="252.7" width="51" height="3" fill="#b02e2a"/><text x="1784" y="261.8" font-family="Liberation Sans" font-size="20.5" fill="#444" textLength="92.3" lengthAdjust="spacingAndGlyphs">Floor: 10</text><rect x="1726" y="284.3" width="51" height="3" fill="#7d5eab"/><text x="1784" y="293.4" font-family="Liberation Sans" font-size="20.5" fill="#444" textLength="79.6" lengthAdjust="spacingAndGlyphs">Floor: 5</text><rect x="1726" y="316.0" width="51" height="3" fill="#7f5549"/><text x="1784" y="325.1" font-family="Liberation Sans" font-size="20.5" fill="#444" textLength="79.6" lengthAdjust="spacingAndGlyphs">Floor: 2</text><rect x="1726" y="347.8" width="51" height="3" fill="#d07cbb"/><text x="1784" y="356.9" font-family="Liberation Sans" font-size="20.5" fill="#444" textLength="127.2" lengthAdjust="spacingAndGlyphs">Ground floor</text></svg></body></html>
